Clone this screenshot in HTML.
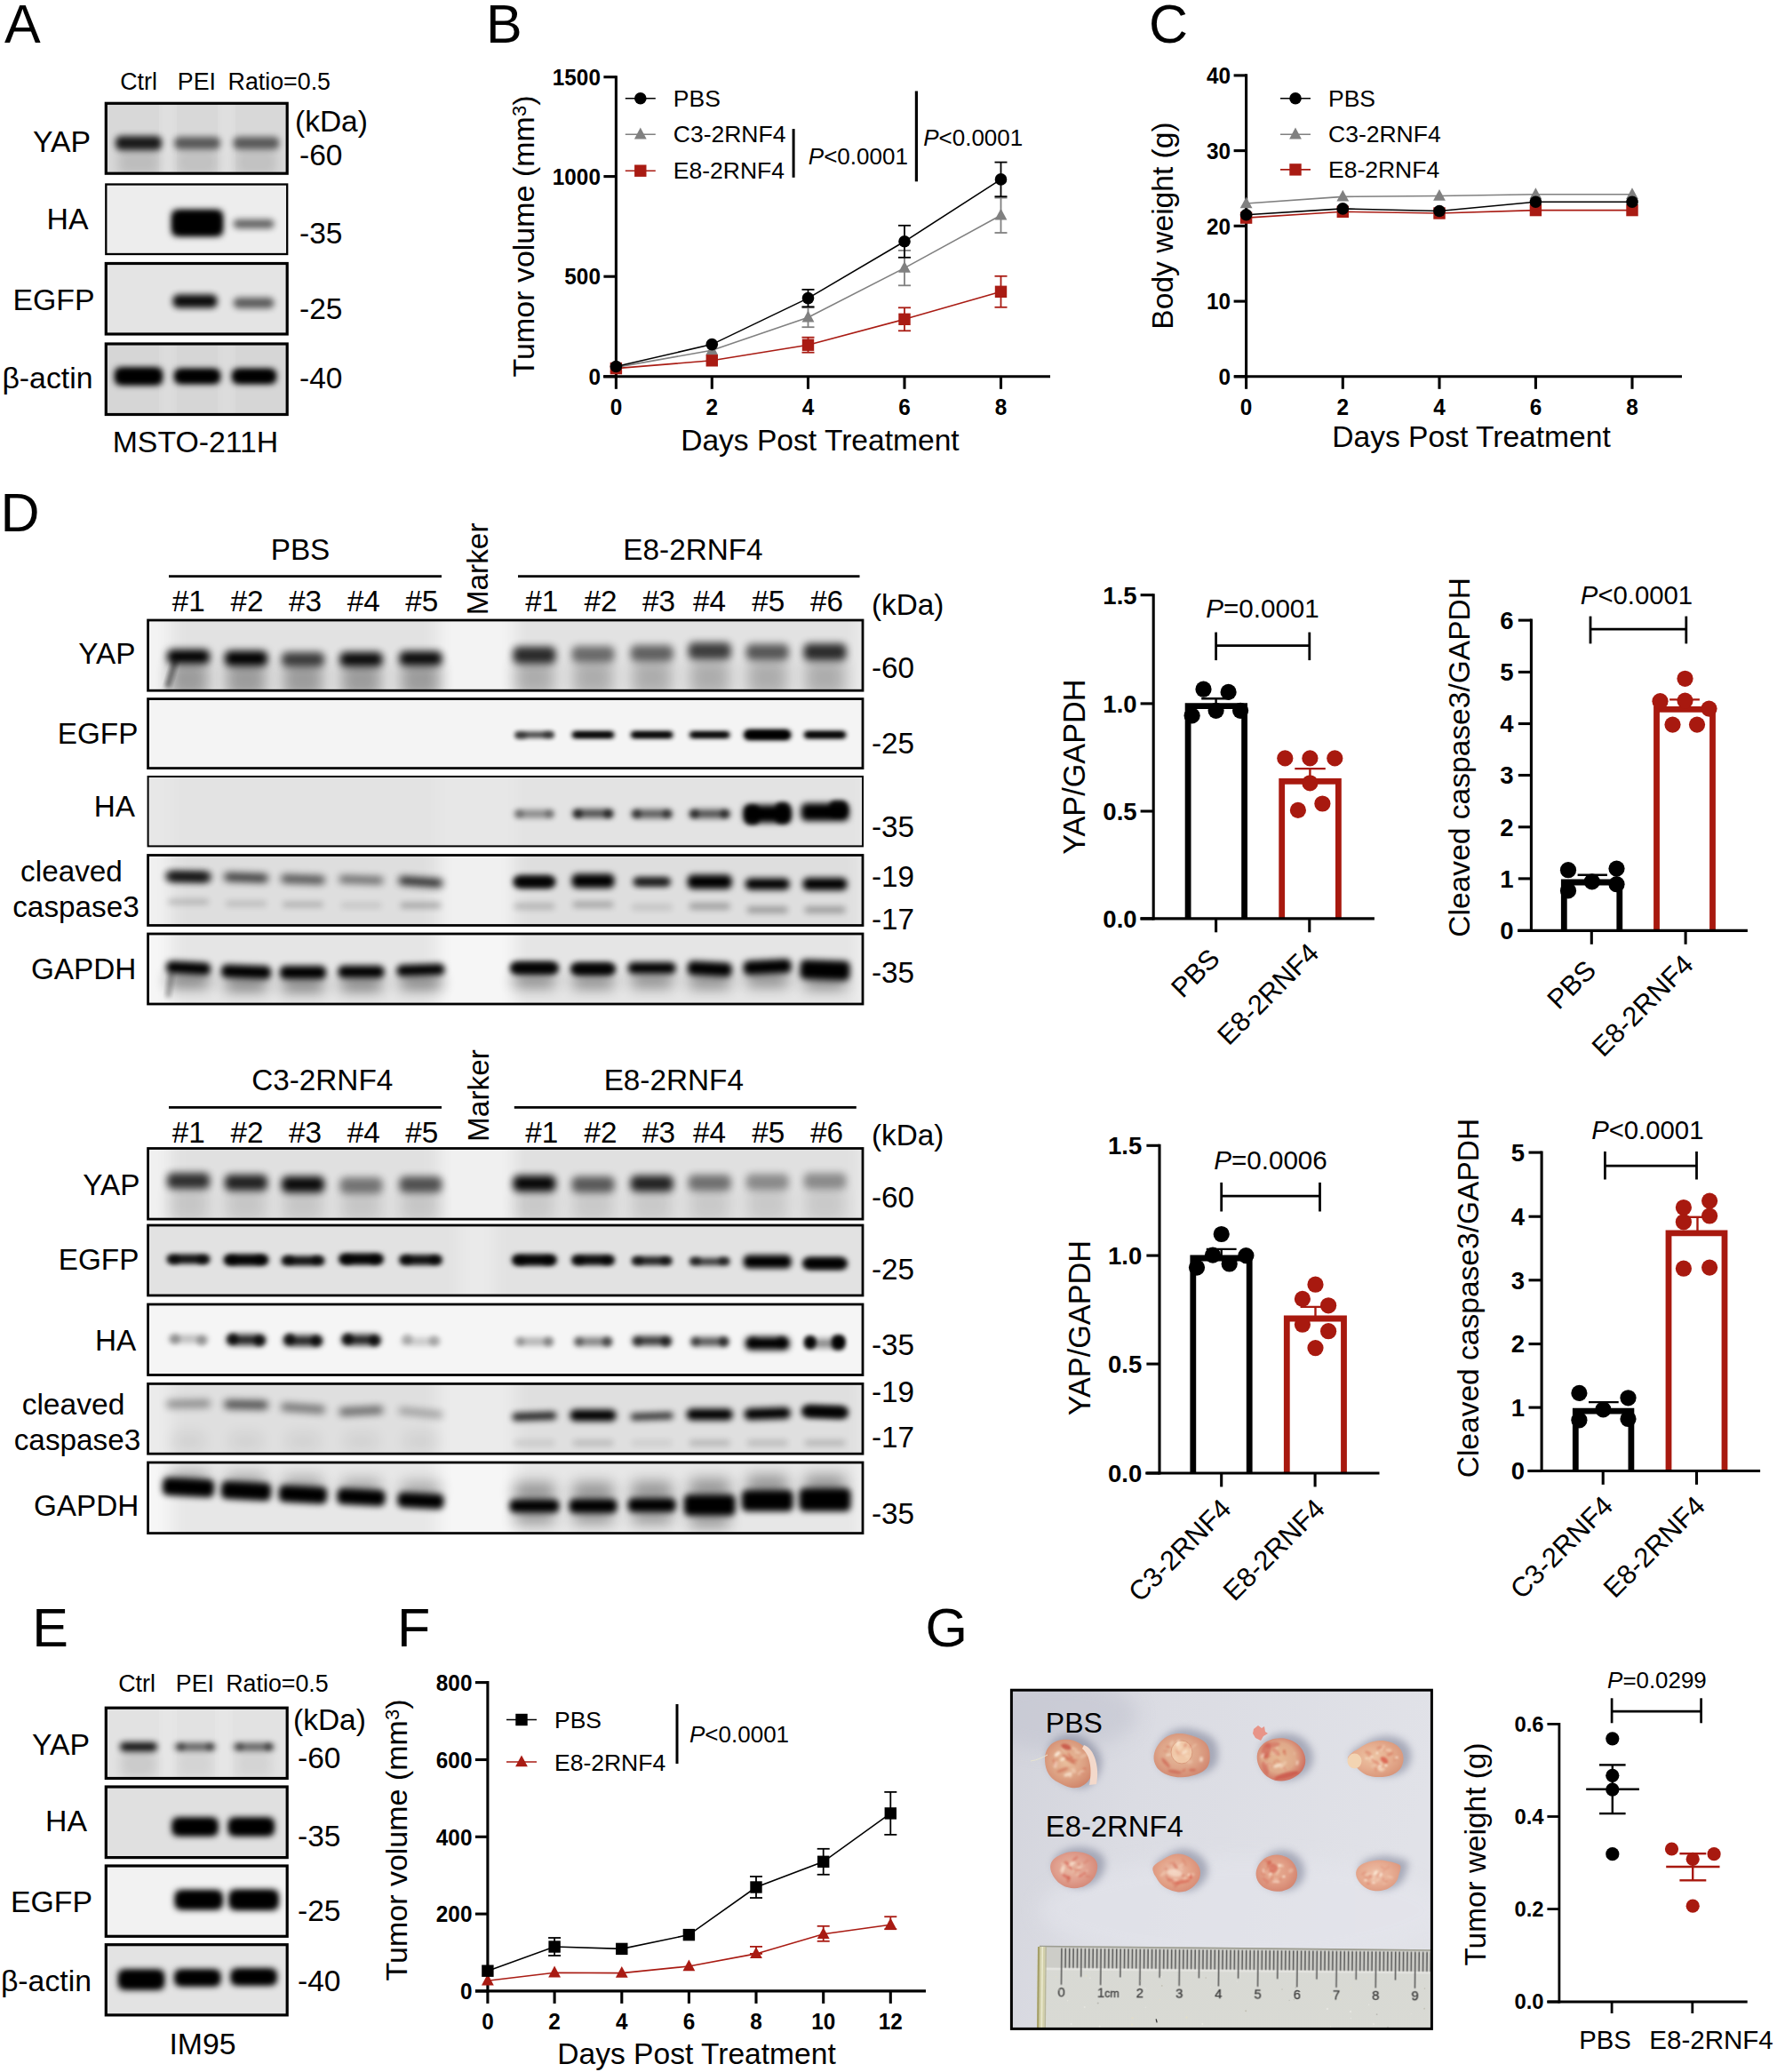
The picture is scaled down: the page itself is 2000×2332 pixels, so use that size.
<!DOCTYPE html>
<html><head><meta charset="utf-8"><title>Figure</title>
<style>
html,body{margin:0;padding:0;background:#fff;}
body{width:2000px;height:2332px;overflow:hidden;}
svg{display:block;font-family:"Liberation Sans", sans-serif;}
</style></head><body>
<svg width="2000" height="2332" viewBox="0 0 2000 2332">
<defs>
<filter id="b1" x="-50%" y="-300%" width="200%" height="700%"><feGaussianBlur stdDeviation="1"/></filter>
<filter id="b2" x="-50%" y="-300%" width="200%" height="700%"><feGaussianBlur stdDeviation="2"/></filter>
<filter id="b3" x="-50%" y="-300%" width="200%" height="700%"><feGaussianBlur stdDeviation="3"/></filter>
<filter id="b35" x="-50%" y="-300%" width="200%" height="700%"><feGaussianBlur stdDeviation="3.5"/></filter>
<filter id="b25" x="-50%" y="-300%" width="200%" height="700%"><feGaussianBlur stdDeviation="2.5"/></filter>
<filter id="b4" x="-50%" y="-300%" width="200%" height="700%"><feGaussianBlur stdDeviation="4"/></filter>
<filter id="b6" x="-50%" y="-300%" width="200%" height="700%"><feGaussianBlur stdDeviation="6"/></filter>
<filter id="b8" x="-50%" y="-300%" width="200%" height="700%"><feGaussianBlur stdDeviation="8"/></filter>
<filter id="b10" x="-50%" y="-300%" width="200%" height="700%"><feGaussianBlur stdDeviation="10"/></filter>
<clipPath id="c1"><rect x="119.3" y="116.3" width="203.9" height="78.9"/></clipPath>
<clipPath id="c2"><rect x="119.3" y="207.5" width="203.9" height="78.5"/></clipPath>
<clipPath id="c3"><rect x="119.3" y="296.5" width="203.9" height="79.5"/></clipPath>
<clipPath id="c4"><rect x="119.3" y="387.0" width="203.9" height="79.5"/></clipPath>
<clipPath id="c5"><rect x="119.3" y="1922.2" width="203.9" height="79.3"/></clipPath>
<clipPath id="c6"><rect x="119.3" y="2011.0" width="203.9" height="79.6"/></clipPath>
<clipPath id="c7"><rect x="119.3" y="2100.0" width="203.9" height="79.3"/></clipPath>
<clipPath id="c8"><rect x="119.3" y="2188.7" width="203.9" height="79.2"/></clipPath>
<clipPath id="c9"><rect x="166.6" y="698.0" width="804.4" height="79.2"/></clipPath>
<clipPath id="c10"><rect x="166.6" y="786.6" width="804.4" height="78.0"/></clipPath>
<clipPath id="c11"><rect x="166.6" y="874.0" width="804.4" height="78.4"/></clipPath>
<clipPath id="c12"><rect x="166.6" y="962.5" width="804.4" height="79.0"/></clipPath>
<clipPath id="c13"><rect x="166.6" y="1051.0" width="804.4" height="79.0"/></clipPath>
<clipPath id="c14"><rect x="166.6" y="1292.5" width="804.4" height="79.6"/></clipPath>
<clipPath id="c15"><rect x="166.6" y="1379.0" width="804.4" height="79.0"/></clipPath>
<clipPath id="c16"><rect x="166.6" y="1468.0" width="804.4" height="79.5"/></clipPath>
<clipPath id="c17"><rect x="166.6" y="1557.4" width="804.4" height="78.8"/></clipPath>
<clipPath id="c18"><rect x="166.6" y="1646.0" width="804.4" height="79.6"/></clipPath>
<filter id="b05" x="-10%" y="-10%" width="120%" height="120%"><feGaussianBlur stdDeviation="0.5"/></filter>
<clipPath id="pc"><rect x="1138.4" y="1902.2" width="473.0" height="381.20000000000005"/></clipPath>
<linearGradient id="pbg" x1="0" y1="0" x2="1" y2="0.25"><stop offset="0" stop-color="#d2d3db"/><stop offset="0.35" stop-color="#dbdce3"/><stop offset="1" stop-color="#e1e2e8"/></linearGradient>
<filter id="b07" x="-10%" y="-10%" width="120%" height="120%"><feGaussianBlur stdDeviation="0.7"/></filter>
<linearGradient id="rul" x1="0" y1="0" x2="0" y2="1"><stop offset="0" stop-color="#d8d9d4"/><stop offset="1" stop-color="#d9dad4"/></linearGradient>
<radialGradient id="tg1" cx="45%" cy="45%" r="62%"><stop offset="0" stop-color="#eac19f"/><stop offset="0.55" stop-color="#dda284"/><stop offset="1" stop-color="#ce8268"/></radialGradient>
<radialGradient id="tg2" cx="45%" cy="45%" r="62%"><stop offset="0" stop-color="#e7be9f"/><stop offset="0.55" stop-color="#dea589"/><stop offset="1" stop-color="#d0846d"/></radialGradient>
<radialGradient id="tg3" cx="45%" cy="45%" r="62%"><stop offset="0" stop-color="#e6ba95"/><stop offset="0.55" stop-color="#dfa98a"/><stop offset="1" stop-color="#cb6055"/></radialGradient>
<radialGradient id="tg4" cx="45%" cy="45%" r="62%"><stop offset="0" stop-color="#edc5a4"/><stop offset="0.55" stop-color="#e5ac8e"/><stop offset="1" stop-color="#d79377"/></radialGradient>
<radialGradient id="tg5" cx="45%" cy="45%" r="62%"><stop offset="0" stop-color="#e9baa4"/><stop offset="0.55" stop-color="#e09f8e"/><stop offset="1" stop-color="#d38473"/></radialGradient>
<radialGradient id="tg6" cx="45%" cy="45%" r="62%"><stop offset="0" stop-color="#ecc0ac"/><stop offset="0.55" stop-color="#e3a288"/><stop offset="1" stop-color="#d78973"/></radialGradient>
<radialGradient id="tg7" cx="45%" cy="45%" r="62%"><stop offset="0" stop-color="#e6ad92"/><stop offset="0.55" stop-color="#e09b83"/><stop offset="1" stop-color="#d2826d"/></radialGradient>
<radialGradient id="tg8" cx="45%" cy="45%" r="62%"><stop offset="0" stop-color="#eec2aa"/><stop offset="0.55" stop-color="#e7ac92"/><stop offset="1" stop-color="#dc977e"/></radialGradient>
</defs>
<text x="5.0" y="47.5" font-size="61" text-anchor="start" fill="#000">A</text>
<text x="156.0" y="100.7" font-size="26.8" text-anchor="middle" fill="#000">Ctrl</text>
<text x="221.4" y="100.7" font-size="26.8" text-anchor="middle" fill="#000">PEI</text>
<text x="314.3" y="100.7" font-size="26.8" text-anchor="middle" fill="#000">Ratio=0.5</text>
<rect x="119.3" y="116.3" width="203.9" height="78.9" fill="#d8d8d8" stroke="none" stroke-width="0" rx="0"/>
<g clip-path="url(#c1)">
<rect x="184.0" y="96.3" width="10.0" height="118.9" fill="#fff" opacity="0.5" filter="url(#b10)"/>
<rect x="250.0" y="96.3" width="10.0" height="118.9" fill="#fff" opacity="0.5" filter="url(#b10)"/>
<rect x="133.0" y="167.0" width="46.0" height="30.0" rx="6.0" fill="#000" opacity="0.12" filter="url(#b6)"/>
<rect x="199.0" y="167.0" width="46.0" height="30.0" rx="6.0" fill="#000" opacity="0.1" filter="url(#b6)"/>
<rect x="265.4" y="167.0" width="46.0" height="30.0" rx="6.0" fill="#000" opacity="0.1" filter="url(#b6)"/>
<rect x="130.0" y="153.0" width="52.0" height="16.0" rx="6.0" fill="#000" opacity="0.88" filter="url(#b35)"/>
<rect x="196.0" y="154.0" width="52.0" height="14.0" rx="6.0" fill="#000" opacity="0.58" filter="url(#b35)"/>
<rect x="262.4" y="154.0" width="52.0" height="14.0" rx="6.0" fill="#000" opacity="0.58" filter="url(#b35)"/>
</g>
<rect x="119.3" y="116.3" width="203.9" height="78.9" fill="none" stroke="#000" stroke-width="3.2" rx="0"/>
<rect x="119.3" y="207.5" width="203.9" height="78.5" fill="#ededed" stroke="none" stroke-width="0" rx="0"/>
<g clip-path="url(#c2)">
<rect x="193.0" y="236.0" width="58.0" height="30.0" rx="6.0" fill="#000" opacity="1.0" filter="url(#b35)"/>
<rect x="197.0" y="240.0" width="50.0" height="22.0" rx="6.0" fill="#000" opacity="1.0" filter="url(#b35)"/>
<rect x="262.6" y="247.0" width="46.0" height="10.0" rx="5.0" fill="#000" opacity="0.6" filter="url(#b35)"/>
</g>
<rect x="119.3" y="207.5" width="203.9" height="78.5" fill="none" stroke="#000" stroke-width="2.3" rx="0"/>
<rect x="119.3" y="296.5" width="203.9" height="79.5" fill="#e4e4e4" stroke="none" stroke-width="0" rx="0"/>
<g clip-path="url(#c3)">
<rect x="194.5" y="331.5" width="50.0" height="15.0" rx="6.0" fill="#000" opacity="0.95" filter="url(#b35)"/>
<rect x="262.6" y="335.0" width="46.0" height="12.0" rx="6.0" fill="#000" opacity="0.6" filter="url(#b35)"/>
</g>
<rect x="119.3" y="296.5" width="203.9" height="79.5" fill="none" stroke="#000" stroke-width="3.2" rx="0"/>
<rect x="119.3" y="387.0" width="203.9" height="79.5" fill="#d6d6d6" stroke="none" stroke-width="0" rx="0"/>
<g clip-path="url(#c4)">
<rect x="184.0" y="367.0" width="10.0" height="119.5" fill="#fff" opacity="0.4" filter="url(#b10)"/>
<rect x="250.0" y="367.0" width="10.0" height="119.5" fill="#fff" opacity="0.4" filter="url(#b10)"/>
<rect x="129.0" y="413.5" width="54.0" height="20.0" rx="6.0" fill="#000" opacity="1.0" filter="url(#b35)"/>
<rect x="133.0" y="417.5" width="46.0" height="12.0" rx="6.0" fill="#000" opacity="1.0" filter="url(#b35)"/>
<rect x="196.0" y="415.0" width="52.0" height="17.0" rx="6.0" fill="#000" opacity="1.0" filter="url(#b35)"/>
<rect x="200.0" y="418.5" width="44.0" height="10.0" rx="5.0" fill="#000" opacity="1.0" filter="url(#b35)"/>
<rect x="261.0" y="415.0" width="50.0" height="17.0" rx="6.0" fill="#000" opacity="1.0" filter="url(#b35)"/>
<rect x="265.0" y="418.5" width="42.0" height="10.0" rx="5.0" fill="#000" opacity="1.0" filter="url(#b35)"/>
</g>
<rect x="119.3" y="387.0" width="203.9" height="79.5" fill="none" stroke="#000" stroke-width="3.2" rx="0"/>
<text x="102.0" y="170.8" font-size="33.8" text-anchor="end" fill="#000">YAP</text>
<text x="99.5" y="257.6" font-size="33.8" text-anchor="end" fill="#000">HA</text>
<text x="106.5" y="348.8" font-size="33.8" text-anchor="end" fill="#000">EGFP</text>
<text x="104.5" y="437.4" font-size="33.8" text-anchor="end" fill="#000">β-actin</text>
<text x="332.0" y="147.5" font-size="33.5" text-anchor="start" fill="#000">(kDa)</text>
<text x="337.0" y="185.7" font-size="33.5" text-anchor="start" fill="#000">-60</text>
<text x="337.0" y="274.2" font-size="33.5" text-anchor="start" fill="#000">-35</text>
<text x="337.0" y="358.5" font-size="33.5" text-anchor="start" fill="#000">-25</text>
<text x="337.0" y="436.8" font-size="33.5" text-anchor="start" fill="#000">-40</text>
<text x="220.0" y="509.0" font-size="33.8" text-anchor="middle" fill="#000">MSTO-211H</text>
<text x="36.3" y="1853.0" font-size="61" text-anchor="start" fill="#000">E</text>
<text x="154.0" y="1903.5" font-size="26.8" text-anchor="middle" fill="#000">Ctrl</text>
<text x="219.4" y="1903.5" font-size="26.8" text-anchor="middle" fill="#000">PEI</text>
<text x="312.0" y="1903.5" font-size="26.8" text-anchor="middle" fill="#000">Ratio=0.5</text>
<rect x="119.3" y="1922.2" width="203.9" height="79.3" fill="#e2e2e2" stroke="none" stroke-width="0" rx="0"/>
<g clip-path="url(#c5)">
<rect x="184.0" y="1902.2" width="10.0" height="119.3" fill="#fff" opacity="0.4" filter="url(#b10)"/>
<rect x="247.0" y="1902.2" width="10.0" height="119.3" fill="#fff" opacity="0.4" filter="url(#b10)"/>
<rect x="136.0" y="1970.0" width="40.0" height="30.0" rx="6.0" fill="#000" opacity="0.1" filter="url(#b6)"/>
<rect x="199.5" y="1970.0" width="40.0" height="30.0" rx="6.0" fill="#000" opacity="0.06" filter="url(#b6)"/>
<rect x="265.6" y="1970.0" width="40.0" height="30.0" rx="6.0" fill="#000" opacity="0.06" filter="url(#b6)"/>
<rect x="135.0" y="1960.9" width="42.0" height="10.0" rx="5.0" fill="#000" opacity="0.95" filter="url(#b35)"/>
<rect x="196.5" y="1961.9" width="46.0" height="8.0" rx="4.0" fill="#000" opacity="0.62" filter="url(#b35)"/>
<rect x="262.6" y="1961.9" width="46.0" height="8.0" rx="4.0" fill="#000" opacity="0.62" filter="url(#b35)"/>
<rect x="200.0" y="1961.9" width="8.0" height="8.0" rx="4.0" fill="#000" opacity="0.35" filter="url(#b25)"/>
<rect x="232.0" y="1961.9" width="8.0" height="8.0" rx="4.0" fill="#000" opacity="0.35" filter="url(#b25)"/>
<rect x="266.0" y="1961.9" width="8.0" height="8.0" rx="4.0" fill="#000" opacity="0.3" filter="url(#b25)"/>
<rect x="298.0" y="1961.9" width="8.0" height="8.0" rx="4.0" fill="#000" opacity="0.4" filter="url(#b25)"/>
</g>
<rect x="119.3" y="1922.2" width="203.9" height="79.3" fill="none" stroke="#000" stroke-width="3.2" rx="0"/>
<rect x="119.3" y="2011.0" width="203.9" height="79.6" fill="#e0e0e0" stroke="none" stroke-width="0" rx="0"/>
<g clip-path="url(#c6)">
<rect x="193.5" y="2045.4" width="52.0" height="21.0" rx="6.0" fill="#000" opacity="1.0" filter="url(#b35)"/>
<rect x="197.5" y="2049.9" width="44.0" height="12.0" rx="6.0" fill="#000" opacity="1.0" filter="url(#b35)"/>
<rect x="256.8" y="2045.4" width="52.0" height="21.0" rx="6.0" fill="#000" opacity="1.0" filter="url(#b35)"/>
<rect x="260.8" y="2049.9" width="44.0" height="12.0" rx="6.0" fill="#000" opacity="1.0" filter="url(#b35)"/>
</g>
<rect x="119.3" y="2011.0" width="203.9" height="79.6" fill="none" stroke="#000" stroke-width="3.2" rx="0"/>
<rect x="119.3" y="2100.0" width="203.9" height="79.3" fill="#f2f2f2" stroke="none" stroke-width="0" rx="0"/>
<g clip-path="url(#c7)">
<rect x="196.7" y="2127.3" width="54.0" height="22.0" rx="6.0" fill="#000" opacity="1.0" filter="url(#b35)"/>
<rect x="200.7" y="2131.3" width="46.0" height="14.0" rx="6.0" fill="#000" opacity="1.0" filter="url(#b35)"/>
<rect x="257.6" y="2126.8" width="56.0" height="23.0" rx="6.0" fill="#000" opacity="1.0" filter="url(#b35)"/>
<rect x="261.6" y="2130.8" width="48.0" height="15.0" rx="6.0" fill="#000" opacity="1.0" filter="url(#b35)"/>
</g>
<rect x="119.3" y="2100.0" width="203.9" height="79.3" fill="none" stroke="#000" stroke-width="3.2" rx="0"/>
<rect x="119.3" y="2188.7" width="203.9" height="79.2" fill="#e3e3e3" stroke="none" stroke-width="0" rx="0"/>
<g clip-path="url(#c8)">
<rect x="133.0" y="2216.5" width="52.0" height="23.0" rx="6.0" fill="#000" opacity="1.0" filter="url(#b35)"/>
<rect x="137.0" y="2221.0" width="44.0" height="14.0" rx="6.0" fill="#000" opacity="1.0" filter="url(#b35)"/>
<rect x="196.3" y="2216.5" width="52.0" height="19.0" rx="6.0" fill="#000" opacity="1.0" filter="url(#b35)"/>
<rect x="200.3" y="2220.5" width="44.0" height="11.0" rx="5.5" fill="#000" opacity="1.0" filter="url(#b35)"/>
<rect x="259.6" y="2215.5" width="52.0" height="19.0" rx="6.0" fill="#000" opacity="1.0" filter="url(#b35)"/>
<rect x="263.6" y="2219.5" width="44.0" height="11.0" rx="5.5" fill="#000" opacity="1.0" filter="url(#b35)"/>
</g>
<rect x="119.3" y="2188.7" width="203.9" height="79.2" fill="none" stroke="#000" stroke-width="3.2" rx="0"/>
<text x="101.0" y="1974.6" font-size="33.8" text-anchor="end" fill="#000">YAP</text>
<text x="98.0" y="2061.0" font-size="33.8" text-anchor="end" fill="#000">HA</text>
<text x="104.0" y="2151.6" font-size="33.8" text-anchor="end" fill="#000">EGFP</text>
<text x="103.0" y="2240.7" font-size="33.8" text-anchor="end" fill="#000">β-actin</text>
<text x="330.0" y="1947.0" font-size="33.5" text-anchor="start" fill="#000">(kDa)</text>
<text x="335.0" y="1990.2" font-size="33.5" text-anchor="start" fill="#000">-60</text>
<text x="335.0" y="2078.0" font-size="33.5" text-anchor="start" fill="#000">-35</text>
<text x="335.0" y="2161.5" font-size="33.5" text-anchor="start" fill="#000">-25</text>
<text x="335.0" y="2241.0" font-size="33.5" text-anchor="start" fill="#000">-40</text>
<text x="228.0" y="2312.0" font-size="33.8" text-anchor="middle" fill="#000">IM95</text>
<text x="547.0" y="47.5" font-size="61" text-anchor="start" fill="#000">B</text>
<line x1="693.4" y1="85.2" x2="693.4" y2="425.4" stroke="#000" stroke-width="3.1" stroke-linecap="butt"/>
<line x1="679.0" y1="423.8" x2="1182.0" y2="423.8" stroke="#000" stroke-width="3.1" stroke-linecap="butt"/>
<line x1="679.4" y1="423.8" x2="693.4" y2="423.8" stroke="#000" stroke-width="3.1" stroke-linecap="butt"/>
<text transform="translate(675.9,433.0) scale(1,1.08)" font-size="24.3" font-weight="bold" text-anchor="end">0</text>
<line x1="679.4" y1="311.2" x2="693.4" y2="311.2" stroke="#000" stroke-width="3.1" stroke-linecap="butt"/>
<text transform="translate(675.9,320.4) scale(1,1.08)" font-size="24.3" font-weight="bold" text-anchor="end">500</text>
<line x1="679.4" y1="198.6" x2="693.4" y2="198.6" stroke="#000" stroke-width="3.1" stroke-linecap="butt"/>
<text transform="translate(675.9,207.8) scale(1,1.08)" font-size="24.3" font-weight="bold" text-anchor="end">1000</text>
<line x1="679.4" y1="86.7" x2="693.4" y2="86.7" stroke="#000" stroke-width="3.1" stroke-linecap="butt"/>
<text transform="translate(675.9,95.9) scale(1,1.08)" font-size="24.3" font-weight="bold" text-anchor="end">1500</text>
<line x1="693.4" y1="423.8" x2="693.4" y2="437.8" stroke="#000" stroke-width="3.1" stroke-linecap="butt"/>
<text transform="translate(693.4,466.8) scale(1,1.08)" font-size="24.3" font-weight="bold" text-anchor="middle">0</text>
<line x1="801.3" y1="423.8" x2="801.3" y2="437.8" stroke="#000" stroke-width="3.1" stroke-linecap="butt"/>
<text transform="translate(801.3,466.8) scale(1,1.08)" font-size="24.3" font-weight="bold" text-anchor="middle">2</text>
<line x1="909.5" y1="423.8" x2="909.5" y2="437.8" stroke="#000" stroke-width="3.1" stroke-linecap="butt"/>
<text transform="translate(909.5,466.8) scale(1,1.08)" font-size="24.3" font-weight="bold" text-anchor="middle">4</text>
<line x1="1018.0" y1="423.8" x2="1018.0" y2="437.8" stroke="#000" stroke-width="3.1" stroke-linecap="butt"/>
<text transform="translate(1018.0,466.8) scale(1,1.08)" font-size="24.3" font-weight="bold" text-anchor="middle">6</text>
<line x1="1126.5" y1="423.8" x2="1126.5" y2="437.8" stroke="#000" stroke-width="3.1" stroke-linecap="butt"/>
<text transform="translate(1126.5,466.8) scale(1,1.08)" font-size="24.3" font-weight="bold" text-anchor="middle">8</text>
<text x="922.9" y="507.4" font-size="33.6" text-anchor="middle" fill="#000">Days Post Treatment</text>
<text x="601.2" y="266" font-size="34" text-anchor="middle" transform="rotate(-90 601.2 266)">Tumor volume (mm<tspan font-size="22" dy="-9.5">3</tspan><tspan dy="9.5">)</tspan></text>
<polyline points="693.4,413.4 801.3,394.3 909.5,357.2 1018.0,301.6 1126.5,242.3" fill="none" stroke="#808080" stroke-width="1.6"/>
<line x1="909.5" y1="346.2" x2="909.5" y2="368.2" stroke="#808080" stroke-width="1.8" stroke-linecap="butt"/>
<line x1="902.5" y1="346.2" x2="916.5" y2="346.2" stroke="#808080" stroke-width="1.8" stroke-linecap="butt"/>
<line x1="902.5" y1="368.2" x2="916.5" y2="368.2" stroke="#808080" stroke-width="1.8" stroke-linecap="butt"/>
<line x1="1018.0" y1="281.9" x2="1018.0" y2="321.3" stroke="#808080" stroke-width="1.8" stroke-linecap="butt"/>
<line x1="1011.0" y1="281.9" x2="1025.0" y2="281.9" stroke="#808080" stroke-width="1.8" stroke-linecap="butt"/>
<line x1="1011.0" y1="321.3" x2="1025.0" y2="321.3" stroke="#808080" stroke-width="1.8" stroke-linecap="butt"/>
<line x1="1126.5" y1="222.6" x2="1126.5" y2="262.0" stroke="#808080" stroke-width="1.8" stroke-linecap="butt"/>
<line x1="1119.5" y1="222.6" x2="1133.5" y2="222.6" stroke="#808080" stroke-width="1.8" stroke-linecap="butt"/>
<line x1="1119.5" y1="262.0" x2="1133.5" y2="262.0" stroke="#808080" stroke-width="1.8" stroke-linecap="butt"/>
<polygon points="686.5,418.6 700.3,418.6 693.4,405.8" fill="#808080"/>
<polygon points="794.4,399.5 808.2,399.5 801.3,386.7" fill="#808080"/>
<polygon points="902.6,362.4 916.4,362.4 909.5,349.6" fill="#808080"/>
<polygon points="1011.1,306.8 1024.9,306.8 1018.0,294.0" fill="#808080"/>
<polygon points="1119.6,247.5 1133.4,247.5 1126.5,234.7" fill="#808080"/>
<polyline points="693.4,414.6 801.3,405.8 909.5,388.2 1018.0,359.3 1126.5,328.3" fill="none" stroke="#a91b13" stroke-width="1.6"/>
<line x1="909.5" y1="379.7" x2="909.5" y2="396.7" stroke="#a91b13" stroke-width="1.8" stroke-linecap="butt"/>
<line x1="902.5" y1="379.7" x2="916.5" y2="379.7" stroke="#a91b13" stroke-width="1.8" stroke-linecap="butt"/>
<line x1="902.5" y1="396.7" x2="916.5" y2="396.7" stroke="#a91b13" stroke-width="1.8" stroke-linecap="butt"/>
<line x1="1018.0" y1="346.3" x2="1018.0" y2="372.3" stroke="#a91b13" stroke-width="1.8" stroke-linecap="butt"/>
<line x1="1011.0" y1="346.3" x2="1025.0" y2="346.3" stroke="#a91b13" stroke-width="1.8" stroke-linecap="butt"/>
<line x1="1011.0" y1="372.3" x2="1025.0" y2="372.3" stroke="#a91b13" stroke-width="1.8" stroke-linecap="butt"/>
<line x1="1126.5" y1="310.8" x2="1126.5" y2="345.8" stroke="#a91b13" stroke-width="1.8" stroke-linecap="butt"/>
<line x1="1119.5" y1="310.8" x2="1133.5" y2="310.8" stroke="#a91b13" stroke-width="1.8" stroke-linecap="butt"/>
<line x1="1119.5" y1="345.8" x2="1133.5" y2="345.8" stroke="#a91b13" stroke-width="1.8" stroke-linecap="butt"/>
<rect x="686.7" y="407.9" width="13.4" height="13.4" fill="#a91b13" stroke="none" stroke-width="0" rx="0"/>
<rect x="794.6" y="399.1" width="13.4" height="13.4" fill="#a91b13" stroke="none" stroke-width="0" rx="0"/>
<rect x="902.8" y="381.5" width="13.4" height="13.4" fill="#a91b13" stroke="none" stroke-width="0" rx="0"/>
<rect x="1011.3" y="352.6" width="13.4" height="13.4" fill="#a91b13" stroke="none" stroke-width="0" rx="0"/>
<rect x="1119.8" y="321.6" width="13.4" height="13.4" fill="#a91b13" stroke="none" stroke-width="0" rx="0"/>
<polyline points="693.4,412.5 801.3,387.6 909.5,335.6 1018.0,271.8 1126.5,201.9" fill="none" stroke="#000" stroke-width="1.6"/>
<line x1="909.5" y1="325.9" x2="909.5" y2="345.3" stroke="#000" stroke-width="1.8" stroke-linecap="butt"/>
<line x1="902.5" y1="325.9" x2="916.5" y2="325.9" stroke="#000" stroke-width="1.8" stroke-linecap="butt"/>
<line x1="902.5" y1="345.3" x2="916.5" y2="345.3" stroke="#000" stroke-width="1.8" stroke-linecap="butt"/>
<line x1="1018.0" y1="253.8" x2="1018.0" y2="289.8" stroke="#000" stroke-width="1.8" stroke-linecap="butt"/>
<line x1="1011.0" y1="253.8" x2="1025.0" y2="253.8" stroke="#000" stroke-width="1.8" stroke-linecap="butt"/>
<line x1="1011.0" y1="289.8" x2="1025.0" y2="289.8" stroke="#000" stroke-width="1.8" stroke-linecap="butt"/>
<line x1="1126.5" y1="182.6" x2="1126.5" y2="221.2" stroke="#000" stroke-width="1.8" stroke-linecap="butt"/>
<line x1="1119.5" y1="182.6" x2="1133.5" y2="182.6" stroke="#000" stroke-width="1.8" stroke-linecap="butt"/>
<line x1="1119.5" y1="221.2" x2="1133.5" y2="221.2" stroke="#000" stroke-width="1.8" stroke-linecap="butt"/>
<circle cx="693.4" cy="412.5" r="6.8" fill="#000" stroke="none" stroke-width="0"/>
<circle cx="801.3" cy="387.6" r="6.8" fill="#000" stroke="none" stroke-width="0"/>
<circle cx="909.5" cy="335.6" r="6.8" fill="#000" stroke="none" stroke-width="0"/>
<circle cx="1018.0" cy="271.8" r="6.8" fill="#000" stroke="none" stroke-width="0"/>
<circle cx="1126.5" cy="201.9" r="6.8" fill="#000" stroke="none" stroke-width="0"/>
<line x1="703.8" y1="110.7" x2="737.8" y2="110.7" stroke="#000" stroke-width="1.6" stroke-linecap="butt"/>
<circle cx="720.8" cy="110.7" r="6.8" fill="#000" stroke="none" stroke-width="0"/>
<text x="757.8" y="119.9" font-size="26.5" text-anchor="start" fill="#000">PBS</text>
<line x1="703.8" y1="151.2" x2="737.8" y2="151.2" stroke="#808080" stroke-width="1.6" stroke-linecap="butt"/>
<polygon points="713.9,156.4 727.7,156.4 720.8,143.6" fill="#808080"/>
<text x="757.8" y="160.3" font-size="26.5" text-anchor="start" fill="#000">C3-2RNF4</text>
<line x1="703.8" y1="192.2" x2="737.8" y2="192.2" stroke="#a91b13" stroke-width="1.6" stroke-linecap="butt"/>
<rect x="714.1" y="185.5" width="13.4" height="13.4" fill="#a91b13" stroke="none" stroke-width="0" rx="0"/>
<text x="757.8" y="201.3" font-size="26.5" text-anchor="start" fill="#000">E8-2RNF4</text>
<line x1="893.1" y1="145.1" x2="893.1" y2="199.8" stroke="#000" stroke-width="3.0" stroke-linecap="butt"/>
<text x="909.8" y="184.6" font-size="26"><tspan font-style="italic">P</tspan>&lt;0.0001</text>
<line x1="1031.4" y1="102.5" x2="1031.4" y2="204.3" stroke="#000" stroke-width="3.2" stroke-linecap="butt"/>
<text x="1039.2" y="163.9" font-size="26"><tspan font-style="italic">P</tspan>&lt;0.0001</text>
<text x="1293.0" y="47.5" font-size="61" text-anchor="start" fill="#000">C</text>
<line x1="1402.6" y1="83.2" x2="1402.6" y2="425.4" stroke="#000" stroke-width="3.1" stroke-linecap="butt"/>
<line x1="1389.0" y1="423.8" x2="1893.0" y2="423.8" stroke="#000" stroke-width="3.1" stroke-linecap="butt"/>
<line x1="1388.6" y1="423.8" x2="1402.6" y2="423.8" stroke="#000" stroke-width="3.1" stroke-linecap="butt"/>
<text transform="translate(1385.1,433.0) scale(1,1.08)" font-size="24.3" font-weight="bold" text-anchor="end">0</text>
<line x1="1388.6" y1="339.1" x2="1402.6" y2="339.1" stroke="#000" stroke-width="3.1" stroke-linecap="butt"/>
<text transform="translate(1385.1,348.3) scale(1,1.08)" font-size="24.3" font-weight="bold" text-anchor="end">10</text>
<line x1="1388.6" y1="254.3" x2="1402.6" y2="254.3" stroke="#000" stroke-width="3.1" stroke-linecap="butt"/>
<text transform="translate(1385.1,263.5) scale(1,1.08)" font-size="24.3" font-weight="bold" text-anchor="end">20</text>
<line x1="1388.6" y1="169.6" x2="1402.6" y2="169.6" stroke="#000" stroke-width="3.1" stroke-linecap="butt"/>
<text transform="translate(1385.1,178.8) scale(1,1.08)" font-size="24.3" font-weight="bold" text-anchor="end">30</text>
<line x1="1388.6" y1="84.9" x2="1402.6" y2="84.9" stroke="#000" stroke-width="3.1" stroke-linecap="butt"/>
<text transform="translate(1385.1,94.1) scale(1,1.08)" font-size="24.3" font-weight="bold" text-anchor="end">40</text>
<line x1="1402.6" y1="423.8" x2="1402.6" y2="437.8" stroke="#000" stroke-width="3.1" stroke-linecap="butt"/>
<text transform="translate(1402.6,466.8) scale(1,1.08)" font-size="24.3" font-weight="bold" text-anchor="middle">0</text>
<line x1="1511.3" y1="423.8" x2="1511.3" y2="437.8" stroke="#000" stroke-width="3.1" stroke-linecap="butt"/>
<text transform="translate(1511.3,466.8) scale(1,1.08)" font-size="24.3" font-weight="bold" text-anchor="middle">2</text>
<line x1="1620.0" y1="423.8" x2="1620.0" y2="437.8" stroke="#000" stroke-width="3.1" stroke-linecap="butt"/>
<text transform="translate(1620.0,466.8) scale(1,1.08)" font-size="24.3" font-weight="bold" text-anchor="middle">4</text>
<line x1="1728.4" y1="423.8" x2="1728.4" y2="437.8" stroke="#000" stroke-width="3.1" stroke-linecap="butt"/>
<text transform="translate(1728.4,466.8) scale(1,1.08)" font-size="24.3" font-weight="bold" text-anchor="middle">6</text>
<line x1="1837.0" y1="423.8" x2="1837.0" y2="437.8" stroke="#000" stroke-width="3.1" stroke-linecap="butt"/>
<text transform="translate(1837.0,466.8) scale(1,1.08)" font-size="24.3" font-weight="bold" text-anchor="middle">8</text>
<text x="1656.0" y="503.0" font-size="33.6" text-anchor="middle" fill="#000">Days Post Treatment</text>
<text x="1320.0" y="254.0" font-size="33.6" text-anchor="middle" fill="#000" transform="rotate(-90 1320.0 254.0)">Body weight (g)</text>
<polyline points="1402.6,229.0 1511.3,221.4 1620.0,220.5 1728.4,218.8 1837.0,218.8" fill="none" stroke="#808080" stroke-width="1.6"/>
<polygon points="1395.7,234.2 1409.5,234.2 1402.6,221.4" fill="#808080"/>
<polygon points="1504.4,226.6 1518.2,226.6 1511.3,213.8" fill="#808080"/>
<polygon points="1613.1,225.7 1626.9,225.7 1620.0,212.9" fill="#808080"/>
<polygon points="1721.5,224.0 1735.3,224.0 1728.4,211.2" fill="#808080"/>
<polygon points="1830.1,224.0 1843.9,224.0 1837.0,211.2" fill="#808080"/>
<polyline points="1402.6,245.1 1511.3,238.3 1620.0,240.0 1728.4,236.6 1837.0,236.6" fill="none" stroke="#a91b13" stroke-width="1.6"/>
<rect x="1395.9" y="238.4" width="13.4" height="13.4" fill="#a91b13" stroke="none" stroke-width="0" rx="0"/>
<rect x="1504.6" y="231.6" width="13.4" height="13.4" fill="#a91b13" stroke="none" stroke-width="0" rx="0"/>
<rect x="1613.3" y="233.3" width="13.4" height="13.4" fill="#a91b13" stroke="none" stroke-width="0" rx="0"/>
<rect x="1721.7" y="229.9" width="13.4" height="13.4" fill="#a91b13" stroke="none" stroke-width="0" rx="0"/>
<rect x="1830.3" y="229.9" width="13.4" height="13.4" fill="#a91b13" stroke="none" stroke-width="0" rx="0"/>
<polyline points="1402.6,241.7 1511.3,234.9 1620.0,237.5 1728.4,227.3 1837.0,227.3" fill="none" stroke="#000" stroke-width="1.6"/>
<circle cx="1402.6" cy="241.7" r="6.8" fill="#000" stroke="none" stroke-width="0"/>
<circle cx="1511.3" cy="234.9" r="6.8" fill="#000" stroke="none" stroke-width="0"/>
<circle cx="1620.0" cy="237.5" r="6.8" fill="#000" stroke="none" stroke-width="0"/>
<circle cx="1728.4" cy="227.3" r="6.8" fill="#000" stroke="none" stroke-width="0"/>
<circle cx="1837.0" cy="227.3" r="6.8" fill="#000" stroke="none" stroke-width="0"/>
<line x1="1441.0" y1="110.7" x2="1475.0" y2="110.7" stroke="#000" stroke-width="1.6" stroke-linecap="butt"/>
<circle cx="1458.0" cy="110.7" r="6.8" fill="#000" stroke="none" stroke-width="0"/>
<text x="1495.0" y="119.9" font-size="26.5" text-anchor="start" fill="#000">PBS</text>
<line x1="1441.0" y1="151.2" x2="1475.0" y2="151.2" stroke="#808080" stroke-width="1.6" stroke-linecap="butt"/>
<polygon points="1451.1,156.4 1464.9,156.4 1458.0,143.6" fill="#808080"/>
<text x="1495.0" y="160.3" font-size="26.5" text-anchor="start" fill="#000">C3-2RNF4</text>
<line x1="1441.0" y1="190.9" x2="1475.0" y2="190.9" stroke="#a91b13" stroke-width="1.6" stroke-linecap="butt"/>
<rect x="1451.3" y="184.2" width="13.4" height="13.4" fill="#a91b13" stroke="none" stroke-width="0" rx="0"/>
<text x="1495.0" y="199.8" font-size="26.5" text-anchor="start" fill="#000">E8-2RNF4</text>
<text x="447.0" y="1853.0" font-size="61" text-anchor="start" fill="#000">F</text>
<line x1="548.9" y1="1892.0" x2="548.9" y2="2242.5" stroke="#000" stroke-width="3.1" stroke-linecap="butt"/>
<line x1="535.0" y1="2240.9" x2="1042.0" y2="2240.9" stroke="#000" stroke-width="3.1" stroke-linecap="butt"/>
<line x1="534.9" y1="2240.9" x2="548.9" y2="2240.9" stroke="#000" stroke-width="3.1" stroke-linecap="butt"/>
<text transform="translate(531.4,2250.1) scale(1,1.08)" font-size="24.3" font-weight="bold" text-anchor="end">0</text>
<line x1="534.9" y1="2154.1" x2="548.9" y2="2154.1" stroke="#000" stroke-width="3.1" stroke-linecap="butt"/>
<text transform="translate(531.4,2163.3) scale(1,1.08)" font-size="24.3" font-weight="bold" text-anchor="end">200</text>
<line x1="534.9" y1="2067.3" x2="548.9" y2="2067.3" stroke="#000" stroke-width="3.1" stroke-linecap="butt"/>
<text transform="translate(531.4,2076.5) scale(1,1.08)" font-size="24.3" font-weight="bold" text-anchor="end">400</text>
<line x1="534.9" y1="1980.5" x2="548.9" y2="1980.5" stroke="#000" stroke-width="3.1" stroke-linecap="butt"/>
<text transform="translate(531.4,1989.7) scale(1,1.08)" font-size="24.3" font-weight="bold" text-anchor="end">600</text>
<line x1="534.9" y1="1893.6" x2="548.9" y2="1893.6" stroke="#000" stroke-width="3.1" stroke-linecap="butt"/>
<text transform="translate(531.4,1902.8) scale(1,1.08)" font-size="24.3" font-weight="bold" text-anchor="end">800</text>
<line x1="548.9" y1="2240.9" x2="548.9" y2="2254.9" stroke="#000" stroke-width="3.1" stroke-linecap="butt"/>
<text transform="translate(548.9,2283.9) scale(1,1.08)" font-size="24.3" font-weight="bold" text-anchor="middle">0</text>
<line x1="624.1" y1="2240.9" x2="624.1" y2="2254.9" stroke="#000" stroke-width="3.1" stroke-linecap="butt"/>
<text transform="translate(624.1,2283.9) scale(1,1.08)" font-size="24.3" font-weight="bold" text-anchor="middle">2</text>
<line x1="699.8" y1="2240.9" x2="699.8" y2="2254.9" stroke="#000" stroke-width="3.1" stroke-linecap="butt"/>
<text transform="translate(699.8,2283.9) scale(1,1.08)" font-size="24.3" font-weight="bold" text-anchor="middle">4</text>
<line x1="775.4" y1="2240.9" x2="775.4" y2="2254.9" stroke="#000" stroke-width="3.1" stroke-linecap="butt"/>
<text transform="translate(775.4,2283.9) scale(1,1.08)" font-size="24.3" font-weight="bold" text-anchor="middle">6</text>
<line x1="851.0" y1="2240.9" x2="851.0" y2="2254.9" stroke="#000" stroke-width="3.1" stroke-linecap="butt"/>
<text transform="translate(851.0,2283.9) scale(1,1.08)" font-size="24.3" font-weight="bold" text-anchor="middle">8</text>
<line x1="926.7" y1="2240.9" x2="926.7" y2="2254.9" stroke="#000" stroke-width="3.1" stroke-linecap="butt"/>
<text transform="translate(926.7,2283.9) scale(1,1.08)" font-size="24.3" font-weight="bold" text-anchor="middle">10</text>
<line x1="1002.3" y1="2240.9" x2="1002.3" y2="2254.9" stroke="#000" stroke-width="3.1" stroke-linecap="butt"/>
<text transform="translate(1002.3,2283.9) scale(1,1.08)" font-size="24.3" font-weight="bold" text-anchor="middle">12</text>
<text x="784.0" y="2323.0" font-size="33.6" text-anchor="middle" fill="#000">Days Post Treatment</text>
<text x="458" y="2071" font-size="34" text-anchor="middle" transform="rotate(-90 458 2071)">Tumor volume (mm<tspan font-size="22" dy="-9.5">3</tspan><tspan dy="9.5">)</tspan></text>
<polyline points="548.9,2229.2 624.1,2220.2 699.8,2220.6 775.4,2213.0 851.0,2198.9 926.7,2176.8 1002.3,2166.2" fill="none" stroke="#a91b13" stroke-width="1.6"/>
<line x1="851.0" y1="2190.9" x2="851.0" y2="2198.9" stroke="#a91b13" stroke-width="1.8" stroke-linecap="butt"/>
<line x1="844.0" y1="2190.9" x2="858.0" y2="2190.9" stroke="#a91b13" stroke-width="1.8" stroke-linecap="butt"/>
<line x1="844.0" y1="2198.9" x2="858.0" y2="2198.9" stroke="#a91b13" stroke-width="1.8" stroke-linecap="butt"/>
<line x1="926.7" y1="2167.8" x2="926.7" y2="2184.8" stroke="#a91b13" stroke-width="1.8" stroke-linecap="butt"/>
<line x1="919.7" y1="2167.8" x2="933.7" y2="2167.8" stroke="#a91b13" stroke-width="1.8" stroke-linecap="butt"/>
<line x1="919.7" y1="2184.8" x2="933.7" y2="2184.8" stroke="#a91b13" stroke-width="1.8" stroke-linecap="butt"/>
<line x1="1002.3" y1="2157.2" x2="1002.3" y2="2171.2" stroke="#a91b13" stroke-width="1.8" stroke-linecap="butt"/>
<line x1="995.3" y1="2157.2" x2="1009.3" y2="2157.2" stroke="#a91b13" stroke-width="1.8" stroke-linecap="butt"/>
<line x1="995.3" y1="2171.2" x2="1009.3" y2="2171.2" stroke="#a91b13" stroke-width="1.8" stroke-linecap="butt"/>
<polygon points="542.0,2234.4 555.8,2234.4 548.9,2221.6" fill="#a91b13"/>
<polygon points="617.2,2225.4 631.0,2225.4 624.1,2212.6" fill="#a91b13"/>
<polygon points="692.9,2225.8 706.7,2225.8 699.8,2213.0" fill="#a91b13"/>
<polygon points="768.5,2218.2 782.3,2218.2 775.4,2205.4" fill="#a91b13"/>
<polygon points="844.1,2204.1 857.9,2204.1 851.0,2191.3" fill="#a91b13"/>
<polygon points="919.8,2182.0 933.6,2182.0 926.7,2169.2" fill="#a91b13"/>
<polygon points="995.4,2171.4 1009.2,2171.4 1002.3,2158.6" fill="#a91b13"/>
<polyline points="548.9,2218.2 624.1,2191.0 699.8,2193.4 775.4,2177.6 851.0,2124.0 926.7,2095.3 1002.3,2040.9" fill="none" stroke="#000" stroke-width="1.6"/>
<line x1="624.1" y1="2181.0" x2="624.1" y2="2201.0" stroke="#000" stroke-width="1.8" stroke-linecap="butt"/>
<line x1="617.1" y1="2181.0" x2="631.1" y2="2181.0" stroke="#000" stroke-width="1.8" stroke-linecap="butt"/>
<line x1="617.1" y1="2201.0" x2="631.1" y2="2201.0" stroke="#000" stroke-width="1.8" stroke-linecap="butt"/>
<line x1="851.0" y1="2112.0" x2="851.0" y2="2136.0" stroke="#000" stroke-width="1.8" stroke-linecap="butt"/>
<line x1="844.0" y1="2112.0" x2="858.0" y2="2112.0" stroke="#000" stroke-width="1.8" stroke-linecap="butt"/>
<line x1="844.0" y1="2136.0" x2="858.0" y2="2136.0" stroke="#000" stroke-width="1.8" stroke-linecap="butt"/>
<line x1="926.7" y1="2080.8" x2="926.7" y2="2109.8" stroke="#000" stroke-width="1.8" stroke-linecap="butt"/>
<line x1="919.7" y1="2080.8" x2="933.7" y2="2080.8" stroke="#000" stroke-width="1.8" stroke-linecap="butt"/>
<line x1="919.7" y1="2109.8" x2="933.7" y2="2109.8" stroke="#000" stroke-width="1.8" stroke-linecap="butt"/>
<line x1="1002.3" y1="2016.9" x2="1002.3" y2="2064.9" stroke="#000" stroke-width="1.8" stroke-linecap="butt"/>
<line x1="995.3" y1="2016.9" x2="1009.3" y2="2016.9" stroke="#000" stroke-width="1.8" stroke-linecap="butt"/>
<line x1="995.3" y1="2064.9" x2="1009.3" y2="2064.9" stroke="#000" stroke-width="1.8" stroke-linecap="butt"/>
<rect x="542.2" y="2211.5" width="13.4" height="13.4" fill="#000" stroke="none" stroke-width="0" rx="0"/>
<rect x="617.4" y="2184.3" width="13.4" height="13.4" fill="#000" stroke="none" stroke-width="0" rx="0"/>
<rect x="693.1" y="2186.7" width="13.4" height="13.4" fill="#000" stroke="none" stroke-width="0" rx="0"/>
<rect x="768.7" y="2170.9" width="13.4" height="13.4" fill="#000" stroke="none" stroke-width="0" rx="0"/>
<rect x="844.3" y="2117.3" width="13.4" height="13.4" fill="#000" stroke="none" stroke-width="0" rx="0"/>
<rect x="920.0" y="2088.6" width="13.4" height="13.4" fill="#000" stroke="none" stroke-width="0" rx="0"/>
<rect x="995.6" y="2034.2" width="13.4" height="13.4" fill="#000" stroke="none" stroke-width="0" rx="0"/>
<line x1="570.0" y1="1935.5" x2="604.0" y2="1935.5" stroke="#000" stroke-width="1.6" stroke-linecap="butt"/>
<rect x="580.3" y="1928.8" width="13.4" height="13.4" fill="#000" stroke="none" stroke-width="0" rx="0"/>
<text x="624.0" y="1945.0" font-size="26.5" text-anchor="start" fill="#000">PBS</text>
<line x1="570.0" y1="1983.0" x2="604.0" y2="1983.0" stroke="#a91b13" stroke-width="1.6" stroke-linecap="butt"/>
<polygon points="580.1,1988.2 593.9,1988.2 587.0,1975.4" fill="#a91b13"/>
<text x="624.0" y="1993.0" font-size="26.5" text-anchor="start" fill="#000">E8-2RNF4</text>
<line x1="762.0" y1="1918.0" x2="762.0" y2="1985.0" stroke="#000" stroke-width="3.0" stroke-linecap="butt"/>
<text x="776.0" y="1961.0" font-size="26"><tspan font-style="italic">P</tspan>&lt;0.0001</text>
<text x="0.5" y="598.0" font-size="61" text-anchor="start" fill="#000">D</text>
<text x="338.0" y="629.6" font-size="33.3" text-anchor="middle" fill="#000">PBS</text>
<line x1="190.0" y1="648.6" x2="497.0" y2="648.6" stroke="#000" stroke-width="2.8" stroke-linecap="butt"/>
<text x="780.0" y="629.6" font-size="33.3" text-anchor="middle" fill="#000">E8-2RNF4</text>
<line x1="583.0" y1="648.6" x2="967.5" y2="648.6" stroke="#000" stroke-width="2.8" stroke-linecap="butt"/>
<text x="212.3" y="688.2" font-size="33.3" text-anchor="middle" fill="#000">#1</text>
<text x="278.0" y="688.2" font-size="33.3" text-anchor="middle" fill="#000">#2</text>
<text x="343.5" y="688.2" font-size="33.3" text-anchor="middle" fill="#000">#3</text>
<text x="409.2" y="688.2" font-size="33.3" text-anchor="middle" fill="#000">#4</text>
<text x="474.8" y="688.2" font-size="33.3" text-anchor="middle" fill="#000">#5</text>
<text x="609.7" y="688.2" font-size="33.3" text-anchor="middle" fill="#000">#1</text>
<text x="676.0" y="688.2" font-size="33.3" text-anchor="middle" fill="#000">#2</text>
<text x="741.6" y="688.2" font-size="33.3" text-anchor="middle" fill="#000">#3</text>
<text x="798.5" y="688.2" font-size="33.3" text-anchor="middle" fill="#000">#4</text>
<text x="864.7" y="688.2" font-size="33.3" text-anchor="middle" fill="#000">#5</text>
<text x="930.4" y="688.2" font-size="33.3" text-anchor="middle" fill="#000">#6</text>
<text x="549.5" y="640.4" font-size="33.4" text-anchor="middle" fill="#000" transform="rotate(-90 549.5 640.4)">Marker</text>
<text x="981.0" y="691.8" font-size="33.3" text-anchor="start" fill="#000">(kDa)</text>
<rect x="166.6" y="698.0" width="804.4" height="79.2" fill="#f3f3f3" stroke="none" stroke-width="0" rx="0"/>
<g clip-path="url(#c9)">
<rect x="193.0" y="678.0" width="300.0" height="119.2" fill="#000" opacity="0.0675" filter="url(#b10)"/>
<rect x="580.0" y="678.0" width="390.0" height="119.2" fill="#000" opacity="0.0675" filter="url(#b10)"/>
<rect x="190.0" y="744.0" width="44.0" height="40.0" rx="6.0" fill="#000" opacity="0.3105" filter="url(#b8)"/>
<rect x="255.0" y="744.0" width="44.0" height="40.0" rx="6.0" fill="#000" opacity="0.3105" filter="url(#b8)"/>
<rect x="319.0" y="744.0" width="44.0" height="40.0" rx="6.0" fill="#000" opacity="0.3105" filter="url(#b8)"/>
<rect x="384.5" y="744.0" width="44.0" height="40.0" rx="6.0" fill="#000" opacity="0.3105" filter="url(#b8)"/>
<rect x="451.5" y="744.0" width="44.0" height="40.0" rx="6.0" fill="#000" opacity="0.3105" filter="url(#b8)"/>
<rect x="579.4" y="742.0" width="44.0" height="40.0" rx="6.0" fill="#000" opacity="0.22999999999999998" filter="url(#b8)"/>
<rect x="645.5" y="742.0" width="44.0" height="40.0" rx="6.0" fill="#000" opacity="0.22999999999999998" filter="url(#b8)"/>
<rect x="711.7" y="742.0" width="44.0" height="40.0" rx="6.0" fill="#000" opacity="0.22999999999999998" filter="url(#b8)"/>
<rect x="776.7" y="742.0" width="44.0" height="40.0" rx="6.0" fill="#000" opacity="0.22999999999999998" filter="url(#b8)"/>
<rect x="841.7" y="742.0" width="44.0" height="40.0" rx="6.0" fill="#000" opacity="0.22999999999999998" filter="url(#b8)"/>
<rect x="906.5" y="742.0" width="44.0" height="40.0" rx="6.0" fill="#000" opacity="0.22999999999999998" filter="url(#b8)"/>
<rect x="188.0" y="731.0" width="48.0" height="16.0" rx="6.0" fill="#000" opacity="1.0" filter="url(#b4)"/>
<rect x="253.0" y="732.5" width="48.0" height="17.0" rx="6.0" fill="#000" opacity="1.0" filter="url(#b4)"/>
<rect x="317.0" y="734.0" width="48.0" height="16.0" rx="6.0" fill="#000" opacity="0.7" filter="url(#b4)"/>
<rect x="382.5" y="734.0" width="48.0" height="16.0" rx="6.0" fill="#000" opacity="0.95" filter="url(#b4)"/>
<rect x="449.5" y="733.0" width="48.0" height="16.0" rx="6.0" fill="#000" opacity="0.95" filter="url(#b4)"/>
<rect x="577.4" y="727.8" width="48.0" height="19.0" rx="6.0" fill="#000" opacity="0.8" filter="url(#b4)"/>
<rect x="643.5" y="727.0" width="48.0" height="18.0" rx="6.0" fill="#000" opacity="0.5" filter="url(#b4)"/>
<rect x="709.7" y="726.0" width="48.0" height="18.0" rx="6.0" fill="#000" opacity="0.55" filter="url(#b4)"/>
<rect x="774.7" y="723.0" width="48.0" height="19.0" rx="6.0" fill="#000" opacity="0.72" filter="url(#b4)"/>
<rect x="839.7" y="724.7" width="48.0" height="18.0" rx="6.0" fill="#000" opacity="0.6" filter="url(#b4)"/>
<rect x="904.5" y="724.2" width="48.0" height="19.0" rx="6.0" fill="#000" opacity="0.8" filter="url(#b4)"/>
<rect x="190.0" y="741.0" width="6.0" height="34.0" rx="3.0" fill="#000" opacity="0.5" filter="url(#b25)" transform="rotate(17 193.0 758.0)"/>
</g>
<rect x="166.6" y="698.0" width="804.4" height="79.2" fill="none" stroke="#000" stroke-width="2.8" rx="0"/>
<rect x="166.6" y="786.6" width="804.4" height="78.0" fill="#f4f4f4" stroke="none" stroke-width="0" rx="0"/>
<g clip-path="url(#c10)">
<rect x="579.4" y="823.5" width="44.0" height="7.0" rx="3.5" fill="#000" opacity="0.72" filter="url(#b25)"/>
<rect x="643.5" y="823.0" width="48.0" height="8.0" rx="4.0" fill="#000" opacity="0.95" filter="url(#b25)"/>
<rect x="709.7" y="823.0" width="48.0" height="8.0" rx="4.0" fill="#000" opacity="0.95" filter="url(#b25)"/>
<rect x="775.7" y="823.2" width="46.0" height="7.5" rx="3.8" fill="#000" opacity="0.95" filter="url(#b25)"/>
<rect x="836.7" y="821.0" width="54.0" height="12.0" rx="6.0" fill="#000" opacity="1.0" filter="url(#b25)"/>
<rect x="904.5" y="822.8" width="48.0" height="8.5" rx="4.2" fill="#000" opacity="0.97" filter="url(#b25)"/>
<rect x="580.4" y="824.5" width="12.0" height="7.0" rx="3.5" fill="#000" opacity="0.45" filter="url(#b25)"/>
<rect x="611.4" y="823.5" width="12.0" height="7.0" rx="3.5" fill="#000" opacity="0.45" filter="url(#b25)"/>
<rect x="647.5" y="825.0" width="40.0" height="4.0" rx="2.0" fill="#000" opacity="0.9" filter="url(#b2)"/>
<rect x="713.7" y="825.0" width="40.0" height="4.0" rx="2.0" fill="#000" opacity="0.9" filter="url(#b2)"/>
<rect x="779.7" y="825.0" width="38.0" height="4.0" rx="2.0" fill="#000" opacity="0.9" filter="url(#b2)"/>
<rect x="840.7" y="823.5" width="46.0" height="7.0" rx="3.5" fill="#000" opacity="1.0" filter="url(#b2)"/>
<rect x="908.5" y="825.0" width="40.0" height="4.0" rx="2.0" fill="#000" opacity="0.9" filter="url(#b2)"/>
</g>
<rect x="166.6" y="786.6" width="804.4" height="78.0" fill="none" stroke="#000" stroke-width="2.8" rx="0"/>
<rect x="166.6" y="874.0" width="804.4" height="78.4" fill="#e7e7e7" stroke="none" stroke-width="0" rx="0"/>
<g clip-path="url(#c11)">
<rect x="193.0" y="854.0" width="300.0" height="118.4" fill="#000" opacity="0.016200000000000003" filter="url(#b10)"/>
<rect x="580.0" y="854.0" width="390.0" height="118.4" fill="#000" opacity="0.016200000000000003" filter="url(#b10)"/>
<rect x="579.4" y="912.0" width="44.0" height="8.0" rx="4.0" fill="#000" opacity="0.45" filter="url(#b35)"/>
<rect x="644.5" y="911.0" width="46.0" height="9.0" rx="4.5" fill="#000" opacity="0.7" filter="url(#b35)"/>
<rect x="710.7" y="911.5" width="46.0" height="9.0" rx="4.5" fill="#000" opacity="0.65" filter="url(#b35)"/>
<rect x="775.7" y="911.5" width="46.0" height="9.0" rx="4.5" fill="#000" opacity="0.7" filter="url(#b35)"/>
<rect x="836.7" y="906.0" width="54.0" height="20.0" rx="6.0" fill="#000" opacity="1.0" filter="url(#b35)"/>
<rect x="901.5" y="904.0" width="54.0" height="20.0" rx="6.0" fill="#000" opacity="1.0" filter="url(#b35)"/>
<rect x="579.4" y="911.5" width="10.0" height="9.0" rx="4.5" fill="#000" opacity="0.25" filter="url(#b25)"/>
<rect x="613.4" y="911.5" width="10.0" height="9.0" rx="4.5" fill="#000" opacity="0.25" filter="url(#b25)"/>
<rect x="645.5" y="911.5" width="10.0" height="9.0" rx="4.5" fill="#000" opacity="0.6" filter="url(#b25)"/>
<rect x="679.5" y="911.5" width="10.0" height="9.0" rx="4.5" fill="#000" opacity="0.6" filter="url(#b25)"/>
<rect x="711.7" y="911.5" width="10.0" height="9.0" rx="4.5" fill="#000" opacity="0.5" filter="url(#b25)"/>
<rect x="745.7" y="911.5" width="10.0" height="9.0" rx="4.5" fill="#000" opacity="0.5" filter="url(#b25)"/>
<rect x="776.7" y="911.5" width="10.0" height="9.0" rx="4.5" fill="#000" opacity="0.55" filter="url(#b25)"/>
<rect x="810.7" y="911.5" width="10.0" height="9.0" rx="4.5" fill="#000" opacity="0.55" filter="url(#b25)"/>
<rect x="838.7" y="906.0" width="16.0" height="22.0" rx="6.0" fill="#000" opacity="0.9" filter="url(#b25)"/>
<rect x="872.7" y="903.0" width="16.0" height="24.0" rx="6.0" fill="#000" opacity="0.9" filter="url(#b25)"/>
<rect x="933.5" y="901.0" width="20.0" height="18.0" rx="6.0" fill="#000" opacity="0.9" filter="url(#b25)"/>
</g>
<rect x="166.6" y="874.0" width="804.4" height="78.4" fill="none" stroke="#000" stroke-width="2.0" rx="0"/>
<rect x="166.6" y="962.5" width="804.4" height="79.0" fill="#f0f0f0" stroke="none" stroke-width="0" rx="0"/>
<g clip-path="url(#c12)">
<rect x="193.0" y="942.5" width="300.0" height="119.0" fill="#000" opacity="0.07425000000000001" filter="url(#b10)"/>
<rect x="580.0" y="942.5" width="390.0" height="119.0" fill="#000" opacity="0.07425000000000001" filter="url(#b10)"/>
<rect x="189.0" y="1012.0" width="46.0" height="6.0" rx="3.0" fill="#000" opacity="0.2" filter="url(#b35)"/>
<rect x="254.0" y="1014.0" width="46.0" height="6.0" rx="3.0" fill="#000" opacity="0.17" filter="url(#b35)"/>
<rect x="318.0" y="1015.0" width="46.0" height="6.0" rx="3.0" fill="#000" opacity="0.22" filter="url(#b35)"/>
<rect x="383.5" y="1016.0" width="46.0" height="6.0" rx="3.0" fill="#000" opacity="0.12" filter="url(#b35)"/>
<rect x="450.5" y="1016.0" width="46.0" height="6.0" rx="3.0" fill="#000" opacity="0.28" filter="url(#b35)"/>
<rect x="578.4" y="1016.5" width="46.0" height="7.0" rx="3.5" fill="#000" opacity="0.2" filter="url(#b35)"/>
<rect x="644.5" y="1014.5" width="46.0" height="7.0" rx="3.5" fill="#000" opacity="0.26" filter="url(#b35)"/>
<rect x="710.7" y="1017.5" width="46.0" height="7.0" rx="3.5" fill="#000" opacity="0.12" filter="url(#b35)"/>
<rect x="775.7" y="1016.5" width="46.0" height="7.0" rx="3.5" fill="#000" opacity="0.3" filter="url(#b35)"/>
<rect x="840.7" y="1020.5" width="46.0" height="7.0" rx="3.5" fill="#000" opacity="0.32" filter="url(#b35)"/>
<rect x="905.5" y="1020.5" width="46.0" height="7.0" rx="3.5" fill="#000" opacity="0.32" filter="url(#b35)"/>
<rect x="187.0" y="981.9" width="50.0" height="9.5" rx="4.8" fill="#000" opacity="0.97" filter="url(#b4)" transform="rotate(1 212.0 986.6)"/>
<rect x="189.0" y="981.9" width="46.0" height="9.5" rx="4.8" fill="#000" opacity="0.6799999999999997" filter="url(#b4)" transform="rotate(1 212.0 986.6)"/>
<rect x="252.0" y="983.0" width="50.0" height="9.5" rx="4.8" fill="#000" opacity="0.78" filter="url(#b4)" transform="rotate(2 277.0 987.8)"/>
<rect x="316.0" y="985.0" width="50.0" height="9.5" rx="4.8" fill="#000" opacity="0.66" filter="url(#b4)" transform="rotate(2 341.0 989.7)"/>
<rect x="381.5" y="986.0" width="50.0" height="8.5" rx="4.2" fill="#000" opacity="0.55" filter="url(#b4)" transform="rotate(2 406.5 990.2)"/>
<rect x="448.5" y="987.8" width="50.0" height="9.5" rx="4.8" fill="#000" opacity="0.85" filter="url(#b4)" transform="rotate(4 473.5 992.5)"/>
<rect x="577.9" y="986.5" width="47.0" height="12.0" rx="6.0" fill="#000" opacity="1.0" filter="url(#b35)"/>
<rect x="579.9" y="986.5" width="43.0" height="12.0" rx="6.0" fill="#000" opacity="0.7999999999999998" filter="url(#b35)"/>
<rect x="643.5" y="983.4" width="48.0" height="16.0" rx="6.0" fill="#000" opacity="1.0" filter="url(#b35)"/>
<rect x="712.7" y="988.0" width="42.0" height="9.0" rx="4.5" fill="#000" opacity="0.9" filter="url(#b35)"/>
<rect x="714.7" y="988.0" width="38.0" height="9.0" rx="4.5" fill="#000" opacity="0.3999999999999999" filter="url(#b35)"/>
<rect x="773.7" y="984.5" width="50.0" height="16.0" rx="6.0" fill="#000" opacity="1.0" filter="url(#b35)"/>
<rect x="838.7" y="988.5" width="50.0" height="13.0" rx="6.0" fill="#000" opacity="1.0" filter="url(#b35)"/>
<rect x="903.5" y="988.0" width="50.0" height="14.0" rx="6.0" fill="#000" opacity="1.0" filter="url(#b35)"/>
</g>
<rect x="166.6" y="962.5" width="804.4" height="79.0" fill="none" stroke="#000" stroke-width="2.8" rx="0"/>
<rect x="166.6" y="1051.0" width="804.4" height="79.0" fill="#f6f6f6" stroke="none" stroke-width="0" rx="0"/>
<g clip-path="url(#c13)">
<rect x="193.0" y="1031.0" width="300.0" height="119.0" fill="#000" opacity="0.0675" filter="url(#b10)"/>
<rect x="580.0" y="1031.0" width="390.0" height="119.0" fill="#000" opacity="0.0675" filter="url(#b10)"/>
<rect x="188.0" y="1096.0" width="48.0" height="15.0" rx="6.0" fill="#000" opacity="0.48299999999999993" filter="url(#b8)"/>
<rect x="253.0" y="1100.0" width="48.0" height="15.0" rx="6.0" fill="#000" opacity="0.48299999999999993" filter="url(#b8)"/>
<rect x="317.0" y="1101.0" width="48.0" height="15.0" rx="6.0" fill="#000" opacity="0.48299999999999993" filter="url(#b8)"/>
<rect x="382.5" y="1100.0" width="48.0" height="15.0" rx="6.0" fill="#000" opacity="0.48299999999999993" filter="url(#b8)"/>
<rect x="449.5" y="1098.0" width="48.0" height="15.0" rx="6.0" fill="#000" opacity="0.48299999999999993" filter="url(#b8)"/>
<rect x="577.4" y="1096.0" width="48.0" height="15.0" rx="6.0" fill="#000" opacity="0.43699999999999994" filter="url(#b8)"/>
<rect x="643.5" y="1097.0" width="48.0" height="15.0" rx="6.0" fill="#000" opacity="0.43699999999999994" filter="url(#b8)"/>
<rect x="709.7" y="1096.0" width="48.0" height="15.0" rx="6.0" fill="#000" opacity="0.43699999999999994" filter="url(#b8)"/>
<rect x="774.7" y="1097.0" width="48.0" height="15.0" rx="6.0" fill="#000" opacity="0.43699999999999994" filter="url(#b8)"/>
<rect x="839.7" y="1095.0" width="48.0" height="15.0" rx="6.0" fill="#000" opacity="0.43699999999999994" filter="url(#b8)"/>
<rect x="904.5" y="1098.0" width="48.0" height="15.0" rx="6.0" fill="#000" opacity="0.43699999999999994" filter="url(#b8)"/>
<rect x="187.0" y="1082.4" width="50.0" height="14.0" rx="6.0" fill="#000" opacity="1.0" filter="url(#b35)" transform="rotate(3 212.0 1089.4)"/>
<rect x="249.0" y="1086.2" width="56.0" height="15.0" rx="6.0" fill="#000" opacity="1.0" filter="url(#b35)" transform="rotate(2 277.0 1093.7)"/>
<rect x="315.0" y="1087.1" width="52.0" height="15.0" rx="6.0" fill="#000" opacity="1.0" filter="url(#b35)"/>
<rect x="380.5" y="1086.7" width="52.0" height="14.0" rx="6.0" fill="#000" opacity="1.0" filter="url(#b35)"/>
<rect x="446.5" y="1085.3" width="54.0" height="13.0" rx="6.0" fill="#000" opacity="1.0" filter="url(#b35)" transform="rotate(-2 473.5 1091.8)"/>
<rect x="574.4" y="1083.4" width="54.0" height="12.0" rx="6.0" fill="#000" opacity="1.0" filter="url(#b35)"/>
<rect x="576.4" y="1083.4" width="50.0" height="12.0" rx="6.0" fill="#000" opacity="0.7999999999999998" filter="url(#b35)"/>
<rect x="642.5" y="1084.6" width="50.0" height="12.0" rx="6.0" fill="#000" opacity="1.0" filter="url(#b35)"/>
<rect x="644.5" y="1084.6" width="46.0" height="12.0" rx="6.0" fill="#000" opacity="0.7999999999999998" filter="url(#b35)"/>
<rect x="706.7" y="1082.9" width="54.0" height="13.0" rx="6.0" fill="#000" opacity="1.0" filter="url(#b35)"/>
<rect x="773.7" y="1082.6" width="50.0" height="16.0" rx="6.0" fill="#000" opacity="1.0" filter="url(#b35)" transform="rotate(3 798.7 1090.6)"/>
<rect x="836.7" y="1080.3" width="54.0" height="16.0" rx="6.0" fill="#000" opacity="1.0" filter="url(#b35)" transform="rotate(-3 863.7 1088.3)"/>
<rect x="900.5" y="1080.8" width="56.0" height="22.0" rx="6.0" fill="#000" opacity="1.0" filter="url(#b35)" transform="rotate(2 928.5 1091.8)"/>
<rect x="188.0" y="1093.0" width="6.0" height="30.0" rx="3.0" fill="#000" opacity="0.3" filter="url(#b25)" transform="rotate(8 191.0 1108.0)"/>
</g>
<rect x="166.6" y="1051.0" width="804.4" height="79.0" fill="none" stroke="#000" stroke-width="2.8" rx="0"/>
<text x="152.5" y="747.4" font-size="33.3" text-anchor="end" fill="#000">YAP</text>
<text x="155.4" y="837.0" font-size="33.3" text-anchor="end" fill="#000">EGFP</text>
<text x="152.0" y="918.8" font-size="33.3" text-anchor="end" fill="#000">HA</text>
<text x="153.4" y="1102.0" font-size="33.3" text-anchor="end" fill="#000">GAPDH</text>
<text x="80.5" y="991.9" font-size="33.3" text-anchor="middle" fill="#000">cleaved</text>
<text x="85.5" y="1032.0" font-size="33.3" text-anchor="middle" fill="#000">caspase3</text>
<text x="981.0" y="763.2" font-size="33.3" text-anchor="start" fill="#000">-60</text>
<text x="981.0" y="848.2" font-size="33.3" text-anchor="start" fill="#000">-25</text>
<text x="981.0" y="942.0" font-size="33.3" text-anchor="start" fill="#000">-35</text>
<text x="981.0" y="998.4" font-size="33.3" text-anchor="start" fill="#000">-19</text>
<text x="981.0" y="1045.7" font-size="33.3" text-anchor="start" fill="#000">-17</text>
<text x="981.0" y="1105.5" font-size="33.3" text-anchor="start" fill="#000">-35</text>
<text x="362.7" y="1226.6" font-size="33.3" text-anchor="middle" fill="#000">C3-2RNF4</text>
<line x1="190.0" y1="1246.4" x2="497.0" y2="1246.4" stroke="#000" stroke-width="2.8" stroke-linecap="butt"/>
<text x="758.3" y="1226.6" font-size="33.3" text-anchor="middle" fill="#000">E8-2RNF4</text>
<line x1="578.8" y1="1246.4" x2="963.8" y2="1246.4" stroke="#000" stroke-width="2.8" stroke-linecap="butt"/>
<text x="212.3" y="1286.2" font-size="33.3" text-anchor="middle" fill="#000">#1</text>
<text x="278.0" y="1286.2" font-size="33.3" text-anchor="middle" fill="#000">#2</text>
<text x="343.5" y="1286.2" font-size="33.3" text-anchor="middle" fill="#000">#3</text>
<text x="409.2" y="1286.2" font-size="33.3" text-anchor="middle" fill="#000">#4</text>
<text x="474.8" y="1286.2" font-size="33.3" text-anchor="middle" fill="#000">#5</text>
<text x="609.7" y="1286.2" font-size="33.3" text-anchor="middle" fill="#000">#1</text>
<text x="676.0" y="1286.2" font-size="33.3" text-anchor="middle" fill="#000">#2</text>
<text x="741.6" y="1286.2" font-size="33.3" text-anchor="middle" fill="#000">#3</text>
<text x="798.5" y="1286.2" font-size="33.3" text-anchor="middle" fill="#000">#4</text>
<text x="864.7" y="1286.2" font-size="33.3" text-anchor="middle" fill="#000">#5</text>
<text x="930.4" y="1286.2" font-size="33.3" text-anchor="middle" fill="#000">#6</text>
<text x="549.5" y="1233.0" font-size="33.4" text-anchor="middle" fill="#000" transform="rotate(-90 549.5 1233.0)">Marker</text>
<text x="981.0" y="1288.8" font-size="33.3" text-anchor="start" fill="#000">(kDa)</text>
<rect x="166.6" y="1292.5" width="804.4" height="79.6" fill="#f0f0f0" stroke="none" stroke-width="0" rx="0"/>
<g clip-path="url(#c14)">
<rect x="193.0" y="1272.5" width="300.0" height="119.6" fill="#000" opacity="0.0675" filter="url(#b10)"/>
<rect x="580.0" y="1272.5" width="390.0" height="119.6" fill="#000" opacity="0.0675" filter="url(#b10)"/>
<rect x="190.0" y="1334.0" width="44.0" height="40.0" rx="6.0" fill="#000" opacity="0.11499999999999999" filter="url(#b8)"/>
<rect x="255.0" y="1334.0" width="44.0" height="40.0" rx="6.0" fill="#000" opacity="0.11499999999999999" filter="url(#b8)"/>
<rect x="319.0" y="1334.0" width="44.0" height="40.0" rx="6.0" fill="#000" opacity="0.11499999999999999" filter="url(#b8)"/>
<rect x="384.5" y="1334.0" width="44.0" height="40.0" rx="6.0" fill="#000" opacity="0.11499999999999999" filter="url(#b8)"/>
<rect x="451.5" y="1334.0" width="44.0" height="40.0" rx="6.0" fill="#000" opacity="0.11499999999999999" filter="url(#b8)"/>
<rect x="579.4" y="1334.0" width="44.0" height="40.0" rx="6.0" fill="#000" opacity="0.1035" filter="url(#b8)"/>
<rect x="645.5" y="1334.0" width="44.0" height="40.0" rx="6.0" fill="#000" opacity="0.1035" filter="url(#b8)"/>
<rect x="711.7" y="1334.0" width="44.0" height="40.0" rx="6.0" fill="#000" opacity="0.1035" filter="url(#b8)"/>
<rect x="776.7" y="1334.0" width="44.0" height="40.0" rx="6.0" fill="#000" opacity="0.1035" filter="url(#b8)"/>
<rect x="841.7" y="1334.0" width="44.0" height="40.0" rx="6.0" fill="#000" opacity="0.1035" filter="url(#b8)"/>
<rect x="906.5" y="1334.0" width="44.0" height="40.0" rx="6.0" fill="#000" opacity="0.1035" filter="url(#b8)"/>
<rect x="188.0" y="1320.0" width="48.0" height="18.0" rx="6.0" fill="#000" opacity="0.78" filter="url(#b4)"/>
<rect x="253.0" y="1322.0" width="48.0" height="18.0" rx="6.0" fill="#000" opacity="0.84" filter="url(#b4)"/>
<rect x="317.0" y="1324.0" width="48.0" height="18.0" rx="6.0" fill="#000" opacity="0.95" filter="url(#b4)"/>
<rect x="382.5" y="1325.0" width="48.0" height="18.0" rx="6.0" fill="#000" opacity="0.45" filter="url(#b4)"/>
<rect x="449.5" y="1324.0" width="48.0" height="18.0" rx="6.0" fill="#000" opacity="0.62" filter="url(#b4)"/>
<rect x="577.4" y="1323.0" width="48.0" height="18.0" rx="6.0" fill="#000" opacity="0.97" filter="url(#b4)"/>
<rect x="643.5" y="1324.0" width="48.0" height="18.0" rx="6.0" fill="#000" opacity="0.58" filter="url(#b4)"/>
<rect x="709.7" y="1323.0" width="48.0" height="18.0" rx="6.0" fill="#000" opacity="0.84" filter="url(#b4)"/>
<rect x="774.7" y="1322.0" width="48.0" height="18.0" rx="6.0" fill="#000" opacity="0.48" filter="url(#b4)"/>
<rect x="839.7" y="1321.0" width="48.0" height="18.0" rx="6.0" fill="#000" opacity="0.36" filter="url(#b4)"/>
<rect x="904.5" y="1320.0" width="48.0" height="18.0" rx="6.0" fill="#000" opacity="0.36" filter="url(#b4)"/>
</g>
<rect x="166.6" y="1292.5" width="804.4" height="79.6" fill="none" stroke="#000" stroke-width="2.8" rx="0"/>
<rect x="166.6" y="1379.0" width="804.4" height="79.0" fill="#e2e2e2" stroke="none" stroke-width="0" rx="0"/>
<g clip-path="url(#c15)">
<rect x="517.0" y="1359.0" width="40.0" height="119.0" fill="#fff" opacity="0.3" filter="url(#b10)"/>
<rect x="188.0" y="1413.0" width="48.0" height="8.0" rx="4.0" fill="#000" opacity="0.95" filter="url(#b3)"/>
<rect x="190.0" y="1413.0" width="44.0" height="8.0" rx="4.0" fill="#000" opacity="0.5999999999999996" filter="url(#b3)"/>
<rect x="252.0" y="1413.0" width="50.0" height="10.0" rx="5.0" fill="#000" opacity="1.0" filter="url(#b3)"/>
<rect x="254.0" y="1413.0" width="46.0" height="10.0" rx="5.0" fill="#000" opacity="0.7999999999999998" filter="url(#b3)"/>
<rect x="317.0" y="1415.0" width="48.0" height="8.0" rx="4.0" fill="#000" opacity="0.95" filter="url(#b3)"/>
<rect x="319.0" y="1415.0" width="44.0" height="8.0" rx="4.0" fill="#000" opacity="0.5999999999999996" filter="url(#b3)"/>
<rect x="381.5" y="1412.0" width="50.0" height="10.0" rx="5.0" fill="#000" opacity="1.0" filter="url(#b3)"/>
<rect x="383.5" y="1412.0" width="46.0" height="10.0" rx="5.0" fill="#000" opacity="0.7999999999999998" filter="url(#b3)"/>
<rect x="449.5" y="1413.5" width="48.0" height="9.0" rx="4.5" fill="#000" opacity="0.95" filter="url(#b3)"/>
<rect x="451.5" y="1413.5" width="44.0" height="9.0" rx="4.5" fill="#000" opacity="0.5999999999999996" filter="url(#b3)"/>
<rect x="576.4" y="1413.0" width="50.0" height="10.0" rx="5.0" fill="#000" opacity="1.0" filter="url(#b3)"/>
<rect x="578.4" y="1413.0" width="46.0" height="10.0" rx="5.0" fill="#000" opacity="0.7999999999999998" filter="url(#b3)"/>
<rect x="643.5" y="1413.5" width="48.0" height="9.0" rx="4.5" fill="#000" opacity="0.97" filter="url(#b3)"/>
<rect x="645.5" y="1413.5" width="44.0" height="9.0" rx="4.5" fill="#000" opacity="0.6799999999999997" filter="url(#b3)"/>
<rect x="711.7" y="1415.5" width="44.0" height="7.0" rx="3.5" fill="#000" opacity="0.92" filter="url(#b3)"/>
<rect x="713.7" y="1415.5" width="40.0" height="7.0" rx="3.5" fill="#000" opacity="0.48" filter="url(#b3)"/>
<rect x="776.7" y="1416.5" width="44.0" height="7.0" rx="3.5" fill="#000" opacity="0.88" filter="url(#b3)"/>
<rect x="836.7" y="1412.5" width="54.0" height="15.0" rx="6.0" fill="#000" opacity="1.0" filter="url(#b3)"/>
<rect x="903.5" y="1416.0" width="50.0" height="12.0" rx="6.0" fill="#000" opacity="1.0" filter="url(#b3)"/>
<rect x="905.5" y="1416.0" width="46.0" height="12.0" rx="6.0" fill="#000" opacity="0.7999999999999998" filter="url(#b3)"/>
<rect x="190.0" y="1413.5" width="12.0" height="9.0" rx="4.5" fill="#000" opacity="0.6" filter="url(#b25)"/>
<rect x="222.0" y="1413.5" width="12.0" height="9.0" rx="4.5" fill="#000" opacity="0.6" filter="url(#b25)"/>
<rect x="255.0" y="1413.5" width="12.0" height="9.0" rx="4.5" fill="#000" opacity="0.6" filter="url(#b25)"/>
<rect x="287.0" y="1413.5" width="12.0" height="9.0" rx="4.5" fill="#000" opacity="0.6" filter="url(#b25)"/>
<rect x="319.0" y="1413.5" width="12.0" height="9.0" rx="4.5" fill="#000" opacity="0.6" filter="url(#b25)"/>
<rect x="351.0" y="1413.5" width="12.0" height="9.0" rx="4.5" fill="#000" opacity="0.6" filter="url(#b25)"/>
<rect x="384.5" y="1413.5" width="12.0" height="9.0" rx="4.5" fill="#000" opacity="0.6" filter="url(#b25)"/>
<rect x="416.5" y="1413.5" width="12.0" height="9.0" rx="4.5" fill="#000" opacity="0.6" filter="url(#b25)"/>
<rect x="451.5" y="1413.5" width="12.0" height="9.0" rx="4.5" fill="#000" opacity="0.6" filter="url(#b25)"/>
<rect x="483.5" y="1413.5" width="12.0" height="9.0" rx="4.5" fill="#000" opacity="0.6" filter="url(#b25)"/>
<rect x="579.4" y="1415.0" width="12.0" height="8.0" rx="4.0" fill="#000" opacity="0.6" filter="url(#b25)"/>
<rect x="611.4" y="1415.0" width="12.0" height="8.0" rx="4.0" fill="#000" opacity="0.6" filter="url(#b25)"/>
<rect x="645.5" y="1415.0" width="12.0" height="8.0" rx="4.0" fill="#000" opacity="0.6" filter="url(#b25)"/>
<rect x="677.5" y="1415.0" width="12.0" height="8.0" rx="4.0" fill="#000" opacity="0.6" filter="url(#b25)"/>
<rect x="711.7" y="1415.0" width="12.0" height="8.0" rx="4.0" fill="#000" opacity="0.6" filter="url(#b25)"/>
<rect x="743.7" y="1415.0" width="12.0" height="8.0" rx="4.0" fill="#000" opacity="0.6" filter="url(#b25)"/>
<rect x="776.7" y="1415.0" width="12.0" height="8.0" rx="4.0" fill="#000" opacity="0.6" filter="url(#b25)"/>
<rect x="808.7" y="1415.0" width="12.0" height="8.0" rx="4.0" fill="#000" opacity="0.6" filter="url(#b25)"/>
</g>
<rect x="166.6" y="1379.0" width="804.4" height="79.0" fill="none" stroke="#000" stroke-width="2.8" rx="0"/>
<rect x="166.6" y="1468.0" width="804.4" height="79.5" fill="#f5f5f5" stroke="none" stroke-width="0" rx="0"/>
<g clip-path="url(#c16)">
<rect x="190.0" y="1503.0" width="44.0" height="8.0" rx="4.0" fill="#000" opacity="0.25" filter="url(#b35)"/>
<rect x="255.0" y="1502.0" width="44.0" height="12.0" rx="6.0" fill="#000" opacity="0.85" filter="url(#b35)"/>
<rect x="319.0" y="1503.0" width="44.0" height="12.0" rx="6.0" fill="#000" opacity="0.85" filter="url(#b35)"/>
<rect x="384.5" y="1502.0" width="44.0" height="12.0" rx="6.0" fill="#000" opacity="0.85" filter="url(#b35)"/>
<rect x="451.5" y="1506.0" width="44.0" height="8.0" rx="4.0" fill="#000" opacity="0.2" filter="url(#b35)"/>
<rect x="580.4" y="1506.0" width="42.0" height="8.0" rx="4.0" fill="#000" opacity="0.3" filter="url(#b35)"/>
<rect x="646.5" y="1505.5" width="42.0" height="9.0" rx="4.5" fill="#000" opacity="0.5" filter="url(#b35)"/>
<rect x="711.7" y="1504.0" width="44.0" height="10.0" rx="5.0" fill="#000" opacity="0.8" filter="url(#b35)"/>
<rect x="777.7" y="1505.5" width="42.0" height="9.0" rx="4.5" fill="#000" opacity="0.7" filter="url(#b35)"/>
<rect x="838.7" y="1504.5" width="50.0" height="15.0" rx="6.0" fill="#000" opacity="1.0" filter="url(#b35)"/>
<rect x="908.5" y="1507.0" width="40.0" height="10.0" rx="5.0" fill="#000" opacity="0.45" filter="url(#b35)"/>
<rect x="905.0" y="1503.5" width="13.0" height="15.0" rx="6.0" fill="#000" opacity="0.95" filter="url(#b25)"/>
<rect x="936.0" y="1502.5" width="15.0" height="17.0" rx="6.0" fill="#000" opacity="0.95" filter="url(#b25)"/>
<rect x="191.0" y="1501.0" width="12.0" height="12.0" rx="6.0" fill="#000" opacity="0.25" filter="url(#b25)"/>
<rect x="221.0" y="1503.0" width="12.0" height="12.0" rx="6.0" fill="#000" opacity="0.25" filter="url(#b25)"/>
<rect x="256.0" y="1501.0" width="12.0" height="12.0" rx="6.0" fill="#000" opacity="0.75" filter="url(#b25)"/>
<rect x="286.0" y="1503.0" width="12.0" height="12.0" rx="6.0" fill="#000" opacity="0.75" filter="url(#b25)"/>
<rect x="320.0" y="1501.0" width="12.0" height="12.0" rx="6.0" fill="#000" opacity="0.75" filter="url(#b25)"/>
<rect x="350.0" y="1503.0" width="12.0" height="12.0" rx="6.0" fill="#000" opacity="0.75" filter="url(#b25)"/>
<rect x="385.5" y="1501.0" width="12.0" height="12.0" rx="6.0" fill="#000" opacity="0.75" filter="url(#b25)"/>
<rect x="415.5" y="1503.0" width="12.0" height="12.0" rx="6.0" fill="#000" opacity="0.75" filter="url(#b25)"/>
<rect x="452.5" y="1501.0" width="12.0" height="12.0" rx="6.0" fill="#000" opacity="0.2" filter="url(#b25)"/>
<rect x="482.5" y="1503.0" width="12.0" height="12.0" rx="6.0" fill="#000" opacity="0.2" filter="url(#b25)"/>
<rect x="580.4" y="1505.0" width="10.0" height="10.0" rx="5.0" fill="#000" opacity="0.21" filter="url(#b25)"/>
<rect x="611.9" y="1504.5" width="11.0" height="11.0" rx="5.5" fill="#000" opacity="0.3" filter="url(#b25)"/>
<rect x="646.5" y="1505.0" width="10.0" height="10.0" rx="5.0" fill="#000" opacity="0.35" filter="url(#b25)"/>
<rect x="678.0" y="1504.5" width="11.0" height="11.0" rx="5.5" fill="#000" opacity="0.5" filter="url(#b25)"/>
<rect x="712.7" y="1505.0" width="10.0" height="10.0" rx="5.0" fill="#000" opacity="0.42" filter="url(#b25)"/>
<rect x="744.2" y="1504.5" width="11.0" height="11.0" rx="5.5" fill="#000" opacity="0.6" filter="url(#b25)"/>
<rect x="777.7" y="1505.0" width="10.0" height="10.0" rx="5.0" fill="#000" opacity="0.42" filter="url(#b25)"/>
<rect x="809.2" y="1504.5" width="11.0" height="11.0" rx="5.5" fill="#000" opacity="0.6" filter="url(#b25)"/>
<rect x="842.7" y="1505.0" width="10.0" height="10.0" rx="5.0" fill="#000" opacity="0.42" filter="url(#b25)"/>
<rect x="874.2" y="1504.5" width="11.0" height="11.0" rx="5.5" fill="#000" opacity="0.6" filter="url(#b25)"/>
<rect x="907.5" y="1505.0" width="10.0" height="10.0" rx="5.0" fill="#000" opacity="0.63" filter="url(#b25)"/>
<rect x="939.0" y="1504.5" width="11.0" height="11.0" rx="5.5" fill="#000" opacity="0.9" filter="url(#b25)"/>
</g>
<rect x="166.6" y="1468.0" width="804.4" height="79.5" fill="none" stroke="#000" stroke-width="2.8" rx="0"/>
<rect x="166.6" y="1557.4" width="804.4" height="78.8" fill="#ebebeb" stroke="none" stroke-width="0" rx="0"/>
<g clip-path="url(#c17)">
<rect x="193.0" y="1537.4" width="300.0" height="118.8" fill="#000" opacity="0.04725000000000001" filter="url(#b10)"/>
<rect x="580.0" y="1537.4" width="390.0" height="118.8" fill="#000" opacity="0.04725000000000001" filter="url(#b10)"/>
<rect x="193.0" y="1612.0" width="38.0" height="20.0" rx="6.0" fill="#000" opacity="0.057499999999999996" filter="url(#b8)"/>
<rect x="258.0" y="1612.0" width="38.0" height="20.0" rx="6.0" fill="#000" opacity="0.057499999999999996" filter="url(#b8)"/>
<rect x="322.0" y="1612.0" width="38.0" height="20.0" rx="6.0" fill="#000" opacity="0.057499999999999996" filter="url(#b8)"/>
<rect x="387.5" y="1612.0" width="38.0" height="20.0" rx="6.0" fill="#000" opacity="0.057499999999999996" filter="url(#b8)"/>
<rect x="454.5" y="1612.0" width="38.0" height="20.0" rx="6.0" fill="#000" opacity="0.057499999999999996" filter="url(#b8)"/>
<rect x="578.4" y="1620.5" width="46.0" height="7.0" rx="3.5" fill="#000" opacity="0.1" filter="url(#b35)"/>
<rect x="644.5" y="1620.5" width="46.0" height="7.0" rx="3.5" fill="#000" opacity="0.16" filter="url(#b35)"/>
<rect x="710.7" y="1620.5" width="46.0" height="7.0" rx="3.5" fill="#000" opacity="0.08" filter="url(#b35)"/>
<rect x="775.7" y="1620.5" width="46.0" height="7.0" rx="3.5" fill="#000" opacity="0.18" filter="url(#b35)"/>
<rect x="840.7" y="1620.5" width="46.0" height="7.0" rx="3.5" fill="#000" opacity="0.16" filter="url(#b35)"/>
<rect x="905.5" y="1620.5" width="46.0" height="7.0" rx="3.5" fill="#000" opacity="0.18" filter="url(#b35)"/>
<rect x="187.0" y="1575.5" width="50.0" height="9.0" rx="4.5" fill="#000" opacity="0.38" filter="url(#b4)" transform="rotate(-1 212.0 1580.0)"/>
<rect x="252.0" y="1576.0" width="50.0" height="10.0" rx="5.0" fill="#000" opacity="0.66" filter="url(#b4)" transform="rotate(1 277.0 1581.0)"/>
<rect x="316.0" y="1580.5" width="50.0" height="9.0" rx="4.5" fill="#000" opacity="0.5" filter="url(#b4)" transform="rotate(4 341.0 1585.0)"/>
<rect x="381.5" y="1583.5" width="50.0" height="9.0" rx="4.5" fill="#000" opacity="0.55" filter="url(#b4)" transform="rotate(-3 406.5 1588.0)"/>
<rect x="448.5" y="1586.0" width="50.0" height="8.0" rx="4.0" fill="#000" opacity="0.3" filter="url(#b4)" transform="rotate(6 473.5 1590.0)"/>
<rect x="576.4" y="1589.5" width="50.0" height="9.0" rx="4.5" fill="#000" opacity="0.85" filter="url(#b35)" transform="rotate(-2 601.4 1594.0)"/>
<rect x="641.5" y="1586.5" width="52.0" height="13.0" rx="6.0" fill="#000" opacity="1.0" filter="url(#b35)"/>
<rect x="709.7" y="1590.0" width="48.0" height="8.0" rx="4.0" fill="#000" opacity="0.78" filter="url(#b35)" transform="rotate(-2 733.7 1594.0)"/>
<rect x="772.7" y="1585.5" width="52.0" height="13.0" rx="6.0" fill="#000" opacity="1.0" filter="url(#b35)"/>
<rect x="837.7" y="1584.5" width="52.0" height="13.0" rx="6.0" fill="#000" opacity="1.0" filter="url(#b35)" transform="rotate(-2 863.7 1591.0)"/>
<rect x="902.5" y="1583.0" width="52.0" height="12.0" rx="6.0" fill="#000" opacity="1.0" filter="url(#b35)" transform="rotate(2 928.5 1589.0)"/>
<rect x="904.5" y="1583.0" width="48.0" height="12.0" rx="6.0" fill="#000" opacity="0.7999999999999998" filter="url(#b35)" transform="rotate(2 928.5 1589.0)"/>
</g>
<rect x="166.6" y="1557.4" width="804.4" height="78.8" fill="none" stroke="#000" stroke-width="2.8" rx="0"/>
<rect x="166.6" y="1646.0" width="804.4" height="79.6" fill="#f6f6f6" stroke="none" stroke-width="0" rx="0"/>
<g clip-path="url(#c18)">
<rect x="193.0" y="1626.0" width="300.0" height="119.6" fill="#000" opacity="0.06075" filter="url(#b10)"/>
<rect x="580.0" y="1626.0" width="390.0" height="119.6" fill="#000" opacity="0.06075" filter="url(#b10)"/>
<rect x="190.0" y="1655.0" width="44.0" height="22.0" rx="6.0" fill="#000" opacity="0.253" filter="url(#b8)"/>
<rect x="255.0" y="1658.0" width="44.0" height="22.0" rx="6.0" fill="#000" opacity="0.253" filter="url(#b8)"/>
<rect x="319.0" y="1661.0" width="44.0" height="22.0" rx="6.0" fill="#000" opacity="0.253" filter="url(#b8)"/>
<rect x="384.5" y="1664.0" width="44.0" height="22.0" rx="6.0" fill="#000" opacity="0.253" filter="url(#b8)"/>
<rect x="451.5" y="1667.0" width="44.0" height="22.0" rx="6.0" fill="#000" opacity="0.253" filter="url(#b8)"/>
<rect x="578.4" y="1668.0" width="46.0" height="24.0" rx="6.0" fill="#000" opacity="0.345" filter="url(#b8)"/>
<rect x="644.5" y="1668.0" width="46.0" height="24.0" rx="6.0" fill="#000" opacity="0.345" filter="url(#b8)"/>
<rect x="710.7" y="1667.0" width="46.0" height="24.0" rx="6.0" fill="#000" opacity="0.345" filter="url(#b8)"/>
<rect x="775.7" y="1664.0" width="46.0" height="24.0" rx="6.0" fill="#000" opacity="0.345" filter="url(#b8)"/>
<rect x="840.7" y="1660.0" width="46.0" height="24.0" rx="6.0" fill="#000" opacity="0.345" filter="url(#b8)"/>
<rect x="905.5" y="1660.0" width="46.0" height="24.0" rx="6.0" fill="#000" opacity="0.345" filter="url(#b8)"/>
<rect x="578.4" y="1700.0" width="46.0" height="14.0" rx="6.0" fill="#000" opacity="0.40249999999999997" filter="url(#b8)"/>
<rect x="644.5" y="1700.0" width="46.0" height="14.0" rx="6.0" fill="#000" opacity="0.40249999999999997" filter="url(#b8)"/>
<rect x="710.7" y="1700.0" width="46.0" height="14.0" rx="6.0" fill="#000" opacity="0.40249999999999997" filter="url(#b8)"/>
<rect x="775.7" y="1704.0" width="46.0" height="14.0" rx="6.0" fill="#000" opacity="0.40249999999999997" filter="url(#b8)"/>
<rect x="183.0" y="1664.0" width="58.0" height="20.0" rx="6.0" fill="#000" opacity="1.0" filter="url(#b35)" transform="rotate(3 212.0 1674.0)"/>
<rect x="249.0" y="1668.0" width="56.0" height="20.0" rx="6.0" fill="#000" opacity="1.0" filter="url(#b35)" transform="rotate(3 277.0 1678.0)"/>
<rect x="314.0" y="1672.5" width="54.0" height="19.0" rx="6.0" fill="#000" opacity="1.0" filter="url(#b35)" transform="rotate(3 341.0 1682.0)"/>
<rect x="379.5" y="1676.0" width="54.0" height="18.0" rx="6.0" fill="#000" opacity="1.0" filter="url(#b35)" transform="rotate(3 406.5 1685.0)"/>
<rect x="447.5" y="1680.5" width="52.0" height="17.0" rx="6.0" fill="#000" opacity="1.0" filter="url(#b35)" transform="rotate(3 473.5 1689.0)"/>
<rect x="573.4" y="1687.5" width="56.0" height="15.0" rx="6.0" fill="#000" opacity="1.0" filter="url(#b35)"/>
<rect x="640.5" y="1687.0" width="54.0" height="16.0" rx="6.0" fill="#000" opacity="1.0" filter="url(#b35)"/>
<rect x="706.7" y="1686.0" width="54.0" height="16.0" rx="6.0" fill="#000" opacity="1.0" filter="url(#b35)"/>
<rect x="769.7" y="1682.0" width="58.0" height="24.0" rx="6.0" fill="#000" opacity="1.0" filter="url(#b35)"/>
<rect x="834.7" y="1677.0" width="58.0" height="24.0" rx="6.0" fill="#000" opacity="1.0" filter="url(#b35)"/>
<rect x="899.5" y="1675.0" width="58.0" height="26.0" rx="6.0" fill="#000" opacity="1.0" filter="url(#b35)"/>
</g>
<rect x="166.6" y="1646.0" width="804.4" height="79.6" fill="none" stroke="#000" stroke-width="2.8" rx="0"/>
<text x="157.4" y="1345.0" font-size="33.3" text-anchor="end" fill="#000">YAP</text>
<text x="156.4" y="1428.6" font-size="33.3" text-anchor="end" fill="#000">EGFP</text>
<text x="153.2" y="1519.5" font-size="33.3" text-anchor="end" fill="#000">HA</text>
<text x="156.3" y="1705.6" font-size="33.3" text-anchor="end" fill="#000">GAPDH</text>
<text x="82.5" y="1592.2" font-size="33.6" text-anchor="middle" fill="#000">cleaved</text>
<text x="87.0" y="1631.6" font-size="33.3" text-anchor="middle" fill="#000">caspase3</text>
<text x="981.0" y="1358.6" font-size="33.3" text-anchor="start" fill="#000">-60</text>
<text x="981.0" y="1440.2" font-size="33.3" text-anchor="start" fill="#000">-25</text>
<text x="981.0" y="1525.0" font-size="33.3" text-anchor="start" fill="#000">-35</text>
<text x="981.0" y="1578.2" font-size="33.3" text-anchor="start" fill="#000">-19</text>
<text x="981.0" y="1628.5" font-size="33.3" text-anchor="start" fill="#000">-17</text>
<text x="981.0" y="1715.0" font-size="33.3" text-anchor="start" fill="#000">-35</text>
<path d="M1337.1,1033.9 V794.7 H1400.6 V1033.9" fill="none" stroke="#000" stroke-width="6.8"/>
<path d="M1442.7,1033.9 V879.3 H1506.4 V1033.9" fill="none" stroke="#a8190f" stroke-width="6.8"/>
<line x1="1368.6" y1="786.3" x2="1368.6" y2="794.0" stroke="#000" stroke-width="2.4" stroke-linecap="butt"/>
<line x1="1352.2" y1="786.3" x2="1384.8" y2="786.3" stroke="#000" stroke-width="2.4" stroke-linecap="butt"/>
<line x1="1474.4" y1="865.1" x2="1474.4" y2="879.0" stroke="#a8190f" stroke-width="2.4" stroke-linecap="butt"/>
<line x1="1457.3" y1="865.1" x2="1491.8" y2="865.1" stroke="#a8190f" stroke-width="2.4" stroke-linecap="butt"/>
<line x1="1298.2" y1="668.2" x2="1298.2" y2="1035.5" stroke="#000" stroke-width="3.1" stroke-linecap="butt"/>
<line x1="1283.5" y1="1033.9" x2="1546.9" y2="1033.9" stroke="#000" stroke-width="3.1" stroke-linecap="butt"/>
<line x1="1283.6" y1="1033.9" x2="1298.2" y2="1033.9" stroke="#000" stroke-width="3.1" stroke-linecap="butt"/>
<text x="1279.6" y="1043.7" font-size="27.5" font-weight="bold" text-anchor="end" fill="#000">0.0</text>
<line x1="1283.6" y1="913.0" x2="1298.2" y2="913.0" stroke="#000" stroke-width="3.1" stroke-linecap="butt"/>
<text x="1279.6" y="922.8" font-size="27.5" font-weight="bold" text-anchor="end" fill="#000">0.5</text>
<line x1="1283.6" y1="791.9" x2="1298.2" y2="791.9" stroke="#000" stroke-width="3.1" stroke-linecap="butt"/>
<text x="1279.6" y="801.7" font-size="27.5" font-weight="bold" text-anchor="end" fill="#000">1.0</text>
<line x1="1283.6" y1="669.7" x2="1298.2" y2="669.7" stroke="#000" stroke-width="3.1" stroke-linecap="butt"/>
<text x="1279.6" y="679.5" font-size="27.5" font-weight="bold" text-anchor="end" fill="#000">1.5</text>
<line x1="1368.6" y1="1033.9" x2="1368.6" y2="1049.3" stroke="#000" stroke-width="3.1" stroke-linecap="butt"/>
<line x1="1473.8" y1="1033.9" x2="1473.8" y2="1049.3" stroke="#000" stroke-width="3.1" stroke-linecap="butt"/>
<circle cx="1354.5" cy="775.7" r="9.1" fill="#000" stroke="none" stroke-width="0"/>
<circle cx="1382.6" cy="778.9" r="9.1" fill="#000" stroke="none" stroke-width="0"/>
<circle cx="1341.6" cy="805.4" r="9.1" fill="#000" stroke="none" stroke-width="0"/>
<circle cx="1368.6" cy="799.8" r="9.1" fill="#000" stroke="none" stroke-width="0"/>
<circle cx="1396.1" cy="799.8" r="9.1" fill="#000" stroke="none" stroke-width="0"/>
<circle cx="1446.3" cy="853.4" r="9.1" fill="#a8190f" stroke="none" stroke-width="0"/>
<circle cx="1474.4" cy="853.4" r="9.1" fill="#a8190f" stroke="none" stroke-width="0"/>
<circle cx="1502.3" cy="853.4" r="9.1" fill="#a8190f" stroke="none" stroke-width="0"/>
<circle cx="1474.4" cy="881.3" r="9.1" fill="#a8190f" stroke="none" stroke-width="0"/>
<circle cx="1488.4" cy="904.5" r="9.1" fill="#a8190f" stroke="none" stroke-width="0"/>
<circle cx="1460.9" cy="911.9" r="9.1" fill="#a8190f" stroke="none" stroke-width="0"/>
<line x1="1368.6" y1="726.7" x2="1473.8" y2="726.7" stroke="#000" stroke-width="2.8" stroke-linecap="butt"/>
<line x1="1368.6" y1="711.6" x2="1368.6" y2="743.1" stroke="#000" stroke-width="2.8" stroke-linecap="butt"/>
<line x1="1473.8" y1="711.6" x2="1473.8" y2="743.1" stroke="#000" stroke-width="2.8" stroke-linecap="butt"/>
<text x="1421.0" y="695.1" font-size="29.6" text-anchor="middle"><tspan font-style="italic">P</tspan>=0.0001</text>
<text x="1220.6" y="863.2" font-size="34.25" text-anchor="middle" fill="#000" transform="rotate(-90 1220.6 863.2)">YAP/GAPDH</text>
<text x="1374.6" y="1080.9" font-size="30.9" text-anchor="end" fill="#000" transform="rotate(-45 1374.6 1080.9)">PBS</text>
<text x="1486.1" y="1074.6" font-size="30.9" text-anchor="end" fill="#000" transform="rotate(-45 1486.1 1074.6)">E8-2RNF4</text>
<path d="M1760.3,1047.4 V993.0 H1822.8 V1047.4" fill="none" stroke="#000" stroke-width="6.8"/>
<path d="M1864.5,1047.4 V798.3 H1927.5 V1047.4" fill="none" stroke="#a8190f" stroke-width="6.8"/>
<line x1="1791.5" y1="984.8" x2="1791.5" y2="993.0" stroke="#000" stroke-width="2.4" stroke-linecap="butt"/>
<line x1="1775.6" y1="984.8" x2="1808.9" y2="984.8" stroke="#000" stroke-width="2.4" stroke-linecap="butt"/>
<line x1="1896.5" y1="787.4" x2="1896.5" y2="798.0" stroke="#a8190f" stroke-width="2.4" stroke-linecap="butt"/>
<line x1="1879.1" y1="787.4" x2="1912.9" y2="787.4" stroke="#a8190f" stroke-width="2.4" stroke-linecap="butt"/>
<line x1="1723.4" y1="696.6" x2="1723.4" y2="1049.0" stroke="#000" stroke-width="3.1" stroke-linecap="butt"/>
<line x1="1708.0" y1="1047.4" x2="1966.9" y2="1047.4" stroke="#000" stroke-width="3.1" stroke-linecap="butt"/>
<line x1="1708.8" y1="1047.4" x2="1723.4" y2="1047.4" stroke="#000" stroke-width="3.1" stroke-linecap="butt"/>
<text x="1703.6" y="1057.2" font-size="27.5" font-weight="bold" text-anchor="end" fill="#000">0</text>
<line x1="1708.8" y1="988.9" x2="1723.4" y2="988.9" stroke="#000" stroke-width="3.1" stroke-linecap="butt"/>
<text x="1703.6" y="998.7" font-size="27.5" font-weight="bold" text-anchor="end" fill="#000">1</text>
<line x1="1708.8" y1="930.8" x2="1723.4" y2="930.8" stroke="#000" stroke-width="3.1" stroke-linecap="butt"/>
<text x="1703.6" y="940.6" font-size="27.5" font-weight="bold" text-anchor="end" fill="#000">2</text>
<line x1="1708.8" y1="872.5" x2="1723.4" y2="872.5" stroke="#000" stroke-width="3.1" stroke-linecap="butt"/>
<text x="1703.6" y="882.3" font-size="27.5" font-weight="bold" text-anchor="end" fill="#000">3</text>
<line x1="1708.8" y1="814.5" x2="1723.4" y2="814.5" stroke="#000" stroke-width="3.1" stroke-linecap="butt"/>
<text x="1703.6" y="824.3" font-size="27.5" font-weight="bold" text-anchor="end" fill="#000">4</text>
<line x1="1708.8" y1="756.4" x2="1723.4" y2="756.4" stroke="#000" stroke-width="3.1" stroke-linecap="butt"/>
<text x="1703.6" y="766.2" font-size="27.5" font-weight="bold" text-anchor="end" fill="#000">5</text>
<line x1="1708.8" y1="698.1" x2="1723.4" y2="698.1" stroke="#000" stroke-width="3.1" stroke-linecap="butt"/>
<text x="1703.6" y="707.9" font-size="27.5" font-weight="bold" text-anchor="end" fill="#000">6</text>
<line x1="1791.3" y1="1047.4" x2="1791.3" y2="1062.8" stroke="#000" stroke-width="3.1" stroke-linecap="butt"/>
<line x1="1897.1" y1="1047.4" x2="1897.1" y2="1062.8" stroke="#000" stroke-width="3.1" stroke-linecap="butt"/>
<circle cx="1765.0" cy="979.2" r="9.1" fill="#000" stroke="none" stroke-width="0"/>
<circle cx="1819.5" cy="977.6" r="9.1" fill="#000" stroke="none" stroke-width="0"/>
<circle cx="1791.8" cy="992.3" r="9.1" fill="#000" stroke="none" stroke-width="0"/>
<circle cx="1819.5" cy="995.2" r="9.1" fill="#000" stroke="none" stroke-width="0"/>
<circle cx="1765.0" cy="1002.4" r="9.1" fill="#000" stroke="none" stroke-width="0"/>
<circle cx="1896.5" cy="763.8" r="9.1" fill="#a8190f" stroke="none" stroke-width="0"/>
<circle cx="1868.5" cy="789.2" r="9.1" fill="#a8190f" stroke="none" stroke-width="0"/>
<circle cx="1896.5" cy="788.6" r="9.1" fill="#a8190f" stroke="none" stroke-width="0"/>
<circle cx="1923.5" cy="797.6" r="9.1" fill="#a8190f" stroke="none" stroke-width="0"/>
<circle cx="1882.5" cy="815.6" r="9.1" fill="#a8190f" stroke="none" stroke-width="0"/>
<circle cx="1910.0" cy="815.6" r="9.1" fill="#a8190f" stroke="none" stroke-width="0"/>
<line x1="1790.0" y1="708.2" x2="1897.8" y2="708.2" stroke="#000" stroke-width="2.8" stroke-linecap="butt"/>
<line x1="1790.0" y1="693.6" x2="1790.0" y2="724.4" stroke="#000" stroke-width="2.8" stroke-linecap="butt"/>
<line x1="1897.8" y1="693.6" x2="1897.8" y2="724.4" stroke="#000" stroke-width="2.8" stroke-linecap="butt"/>
<text x="1842.0" y="680.1" font-size="29.3" text-anchor="middle"><tspan font-style="italic">P</tspan>&lt;0.0001</text>
<text x="1654.0" y="852.3" font-size="33.55" text-anchor="middle" fill="#000" transform="rotate(-90 1654.0 852.3)">Cleaved caspase3/GAPDH</text>
<text x="1798.0" y="1093.9" font-size="30.9" text-anchor="end" fill="#000" transform="rotate(-45 1798.0 1093.9)">PBS</text>
<text x="1907.7" y="1087.7" font-size="30.9" text-anchor="end" fill="#000" transform="rotate(-45 1907.7 1087.7)">E8-2RNF4</text>
<path d="M1342.8,1658.0 V1416.0 H1406.2 V1658.0" fill="none" stroke="#000" stroke-width="6.8"/>
<path d="M1448.3,1658.0 V1484.0 H1512.5 V1658.0" fill="none" stroke="#a8190f" stroke-width="6.8"/>
<line x1="1374.7" y1="1405.9" x2="1374.7" y2="1416.0" stroke="#000" stroke-width="2.4" stroke-linecap="butt"/>
<line x1="1357.8" y1="1405.9" x2="1391.6" y2="1405.9" stroke="#000" stroke-width="2.4" stroke-linecap="butt"/>
<line x1="1480.5" y1="1470.9" x2="1480.5" y2="1484.0" stroke="#a8190f" stroke-width="2.4" stroke-linecap="butt"/>
<line x1="1463.6" y1="1470.9" x2="1497.4" y2="1470.9" stroke="#a8190f" stroke-width="2.4" stroke-linecap="butt"/>
<line x1="1305.0" y1="1287.8" x2="1305.0" y2="1659.5" stroke="#000" stroke-width="3.1" stroke-linecap="butt"/>
<line x1="1289.2" y1="1658.0" x2="1552.5" y2="1658.0" stroke="#000" stroke-width="3.1" stroke-linecap="butt"/>
<line x1="1290.4" y1="1658.0" x2="1305.0" y2="1658.0" stroke="#000" stroke-width="3.1" stroke-linecap="butt"/>
<text x="1285.2" y="1667.8" font-size="27.5" font-weight="bold" text-anchor="end" fill="#000">0.0</text>
<line x1="1290.4" y1="1535.1" x2="1305.0" y2="1535.1" stroke="#000" stroke-width="3.1" stroke-linecap="butt"/>
<text x="1285.2" y="1544.9" font-size="27.5" font-weight="bold" text-anchor="end" fill="#000">0.5</text>
<line x1="1290.4" y1="1413.1" x2="1305.0" y2="1413.1" stroke="#000" stroke-width="3.1" stroke-linecap="butt"/>
<text x="1285.2" y="1422.9" font-size="27.5" font-weight="bold" text-anchor="end" fill="#000">1.0</text>
<line x1="1290.4" y1="1289.3" x2="1305.0" y2="1289.3" stroke="#000" stroke-width="3.1" stroke-linecap="butt"/>
<text x="1285.2" y="1299.1" font-size="27.5" font-weight="bold" text-anchor="end" fill="#000">1.5</text>
<line x1="1374.7" y1="1658.0" x2="1374.7" y2="1673.4" stroke="#000" stroke-width="3.1" stroke-linecap="butt"/>
<line x1="1480.1" y1="1658.0" x2="1480.1" y2="1673.4" stroke="#000" stroke-width="3.1" stroke-linecap="butt"/>
<circle cx="1374.7" cy="1389.0" r="9.1" fill="#000" stroke="none" stroke-width="0"/>
<circle cx="1365.0" cy="1412.6" r="9.1" fill="#000" stroke="none" stroke-width="0"/>
<circle cx="1402.4" cy="1413.1" r="9.1" fill="#000" stroke="none" stroke-width="0"/>
<circle cx="1347.0" cy="1426.6" r="9.1" fill="#000" stroke="none" stroke-width="0"/>
<circle cx="1383.7" cy="1422.5" r="9.1" fill="#000" stroke="none" stroke-width="0"/>
<circle cx="1480.5" cy="1445.7" r="9.1" fill="#a8190f" stroke="none" stroke-width="0"/>
<circle cx="1465.9" cy="1461.9" r="9.1" fill="#a8190f" stroke="none" stroke-width="0"/>
<circle cx="1495.1" cy="1469.3" r="9.1" fill="#a8190f" stroke="none" stroke-width="0"/>
<circle cx="1465.9" cy="1490.7" r="9.1" fill="#a8190f" stroke="none" stroke-width="0"/>
<circle cx="1495.1" cy="1498.2" r="9.1" fill="#a8190f" stroke="none" stroke-width="0"/>
<circle cx="1480.5" cy="1517.1" r="9.1" fill="#a8190f" stroke="none" stroke-width="0"/>
<line x1="1374.7" y1="1346.2" x2="1485.5" y2="1346.2" stroke="#000" stroke-width="2.8" stroke-linecap="butt"/>
<line x1="1374.7" y1="1330.9" x2="1374.7" y2="1363.5" stroke="#000" stroke-width="2.8" stroke-linecap="butt"/>
<line x1="1485.5" y1="1330.9" x2="1485.5" y2="1363.5" stroke="#000" stroke-width="2.8" stroke-linecap="butt"/>
<text x="1430.0" y="1315.8" font-size="29.6" text-anchor="middle"><tspan font-style="italic">P</tspan>=0.0006</text>
<text x="1226.9" y="1494.7" font-size="34.25" text-anchor="middle" fill="#000" transform="rotate(-90 1226.9 1494.7)">YAP/GAPDH</text>
<text x="1387.5" y="1700.1" font-size="30.9" text-anchor="end" fill="#000" transform="rotate(-45 1387.5 1700.1)">C3-2RNF4</text>
<text x="1492.8" y="1700.1" font-size="30.9" text-anchor="end" fill="#000" transform="rotate(-45 1492.8 1700.1)">E8-2RNF4</text>
<path d="M1773.3,1655.5 V1588.2 H1835.9 V1655.5" fill="none" stroke="#000" stroke-width="6.8"/>
<path d="M1878.0,1655.5 V1387.9 H1941.0 V1655.5" fill="none" stroke="#a8190f" stroke-width="6.8"/>
<line x1="1804.5" y1="1578.1" x2="1804.5" y2="1588.0" stroke="#000" stroke-width="2.4" stroke-linecap="butt"/>
<line x1="1788.0" y1="1578.1" x2="1821.7" y2="1578.1" stroke="#000" stroke-width="2.4" stroke-linecap="butt"/>
<line x1="1910.5" y1="1369.8" x2="1910.5" y2="1388.0" stroke="#a8190f" stroke-width="2.4" stroke-linecap="butt"/>
<line x1="1897.1" y1="1369.8" x2="1924.1" y2="1369.8" stroke="#a8190f" stroke-width="2.4" stroke-linecap="butt"/>
<line x1="1735.1" y1="1295.5" x2="1735.1" y2="1657.0" stroke="#000" stroke-width="3.1" stroke-linecap="butt"/>
<line x1="1719.3" y1="1655.5" x2="1981.1" y2="1655.5" stroke="#000" stroke-width="3.1" stroke-linecap="butt"/>
<line x1="1720.5" y1="1655.5" x2="1735.1" y2="1655.5" stroke="#000" stroke-width="3.1" stroke-linecap="butt"/>
<text x="1716.0" y="1665.3" font-size="27.5" font-weight="bold" text-anchor="end" fill="#000">0</text>
<line x1="1720.5" y1="1584.1" x2="1735.1" y2="1584.1" stroke="#000" stroke-width="3.1" stroke-linecap="butt"/>
<text x="1716.0" y="1593.9" font-size="27.5" font-weight="bold" text-anchor="end" fill="#000">1</text>
<line x1="1720.5" y1="1512.6" x2="1735.1" y2="1512.6" stroke="#000" stroke-width="3.1" stroke-linecap="butt"/>
<text x="1716.0" y="1522.4" font-size="27.5" font-weight="bold" text-anchor="end" fill="#000">2</text>
<line x1="1720.5" y1="1440.8" x2="1735.1" y2="1440.8" stroke="#000" stroke-width="3.1" stroke-linecap="butt"/>
<text x="1716.0" y="1450.6" font-size="27.5" font-weight="bold" text-anchor="end" fill="#000">3</text>
<line x1="1720.5" y1="1369.2" x2="1735.1" y2="1369.2" stroke="#000" stroke-width="3.1" stroke-linecap="butt"/>
<text x="1716.0" y="1379.0" font-size="27.5" font-weight="bold" text-anchor="end" fill="#000">4</text>
<line x1="1720.5" y1="1297.1" x2="1735.1" y2="1297.1" stroke="#000" stroke-width="3.1" stroke-linecap="butt"/>
<text x="1716.0" y="1306.9" font-size="27.5" font-weight="bold" text-anchor="end" fill="#000">5</text>
<line x1="1804.2" y1="1655.5" x2="1804.2" y2="1670.9" stroke="#000" stroke-width="3.1" stroke-linecap="butt"/>
<line x1="1909.5" y1="1655.5" x2="1909.5" y2="1670.9" stroke="#000" stroke-width="3.1" stroke-linecap="butt"/>
<circle cx="1777.4" cy="1567.9" r="9.1" fill="#000" stroke="none" stroke-width="0"/>
<circle cx="1832.5" cy="1573.3" r="9.1" fill="#000" stroke="none" stroke-width="0"/>
<circle cx="1804.4" cy="1586.4" r="9.1" fill="#000" stroke="none" stroke-width="0"/>
<circle cx="1777.4" cy="1598.3" r="9.1" fill="#000" stroke="none" stroke-width="0"/>
<circle cx="1832.5" cy="1597.0" r="9.1" fill="#000" stroke="none" stroke-width="0"/>
<circle cx="1924.1" cy="1351.6" r="9.1" fill="#a8190f" stroke="none" stroke-width="0"/>
<circle cx="1894.9" cy="1359.0" r="9.1" fill="#a8190f" stroke="none" stroke-width="0"/>
<circle cx="1924.1" cy="1368.5" r="9.1" fill="#a8190f" stroke="none" stroke-width="0"/>
<circle cx="1894.9" cy="1375.3" r="9.1" fill="#a8190f" stroke="none" stroke-width="0"/>
<circle cx="1894.9" cy="1427.7" r="9.1" fill="#a8190f" stroke="none" stroke-width="0"/>
<circle cx="1924.1" cy="1426.6" r="9.1" fill="#a8190f" stroke="none" stroke-width="0"/>
<line x1="1806.4" y1="1312.2" x2="1909.5" y2="1312.2" stroke="#000" stroke-width="2.8" stroke-linecap="butt"/>
<line x1="1806.4" y1="1296.0" x2="1806.4" y2="1327.5" stroke="#000" stroke-width="2.8" stroke-linecap="butt"/>
<line x1="1909.5" y1="1296.0" x2="1909.5" y2="1327.5" stroke="#000" stroke-width="2.8" stroke-linecap="butt"/>
<text x="1854.3" y="1281.8" font-size="29.3" text-anchor="middle"><tspan font-style="italic">P</tspan>&lt;0.0001</text>
<text x="1664.2" y="1461.0" font-size="33.55" text-anchor="middle" fill="#000" transform="rotate(-90 1664.2 1461.0)">Cleaved caspase3/GAPDH</text>
<text x="1817.2" y="1696.8" font-size="30.9" text-anchor="end" fill="#000" transform="rotate(-45 1817.2 1696.8)">C3-2RNF4</text>
<text x="1920.8" y="1696.8" font-size="30.9" text-anchor="end" fill="#000" transform="rotate(-45 1920.8 1696.8)">E8-2RNF4</text>
<text x="1041.5" y="1853.0" font-size="61" text-anchor="start" fill="#000">G</text>
<g clip-path="url(#pc)">
<rect x="1138.4" y="1902.2" width="473.0" height="381.2" fill="url(#pbg)" stroke="none" stroke-width="0" rx="0"/>
<ellipse cx="1400" cy="2150" rx="230" ry="60" fill="#e4e5ec" opacity="0.6" filter="url(#b10)"/>
<ellipse cx="1190" cy="1930" rx="90" ry="40" fill="#c3c5d0" opacity="0.6" filter="url(#b10)"/>
<g transform="rotate(0.58 1168 2190)">
<path d="M1171,2189.7 H1640 V2300 H1168 V2192.7 Q1168,2189.7 1171,2189.7Z" fill="url(#rul)"/>
<rect x="1176.0" y="2190.5" width="470.0" height="24.5" fill="#cdcdc8" stroke="none" stroke-width="0" rx="0"/>
<rect x="1176.0" y="2214.5" width="470.0" height="2.6" fill="#e3e3df" stroke="none" stroke-width="0" rx="0"/>
<rect x="1170.0" y="2189.7" width="470.0" height="1.6" fill="#8a8a7c" stroke="none" stroke-width="0" rx="0" opacity="0.75"/>
<rect x="1168.0" y="2191.0" width="8.5" height="110.0" fill="#d2d0aa" stroke="none" stroke-width="0" rx="0"/>
<rect x="1168.0" y="2191.0" width="2.2" height="110.0" fill="#a59f68" stroke="none" stroke-width="0" rx="0"/>
<rect x="1172.5" y="2191.0" width="1.6" height="110.0" fill="#ebe9cf" stroke="none" stroke-width="0" rx="0"/>
<rect x="1176.5" y="2191.0" width="1.4" height="110.0" fill="#b9b79a" stroke="none" stroke-width="0" rx="0"/>
<path d="M1194.90,2192.4v41 M1199.32,2192.4v22 M1203.74,2192.4v22 M1208.17,2192.4v22 M1212.59,2192.4v22 M1217.01,2192.4v32 M1221.43,2192.4v22 M1225.85,2192.4v22 M1230.28,2192.4v22 M1234.70,2192.4v22 M1239.12,2192.4v41 M1243.54,2192.4v22 M1247.96,2192.4v22 M1252.39,2192.4v22 M1256.81,2192.4v22 M1261.23,2192.4v32 M1265.65,2192.4v22 M1270.07,2192.4v22 M1274.50,2192.4v22 M1278.92,2192.4v22 M1283.34,2192.4v41 M1287.76,2192.4v22 M1292.18,2192.4v22 M1296.61,2192.4v22 M1301.03,2192.4v22 M1305.45,2192.4v32 M1309.87,2192.4v22 M1314.29,2192.4v22 M1318.72,2192.4v22 M1323.14,2192.4v22 M1327.56,2192.4v41 M1331.98,2192.4v22 M1336.40,2192.4v22 M1340.83,2192.4v22 M1345.25,2192.4v22 M1349.67,2192.4v32 M1354.09,2192.4v22 M1358.51,2192.4v22 M1362.94,2192.4v22 M1367.36,2192.4v22 M1371.78,2192.4v41 M1376.20,2192.4v22 M1380.62,2192.4v22 M1385.05,2192.4v22 M1389.47,2192.4v22 M1393.89,2192.4v32 M1398.31,2192.4v22 M1402.73,2192.4v22 M1407.16,2192.4v22 M1411.58,2192.4v22 M1416.00,2192.4v41 M1420.42,2192.4v22 M1424.84,2192.4v22 M1429.27,2192.4v22 M1433.69,2192.4v22 M1438.11,2192.4v32 M1442.53,2192.4v22 M1446.95,2192.4v22 M1451.38,2192.4v22 M1455.80,2192.4v22 M1460.22,2192.4v41 M1464.64,2192.4v22 M1469.06,2192.4v22 M1473.49,2192.4v22 M1477.91,2192.4v22 M1482.33,2192.4v32 M1486.75,2192.4v22 M1491.17,2192.4v22 M1495.60,2192.4v22 M1500.02,2192.4v22 M1504.44,2192.4v41 M1508.86,2192.4v22 M1513.28,2192.4v22 M1517.71,2192.4v22 M1522.13,2192.4v22 M1526.55,2192.4v32 M1530.97,2192.4v22 M1535.39,2192.4v22 M1539.82,2192.4v22 M1544.24,2192.4v22 M1548.66,2192.4v41 M1553.08,2192.4v22 M1557.50,2192.4v22 M1561.93,2192.4v22 M1566.35,2192.4v22 M1570.77,2192.4v32 M1575.19,2192.4v22 M1579.61,2192.4v22 M1584.04,2192.4v22 M1588.46,2192.4v22 M1592.88,2192.4v41 M1597.30,2192.4v22 M1601.72,2192.4v22 M1606.15,2192.4v22 M1610.57,2192.4v22 M1614.99,2192.4v32" stroke="#505050" stroke-width="1.55" fill="none" opacity="0.9" filter="url(#b05)"/>
<text x="1195.1" y="2247.3" font-size="14.8" fill="#3c3c3c" text-anchor="middle" filter="url(#b05)" stroke="#444" stroke-width="0.3">0</text>
<text x="1235.5" y="2247.3" font-size="14.8" fill="#3c3c3c" filter="url(#b05)" stroke="#444" stroke-width="0.3">1<tspan font-size="12.3">cm</tspan></text>
<text x="1283.5" y="2247.3" font-size="14.8" fill="#3c3c3c" text-anchor="middle" filter="url(#b05)" stroke="#444" stroke-width="0.3">2</text>
<text x="1327.8" y="2247.3" font-size="14.8" fill="#3c3c3c" text-anchor="middle" filter="url(#b05)" stroke="#444" stroke-width="0.3">3</text>
<text x="1372.0" y="2247.3" font-size="14.8" fill="#3c3c3c" text-anchor="middle" filter="url(#b05)" stroke="#444" stroke-width="0.3">4</text>
<text x="1416.2" y="2247.3" font-size="14.8" fill="#3c3c3c" text-anchor="middle" filter="url(#b05)" stroke="#444" stroke-width="0.3">5</text>
<text x="1460.4" y="2247.3" font-size="14.8" fill="#3c3c3c" text-anchor="middle" filter="url(#b05)" stroke="#444" stroke-width="0.3">6</text>
<text x="1504.6" y="2247.3" font-size="14.8" fill="#3c3c3c" text-anchor="middle" filter="url(#b05)" stroke="#444" stroke-width="0.3">7</text>
<text x="1548.9" y="2247.3" font-size="14.8" fill="#3c3c3c" text-anchor="middle" filter="url(#b05)" stroke="#444" stroke-width="0.3">8</text>
<text x="1593.1" y="2247.3" font-size="14.8" fill="#3c3c3c" text-anchor="middle" filter="url(#b05)" stroke="#444" stroke-width="0.3">9</text>
<circle cx="1284.1" cy="2228.2" r="0.8" fill="#b4b0a0" opacity="0.6"/>
<circle cx="1222.8" cy="2223.2" r="0.9" fill="#e8e0c0" opacity="0.6"/>
<circle cx="1521.2" cy="2267.9" r="0.7" fill="#eeeeea" opacity="0.6"/>
<circle cx="1336.3" cy="2268.8" r="1.2" fill="#e8e0c0" opacity="0.6"/>
<circle cx="1275.0" cy="2277.6" r="1.2" fill="#e8e0c0" opacity="0.6"/>
<circle cx="1521.2" cy="2233.6" r="0.7" fill="#e8e0c0" opacity="0.6"/>
<circle cx="1221.4" cy="2258.4" r="1.0" fill="#eeeeea" opacity="0.6"/>
<circle cx="1289.5" cy="2236.8" r="0.7" fill="#eeeeea" opacity="0.6"/>
<circle cx="1538.0" cy="2222.4" r="0.7" fill="#e8e0c0" opacity="0.6"/>
<circle cx="1541.2" cy="2252.5" r="0.8" fill="#eeeeea" opacity="0.6"/>
<circle cx="1306.0" cy="2249.1" r="0.7" fill="#e8e0c0" opacity="0.6"/>
<circle cx="1526.3" cy="2224.6" r="0.5" fill="#e8e0c0" opacity="0.6"/>
<circle cx="1402.9" cy="2260.9" r="1.1" fill="#b4b0a0" opacity="0.6"/>
<circle cx="1603.9" cy="2233.7" r="0.8" fill="#b4b0a0" opacity="0.6"/>
<circle cx="1451.7" cy="2248.5" r="0.6" fill="#a8a8a0" opacity="0.6"/>
<circle cx="1498.7" cy="2241.2" r="0.9" fill="#e8e0c0" opacity="0.6"/>
<circle cx="1227.4" cy="2225.7" r="0.7" fill="#eeeeea" opacity="0.6"/>
<circle cx="1443.5" cy="2236.2" r="0.8" fill="#b4b0a0" opacity="0.6"/>
<circle cx="1307.2" cy="2223.5" r="0.8" fill="#f0efe6" opacity="0.6"/>
<circle cx="1561.3" cy="2279.3" r="1.1" fill="#e8e0c0" opacity="0.6"/>
<circle cx="1192.6" cy="2239.3" r="1.3" fill="#a8a8a0" opacity="0.6"/>
<circle cx="1546.8" cy="2274.2" r="1.0" fill="#f0efe6" opacity="0.6"/>
<circle cx="1308.2" cy="2233.5" r="0.9" fill="#b4b0a0" opacity="0.6"/>
<circle cx="1290.0" cy="2257.9" r="0.6" fill="#eeeeea" opacity="0.6"/>
<circle cx="1188.9" cy="2224.7" r="0.6" fill="#e8e0c0" opacity="0.6"/>
<circle cx="1603.8" cy="2256.3" r="0.9" fill="#b4b0a0" opacity="0.6"/>
<circle cx="1363.1" cy="2234.5" r="0.5" fill="#f0efe6" opacity="0.6"/>
<circle cx="1494.6" cy="2257.7" r="1.3" fill="#eeeeea" opacity="0.6"/>
<circle cx="1202.2" cy="2251.4" r="0.7" fill="#f0efe6" opacity="0.6"/>
<circle cx="1236.4" cy="2253.8" r="1.1" fill="#a8a8a0" opacity="0.6"/>
<circle cx="1458.7" cy="2234.0" r="0.7" fill="#a8a8a0" opacity="0.6"/>
<circle cx="1357.5" cy="2224.2" r="0.8" fill="#b4b0a0" opacity="0.6"/>
<circle cx="1456.9" cy="2247.7" r="0.7" fill="#b4b0a0" opacity="0.6"/>
<circle cx="1198.3" cy="2237.3" r="0.7" fill="#b4b0a0" opacity="0.6"/>
<circle cx="1509.4" cy="2247.0" r="0.7" fill="#e8e0c0" opacity="0.6"/>
<circle cx="1206.5" cy="2277.7" r="1.0" fill="#eeeeea" opacity="0.6"/>
<circle cx="1354.2" cy="2276.1" r="1.0" fill="#f0efe6" opacity="0.6"/>
<circle cx="1392.6" cy="2227.6" r="0.7" fill="#eeeeea" opacity="0.6"/>
<circle cx="1562.9" cy="2277.5" r="0.8" fill="#a8a8a0" opacity="0.6"/>
<circle cx="1520.8" cy="2260.5" r="1.2" fill="#eeeeea" opacity="0.6"/>
<circle cx="1275.4" cy="2270.1" r="1.1" fill="#e8e0c0" opacity="0.6"/>
<circle cx="1572.6" cy="2279.4" r="0.6" fill="#e8e0c0" opacity="0.6"/>
<circle cx="1588.9" cy="2262.1" r="0.5" fill="#eeeeea" opacity="0.6"/>
<circle cx="1238.6" cy="2280.1" r="1.0" fill="#f0efe6" opacity="0.6"/>
<circle cx="1550.4" cy="2263.3" r="0.9" fill="#a8a8a0" opacity="0.6"/>
<circle cx="1498.5" cy="2277.6" r="0.7" fill="#f0efe6" opacity="0.6"/>
<path d="M1302,2271 l1,4" stroke="#333" stroke-width="1.3"/>
</g>
<path d="M1239.7,1987.7 C1239.3,1990.0 1238.6,1992.4 1237.7,1994.8 C1236.8,1997.1 1235.6,1999.5 1234.1,2001.6 C1232.6,2003.8 1230.8,2006.2 1228.5,2007.8 C1226.3,2009.5 1223.5,2011.0 1220.7,2011.7 C1217.8,2012.4 1214.5,2012.3 1211.6,2011.9 C1208.7,2011.5 1205.8,2010.3 1203.2,2009.2 C1200.5,2008.1 1198.0,2006.8 1195.6,2005.4 C1193.2,2004.0 1190.8,2002.6 1188.8,2000.8 C1186.8,1998.9 1184.8,1996.8 1183.4,1994.5 C1182.1,1992.3 1181.1,1989.7 1180.4,1987.1 C1179.7,1984.6 1179.3,1982.0 1179.2,1979.4 C1179.0,1976.8 1179.0,1974.1 1179.5,1971.6 C1180.0,1969.0 1180.8,1966.3 1182.1,1964.0 C1183.4,1961.7 1185.2,1959.5 1187.3,1957.8 C1189.4,1956.1 1192.0,1954.8 1194.6,1953.9 C1197.1,1953.0 1199.9,1952.5 1202.5,1952.3 C1205.2,1952.0 1207.9,1952.2 1210.5,1952.6 C1213.0,1953.1 1215.5,1953.8 1217.8,1954.8 C1220.0,1955.8 1222.1,1957.0 1224.1,1958.4 C1226.0,1959.7 1227.8,1961.2 1229.5,1962.8 C1231.1,1964.3 1232.7,1966.0 1234.1,1967.8 C1235.5,1969.6 1236.8,1971.6 1237.8,1973.8 C1238.7,1975.9 1239.5,1978.2 1239.8,1980.5 C1240.1,1982.9 1240.0,1985.3 1239.7,1987.7Z" fill="#80849a" opacity="0.6" filter="url(#b4)"/>
<g filter="url(#b07)">
<path d="M1231.1,1990.0 C1230.7,1992.1 1230.1,1994.3 1229.3,1996.4 C1228.4,1998.5 1227.4,2000.7 1226.0,2002.7 C1224.6,2004.7 1223.0,2006.8 1220.9,2008.3 C1218.9,2009.8 1216.3,2011.2 1213.8,2011.8 C1211.2,2012.4 1208.2,2012.3 1205.6,2012.0 C1202.9,2011.6 1200.3,2010.5 1197.9,2009.6 C1195.5,2008.6 1193.2,2007.4 1191.0,2006.1 C1188.8,2004.8 1186.6,2003.5 1184.8,2001.9 C1183.0,2000.2 1181.2,1998.3 1180.0,1996.2 C1178.7,1994.1 1177.8,1991.8 1177.2,1989.5 C1176.6,1987.2 1176.2,1984.8 1176.1,1982.5 C1175.9,1980.1 1175.9,1977.7 1176.4,1975.3 C1176.8,1973.0 1177.5,1970.5 1178.7,1968.5 C1179.9,1966.4 1181.6,1964.4 1183.5,1962.8 C1185.4,1961.3 1187.7,1960.1 1190.0,1959.3 C1192.4,1958.4 1194.9,1958.0 1197.3,1957.8 C1199.7,1957.6 1202.2,1957.7 1204.5,1958.1 C1206.8,1958.5 1209.1,1959.2 1211.1,1960.1 C1213.2,1961.0 1215.1,1962.1 1216.9,1963.3 C1218.7,1964.5 1220.3,1965.9 1221.8,1967.3 C1223.3,1968.8 1224.8,1970.3 1226.0,1971.9 C1227.3,1973.6 1228.5,1975.4 1229.4,1977.3 C1230.2,1979.2 1230.9,1981.4 1231.2,1983.5 C1231.4,1985.6 1231.4,1987.8 1231.1,1990.0Z" fill="url(#tg1)"/>
<path d="M1220,1964 C1232,1968 1238,1990 1234,2008 L1226,2009 C1230,1990 1226,1974 1218,1968Z" fill="#f3d9cb"/>
<ellipse cx="1196.4" cy="1969.0" rx="3.4" ry="1.1" fill="#fbe6cf" opacity="0.35" transform="rotate(42 1196.4 1969.0)" filter="url(#b1)"/>
<ellipse cx="1186.7" cy="1983.6" rx="4.2" ry="1.4" fill="#cf5a44" opacity="0.48" transform="rotate(68 1186.7 1983.6)" filter="url(#b1)"/>
<ellipse cx="1212.8" cy="1972.3" rx="3.8" ry="1.2" fill="#fbe6cf" opacity="0.50" transform="rotate(13 1212.8 1972.3)" filter="url(#b1)"/>
<ellipse cx="1220.5" cy="1990.4" rx="2.4" ry="1.0" fill="#cf5a44" opacity="0.45" transform="rotate(-5 1220.5 1990.4)" filter="url(#b1)"/>
<ellipse cx="1204.7" cy="1998.7" rx="1.7" ry="2.2" fill="#fbe6cf" opacity="0.48" transform="rotate(44 1204.7 1998.7)" filter="url(#b1)"/>
<ellipse cx="1204.5" cy="1976.3" rx="4.6" ry="1.2" fill="#cf5a44" opacity="0.49" transform="rotate(51 1204.5 1976.3)" filter="url(#b1)"/>
<ellipse cx="1208.8" cy="1968.2" rx="4.3" ry="1.1" fill="#fbe6cf" opacity="0.45" transform="rotate(25 1208.8 1968.2)" filter="url(#b1)"/>
<ellipse cx="1211.0" cy="1985.3" rx="2.3" ry="0.8" fill="#cf5a44" opacity="0.27" transform="rotate(-77 1211.0 1985.3)" filter="url(#b1)"/>
<ellipse cx="1216.4" cy="1994.9" rx="4.2" ry="1.6" fill="#fbe6cf" opacity="0.46" transform="rotate(-34 1216.4 1994.9)" filter="url(#b1)"/>
<ellipse cx="1217.7" cy="1995.8" rx="2.8" ry="1.1" fill="#cf5a44" opacity="0.29" transform="rotate(-11 1217.7 1995.8)" filter="url(#b1)"/>
<ellipse cx="1208.4" cy="1992.9" rx="3.2" ry="2.3" fill="#fbe6cf" opacity="0.41" transform="rotate(52 1208.4 1992.9)" filter="url(#b1)"/>
<ellipse cx="1204.0" cy="1979.0" rx="4.6" ry="0.9" fill="#cf5a44" opacity="0.28" transform="rotate(-18 1204.0 1979.0)" filter="url(#b1)"/>
<ellipse cx="1196.5" cy="1978.5" rx="3.6" ry="1.2" fill="#fbe6cf" opacity="0.32" transform="rotate(-42 1196.5 1978.5)" filter="url(#b1)"/>
<ellipse cx="1209.4" cy="1981.0" rx="3.4" ry="1.5" fill="#cf5a44" opacity="0.47" transform="rotate(3 1209.4 1981.0)" filter="url(#b1)"/>
<ellipse cx="1219.5" cy="1976.1" rx="4.4" ry="2.2" fill="#fbe6cf" opacity="0.31" transform="rotate(-28 1219.5 1976.1)" filter="url(#b1)"/>
<ellipse cx="1188.7" cy="1982.9" rx="4.8" ry="0.9" fill="#cf5a44" opacity="0.31" transform="rotate(-73 1188.7 1982.9)" filter="url(#b1)"/>
<ellipse cx="1200.0" cy="1966.0" rx="6" ry="3" fill="#c4473a" opacity="0.75" transform="rotate(20 1200.0 1966.0)" filter="url(#b1)"/>
<ellipse cx="1203.0" cy="1980.0" rx="9" ry="2.5" fill="#c8563f" opacity="0.55" transform="rotate(35 1203.0 1980.0)" filter="url(#b1)"/>
<ellipse cx="1196.0" cy="1992.0" rx="7" ry="2" fill="#c8563f" opacity="0.45" transform="rotate(-20 1196.0 1992.0)" filter="url(#b1)"/>
<ellipse cx="1190.0" cy="1974.0" rx="4" ry="2" fill="#fff4e4" opacity="0.8" transform="rotate(-40 1190.0 1974.0)" filter="url(#b1)"/>
<ellipse cx="1196.0" cy="1980.0" rx="3" ry="1.5" fill="#fff4e4" opacity="0.7" transform="rotate(-30 1196.0 1980.0)" filter="url(#b1)"/>
<ellipse cx="1202.0" cy="1997.0" rx="5" ry="2" fill="#fff4e4" opacity="0.6" transform="rotate(-20 1202.0 1997.0)" filter="url(#b1)"/>
<ellipse cx="1188.0" cy="1986.0" rx="2" ry="4" fill="#fff4e4" opacity="0.5" transform="rotate(10 1188.0 1986.0)" filter="url(#b1)"/>
</g>
<path d="M1160,1982 C1168,1981 1173,1978 1179,1975" stroke="#e8e4d0" stroke-width="1" fill="none"/>
<path d="M1370.8,1973.0 C1370.9,1975.4 1371.0,1978.0 1370.5,1980.4 C1369.9,1982.8 1369.0,1985.4 1367.4,1987.5 C1365.9,1989.6 1363.5,1991.6 1361.2,1993.1 C1358.8,1994.7 1355.9,1995.8 1353.1,1996.7 C1350.4,1997.7 1347.5,1998.3 1344.7,1998.8 C1341.8,1999.3 1338.9,1999.6 1336.0,1999.7 C1333.1,1999.7 1330.1,1999.5 1327.3,1999.1 C1324.4,1998.6 1321.5,1997.9 1318.7,1996.9 C1316.0,1995.9 1313.3,1994.6 1311.0,1993.0 C1308.8,1991.4 1306.7,1989.4 1305.1,1987.3 C1303.6,1985.1 1302.5,1982.7 1301.9,1980.3 C1301.3,1977.9 1301.2,1975.4 1301.5,1973.0 C1301.7,1970.6 1302.4,1968.2 1303.3,1966.0 C1304.2,1963.8 1305.5,1961.6 1306.9,1959.6 C1308.3,1957.5 1310.0,1955.5 1311.9,1953.7 C1313.9,1952.0 1316.1,1950.2 1318.6,1948.9 C1321.1,1947.6 1324.1,1946.6 1327.0,1946.0 C1329.9,1945.5 1333.0,1945.4 1336.0,1945.6 C1339.0,1945.7 1341.9,1946.4 1344.7,1947.0 C1347.5,1947.7 1350.2,1948.6 1352.9,1949.6 C1355.5,1950.7 1358.3,1951.8 1360.7,1953.3 C1363.0,1954.8 1365.4,1956.6 1366.9,1958.7 C1368.5,1960.8 1369.3,1963.3 1370.0,1965.7 C1370.6,1968.1 1370.8,1970.6 1370.8,1973.0Z" fill="#80849a" opacity="0.6" filter="url(#b4)"/>
<g filter="url(#b07)">
<path d="M1361.7,1976.0 C1361.7,1978.2 1361.8,1980.5 1361.3,1982.7 C1360.8,1984.9 1360.0,1987.3 1358.6,1989.2 C1357.2,1991.1 1355.0,1992.9 1352.9,1994.3 C1350.7,1995.7 1348.1,1996.7 1345.6,1997.6 C1343.1,1998.4 1340.5,1999.0 1337.9,1999.5 C1335.3,1999.9 1332.6,2000.2 1330.0,2000.2 C1327.4,2000.3 1324.7,2000.1 1322.1,1999.7 C1319.4,1999.3 1316.8,1998.7 1314.3,1997.7 C1311.9,1996.8 1309.4,1995.6 1307.3,1994.2 C1305.2,1992.7 1303.3,1990.9 1301.9,1989.0 C1300.6,1987.0 1299.6,1984.8 1299.0,1982.6 C1298.5,1980.5 1298.4,1978.2 1298.6,1976.0 C1298.8,1973.8 1299.5,1971.7 1300.3,1969.6 C1301.1,1967.6 1302.2,1965.6 1303.5,1963.8 C1304.8,1961.9 1306.3,1960.1 1308.1,1958.5 C1309.9,1956.9 1311.9,1955.3 1314.2,1954.1 C1316.5,1952.9 1319.1,1952.0 1321.8,1951.5 C1324.4,1951.0 1327.3,1950.9 1330.0,1951.1 C1332.7,1951.2 1335.4,1951.8 1337.9,1952.4 C1340.5,1953.0 1342.9,1953.8 1345.3,1954.7 C1347.8,1955.7 1350.3,1956.7 1352.4,1958.1 C1354.5,1959.4 1356.7,1961.1 1358.1,1963.0 C1359.5,1964.9 1360.3,1967.2 1360.9,1969.4 C1361.5,1971.5 1361.6,1973.8 1361.7,1976.0Z" fill="url(#tg2)"/>
<ellipse cx="1330" cy="1972" rx="12" ry="13" fill="#f0c8a8" stroke="#d99a7c" stroke-width="1"/>
<ellipse cx="1338.8" cy="1983.1" rx="3.4" ry="2.3" fill="#fbe6cf" opacity="0.26" transform="rotate(-13 1338.8 1983.1)" filter="url(#b1)"/>
<ellipse cx="1329.7" cy="1973.5" rx="2.4" ry="1.2" fill="#cf5a44" opacity="0.21" transform="rotate(45 1329.7 1973.5)" filter="url(#b1)"/>
<ellipse cx="1336.1" cy="1976.8" rx="2.1" ry="1.5" fill="#fbe6cf" opacity="0.45" transform="rotate(25 1336.1 1976.8)" filter="url(#b1)"/>
<ellipse cx="1314.7" cy="1965.9" rx="2.3" ry="1.1" fill="#cf5a44" opacity="0.49" transform="rotate(-7 1314.7 1965.9)" filter="url(#b1)"/>
<ellipse cx="1327.8" cy="1966.9" rx="3.4" ry="1.9" fill="#fbe6cf" opacity="0.40" transform="rotate(-52 1327.8 1966.9)" filter="url(#b1)"/>
<ellipse cx="1332.4" cy="1992.6" rx="2.9" ry="1.4" fill="#cf5a44" opacity="0.44" transform="rotate(-36 1332.4 1992.6)" filter="url(#b1)"/>
<ellipse cx="1318.7" cy="1962.1" rx="3.8" ry="2.1" fill="#fbe6cf" opacity="0.32" transform="rotate(-56 1318.7 1962.1)" filter="url(#b1)"/>
<ellipse cx="1312.8" cy="1985.9" rx="2.3" ry="0.8" fill="#cf5a44" opacity="0.37" transform="rotate(-35 1312.8 1985.9)" filter="url(#b1)"/>
<ellipse cx="1343.9" cy="1964.8" rx="3.9" ry="0.9" fill="#fbe6cf" opacity="0.40" transform="rotate(-33 1343.9 1964.8)" filter="url(#b1)"/>
<ellipse cx="1311.8" cy="1970.6" rx="2.8" ry="0.9" fill="#cf5a44" opacity="0.37" transform="rotate(-11 1311.8 1970.6)" filter="url(#b1)"/>
<ellipse cx="1340.0" cy="1967.1" rx="2.6" ry="2.0" fill="#fbe6cf" opacity="0.30" transform="rotate(48 1340.0 1967.1)" filter="url(#b1)"/>
<ellipse cx="1325.3" cy="1972.2" rx="3.9" ry="0.7" fill="#cf5a44" opacity="0.44" transform="rotate(61 1325.3 1972.2)" filter="url(#b1)"/>
<ellipse cx="1323.1" cy="1978.5" rx="3.3" ry="1.5" fill="#fbe6cf" opacity="0.25" transform="rotate(30 1323.1 1978.5)" filter="url(#b1)"/>
<ellipse cx="1334.2" cy="1964.2" rx="2.5" ry="1.6" fill="#cf5a44" opacity="0.38" transform="rotate(-56 1334.2 1964.2)" filter="url(#b1)"/>
<ellipse cx="1312.8" cy="1986.0" rx="1.7" ry="1.5" fill="#fbe6cf" opacity="0.45" transform="rotate(-57 1312.8 1986.0)" filter="url(#b1)"/>
<ellipse cx="1339.7" cy="1966.0" rx="2.5" ry="1.8" fill="#cf5a44" opacity="0.36" transform="rotate(69 1339.7 1966.0)" filter="url(#b1)"/>
<ellipse cx="1312.0" cy="1984.0" rx="7" ry="2" fill="#c8503f" opacity="0.55" transform="rotate(50 1312.0 1984.0)" filter="url(#b1)"/>
<ellipse cx="1322.0" cy="1994.0" rx="8" ry="2" fill="#c8503f" opacity="0.5" transform="rotate(10 1322.0 1994.0)" filter="url(#b1)"/>
<ellipse cx="1342.0" cy="1992.0" rx="4" ry="1.5" fill="#c8503f" opacity="0.5" transform="rotate(0 1342.0 1992.0)" filter="url(#b1)"/>
<ellipse cx="1326.0" cy="1962.0" rx="2" ry="4" fill="#fff4e4" opacity="0.6" transform="rotate(20 1326.0 1962.0)" filter="url(#b1)"/>
<ellipse cx="1333.0" cy="1972.0" rx="4" ry="1.5" fill="#fff4e4" opacity="0.6" transform="rotate(-30 1333.0 1972.0)" filter="url(#b1)"/>
<ellipse cx="1352.0" cy="1980.0" rx="2" ry="3" fill="#fff4e4" opacity="0.6" transform="rotate(10 1352.0 1980.0)" filter="url(#b1)"/>
<ellipse cx="1315.0" cy="1975.0" rx="3" ry="1.2" fill="#fff4e4" opacity="0.5" transform="rotate(-20 1315.0 1975.0)" filter="url(#b1)"/>
</g>
<path d="M1477.9,1977.0 C1478.1,1979.3 1477.9,1981.8 1477.3,1984.1 C1476.6,1986.4 1475.5,1988.7 1474.2,1990.7 C1472.8,1992.7 1471.0,1994.5 1469.1,1996.1 C1467.2,1997.6 1465.0,1998.9 1462.7,2000.1 C1460.5,2001.2 1458.1,2002.2 1455.7,2002.8 C1453.2,2003.5 1450.6,2004.0 1448.0,2004.1 C1445.4,2004.1 1442.7,2003.9 1440.2,2003.2 C1437.8,2002.5 1435.4,2001.4 1433.2,2000.1 C1431.1,1998.8 1429.2,1997.2 1427.5,1995.6 C1425.8,1993.9 1424.2,1992.0 1422.9,1990.1 C1421.7,1988.1 1420.5,1986.0 1419.7,1983.8 C1418.9,1981.7 1418.3,1979.3 1418.1,1977.0 C1417.9,1974.7 1417.9,1972.2 1418.5,1969.8 C1419.0,1967.5 1419.9,1965.1 1421.3,1963.0 C1422.6,1961.0 1424.4,1959.0 1426.4,1957.5 C1428.3,1955.9 1430.7,1954.6 1433.0,1953.6 C1435.4,1952.6 1437.9,1951.9 1440.4,1951.5 C1442.9,1951.0 1445.5,1950.8 1448.0,1950.9 C1450.5,1951.0 1453.0,1951.4 1455.4,1952.0 C1457.8,1952.6 1460.2,1953.5 1462.3,1954.6 C1464.5,1955.7 1466.5,1957.1 1468.3,1958.6 C1470.1,1960.2 1471.7,1962.0 1473.1,1963.9 C1474.4,1965.8 1475.6,1967.9 1476.4,1970.1 C1477.2,1972.3 1477.8,1974.7 1477.9,1977.0Z" fill="#80849a" opacity="0.6" filter="url(#b4)"/>
<g filter="url(#b07)">
<path d="M1469.2,1980.0 C1469.3,1982.1 1469.2,1984.4 1468.6,1986.4 C1468.0,1988.5 1467.0,1990.6 1465.8,1992.4 C1464.6,1994.2 1462.9,1995.9 1461.2,1997.3 C1459.4,1998.7 1457.4,1999.9 1455.4,2001.0 C1453.4,2002.0 1451.2,2002.9 1449.0,2003.5 C1446.7,2004.1 1444.3,2004.6 1442.0,2004.6 C1439.7,2004.7 1437.2,2004.4 1434.9,2003.8 C1432.7,2003.2 1430.5,2002.2 1428.6,2001.0 C1426.6,1999.9 1424.9,1998.4 1423.3,1996.9 C1421.8,1995.3 1420.4,1993.7 1419.2,1991.9 C1418.1,1990.1 1417.0,1988.2 1416.3,1986.2 C1415.6,1984.2 1415.0,1982.1 1414.8,1980.0 C1414.6,1977.9 1414.7,1975.6 1415.1,1973.5 C1415.6,1971.4 1416.5,1969.2 1417.7,1967.3 C1418.9,1965.4 1420.5,1963.7 1422.3,1962.2 C1424.1,1960.8 1426.3,1959.6 1428.4,1958.7 C1430.5,1957.8 1432.9,1957.2 1435.1,1956.8 C1437.4,1956.4 1439.7,1956.2 1442.0,1956.3 C1444.3,1956.4 1446.6,1956.7 1448.7,1957.2 C1450.9,1957.8 1453.1,1958.6 1455.0,1959.6 C1457.0,1960.6 1458.8,1961.9 1460.5,1963.3 C1462.1,1964.7 1463.6,1966.4 1464.8,1968.1 C1466.0,1969.8 1467.1,1971.8 1467.8,1973.7 C1468.6,1975.7 1469.1,1977.9 1469.2,1980.0Z" fill="url(#tg3)"/>
<ellipse cx="1442.1" cy="1988.6" rx="2.0" ry="2.0" fill="#fbe6cf" opacity="0.35" transform="rotate(57 1442.1 1988.6)" filter="url(#b1)"/>
<ellipse cx="1438.6" cy="1981.9" rx="3.5" ry="1.5" fill="#cf5a44" opacity="0.27" transform="rotate(48 1438.6 1981.9)" filter="url(#b1)"/>
<ellipse cx="1446.6" cy="1990.6" rx="2.8" ry="1.2" fill="#fbe6cf" opacity="0.40" transform="rotate(-22 1446.6 1990.6)" filter="url(#b1)"/>
<ellipse cx="1446.3" cy="1990.7" rx="2.7" ry="1.7" fill="#cf5a44" opacity="0.30" transform="rotate(42 1446.3 1990.7)" filter="url(#b1)"/>
<ellipse cx="1424.8" cy="1984.8" rx="3.1" ry="1.3" fill="#fbe6cf" opacity="0.33" transform="rotate(4 1424.8 1984.8)" filter="url(#b1)"/>
<ellipse cx="1428.5" cy="1986.5" rx="3.7" ry="1.4" fill="#cf5a44" opacity="0.42" transform="rotate(30 1428.5 1986.5)" filter="url(#b1)"/>
<ellipse cx="1444.8" cy="1985.4" rx="4.2" ry="1.9" fill="#fbe6cf" opacity="0.36" transform="rotate(-50 1444.8 1985.4)" filter="url(#b1)"/>
<ellipse cx="1426.0" cy="1976.7" rx="4.0" ry="1.5" fill="#cf5a44" opacity="0.44" transform="rotate(-11 1426.0 1976.7)" filter="url(#b1)"/>
<ellipse cx="1456.9" cy="1973.4" rx="1.6" ry="0.8" fill="#fbe6cf" opacity="0.33" transform="rotate(-58 1456.9 1973.4)" filter="url(#b1)"/>
<ellipse cx="1434.5" cy="1983.4" rx="3.0" ry="1.1" fill="#cf5a44" opacity="0.33" transform="rotate(-67 1434.5 1983.4)" filter="url(#b1)"/>
<ellipse cx="1434.5" cy="1972.6" rx="2.8" ry="2.1" fill="#fbe6cf" opacity="0.46" transform="rotate(29 1434.5 1972.6)" filter="url(#b1)"/>
<ellipse cx="1445.8" cy="1972.6" rx="3.5" ry="1.4" fill="#cf5a44" opacity="0.48" transform="rotate(73 1445.8 1972.6)" filter="url(#b1)"/>
<ellipse cx="1437.2" cy="1967.3" rx="1.8" ry="1.9" fill="#fbe6cf" opacity="0.35" transform="rotate(49 1437.2 1967.3)" filter="url(#b1)"/>
<ellipse cx="1445.2" cy="1971.0" rx="2.0" ry="1.2" fill="#cf5a44" opacity="0.35" transform="rotate(-56 1445.2 1971.0)" filter="url(#b1)"/>
<ellipse cx="1429.2" cy="1986.9" rx="2.6" ry="1.0" fill="#fbe6cf" opacity="0.53" transform="rotate(31 1429.2 1986.9)" filter="url(#b1)"/>
<ellipse cx="1425.8" cy="1976.5" rx="4.8" ry="1.7" fill="#cf5a44" opacity="0.42" transform="rotate(-76 1425.8 1976.5)" filter="url(#b1)"/>
<ellipse cx="1425.0" cy="1970.0" rx="5" ry="9" fill="#cf5a50" opacity="0.6" transform="rotate(20 1425.0 1970.0)" filter="url(#b1)"/>
<ellipse cx="1432.0" cy="1964.0" rx="9" ry="3" fill="#cf5a50" opacity="0.5" transform="rotate(-10 1432.0 1964.0)" filter="url(#b1)"/>
<ellipse cx="1448.0" cy="1998.0" rx="14" ry="3" fill="#c8463c" opacity="0.65" transform="rotate(-15 1448.0 1998.0)" filter="url(#b1)"/>
<ellipse cx="1424.0" cy="1990.0" rx="3" ry="8" fill="#cf5a50" opacity="0.55" transform="rotate(-20 1424.0 1990.0)" filter="url(#b1)"/>
<ellipse cx="1436.0" cy="1972.0" rx="6" ry="2.5" fill="#d46a5a" opacity="0.5" transform="rotate(40 1436.0 1972.0)" filter="url(#b1)"/>
<ellipse cx="1438.0" cy="1987.0" rx="5" ry="2" fill="#fff4e4" opacity="0.6" transform="rotate(-20 1438.0 1987.0)" filter="url(#b1)"/>
<ellipse cx="1421.0" cy="1976.0" rx="1.5" ry="3" fill="#fff4e4" opacity="0.6" transform="rotate(20 1421.0 1976.0)" filter="url(#b1)"/>
<ellipse cx="1460.0" cy="1984.0" rx="1.5" ry="3" fill="#fff4e4" opacity="0.5" transform="rotate(10 1460.0 1984.0)" filter="url(#b1)"/>
</g>
<path d="M1411,1946 l5,-4 4,3 3,-2 1,6 3,2 -5,3 -3,5 -6,-3 -3,-5z" fill="#e89488" filter="url(#b07)"/>
<path d="M1588.3,1976.0 C1588.4,1977.9 1588.2,1979.7 1587.7,1981.6 C1587.3,1983.5 1586.6,1985.4 1585.5,1987.2 C1584.4,1989.0 1583.0,1990.8 1581.2,1992.3 C1579.4,1993.8 1577.1,1995.3 1574.7,1996.3 C1572.2,1997.3 1569.3,1998.0 1566.6,1998.5 C1563.8,1999.0 1560.9,1999.1 1558.0,1999.1 C1555.1,1999.1 1552.2,1998.9 1549.5,1998.4 C1546.7,1998.0 1543.9,1997.2 1541.5,1996.1 C1539.1,1995.1 1537.1,1993.5 1535.2,1992.0 C1533.3,1990.6 1532.0,1988.9 1530.1,1987.3 C1528.2,1985.7 1525.4,1984.4 1523.6,1982.5 C1521.8,1980.6 1519.3,1978.2 1519.3,1976.0 C1519.4,1973.8 1521.9,1971.4 1523.9,1969.6 C1525.9,1967.7 1528.9,1966.5 1531.1,1965.1 C1533.2,1963.6 1534.9,1962.3 1536.9,1961.1 C1538.8,1959.9 1540.8,1958.7 1543.0,1957.7 C1545.2,1956.8 1547.6,1956.0 1550.1,1955.4 C1552.6,1954.8 1555.3,1954.3 1558.0,1954.1 C1560.7,1954.0 1563.5,1954.0 1566.2,1954.4 C1568.9,1954.8 1571.7,1955.5 1574.0,1956.5 C1576.4,1957.4 1578.7,1958.8 1580.5,1960.2 C1582.3,1961.6 1583.8,1963.4 1584.9,1965.1 C1586.1,1966.8 1586.9,1968.6 1587.4,1970.4 C1588.0,1972.3 1588.3,1974.1 1588.3,1976.0Z" fill="#80849a" opacity="0.6" filter="url(#b4)"/>
<g filter="url(#b07)">
<path d="M1579.6,1979.0 C1579.6,1980.7 1579.5,1982.4 1579.0,1984.1 C1578.6,1985.8 1578.0,1987.5 1577.0,1989.2 C1576.0,1990.8 1574.7,1992.5 1573.1,1993.8 C1571.4,1995.2 1569.4,1996.5 1567.1,1997.5 C1564.9,1998.4 1562.3,1999.0 1559.8,1999.5 C1557.3,1999.9 1554.6,2000.0 1552.0,2000.0 C1549.4,2000.0 1546.7,1999.9 1544.2,1999.4 C1541.7,1999.0 1539.1,1998.3 1537.0,1997.3 C1534.8,1996.3 1533.0,1994.9 1531.3,1993.6 C1529.5,1992.3 1528.4,1990.7 1526.6,1989.3 C1524.9,1987.9 1522.4,1986.6 1520.7,1984.9 C1519.1,1983.2 1516.8,1981.0 1516.8,1979.0 C1516.9,1977.0 1519.2,1974.8 1521.0,1973.2 C1522.8,1971.5 1525.5,1970.3 1527.5,1969.1 C1529.5,1967.8 1531.0,1966.6 1532.8,1965.5 C1534.6,1964.4 1536.4,1963.3 1538.4,1962.4 C1540.4,1961.5 1542.6,1960.8 1544.9,1960.2 C1547.1,1959.7 1549.6,1959.3 1552.0,1959.1 C1554.4,1959.0 1557.0,1959.0 1559.5,1959.4 C1561.9,1959.7 1564.4,1960.4 1566.6,1961.2 C1568.7,1962.1 1570.8,1963.3 1572.4,1964.6 C1574.1,1965.9 1575.4,1967.5 1576.5,1969.1 C1577.5,1970.6 1578.2,1972.3 1578.8,1974.0 C1579.3,1975.6 1579.5,1977.3 1579.6,1979.0Z" fill="url(#tg4)"/>
<ellipse cx="1524.5" cy="1982" rx="8" ry="8.5" fill="#f3d4b2"/>
<ellipse cx="1554.9" cy="1991.1" rx="4.3" ry="1.7" fill="#fbe6cf" opacity="0.54" transform="rotate(4 1554.9 1991.1)" filter="url(#b1)"/>
<ellipse cx="1560.7" cy="1971.2" rx="4.1" ry="1.2" fill="#cf5a44" opacity="0.23" transform="rotate(40 1560.7 1971.2)" filter="url(#b1)"/>
<ellipse cx="1546.3" cy="1981.6" rx="2.3" ry="1.6" fill="#fbe6cf" opacity="0.26" transform="rotate(-1 1546.3 1981.6)" filter="url(#b1)"/>
<ellipse cx="1564.4" cy="1974.3" rx="4.1" ry="1.5" fill="#cf5a44" opacity="0.42" transform="rotate(-27 1564.4 1974.3)" filter="url(#b1)"/>
<ellipse cx="1547.0" cy="1987.0" rx="4.3" ry="1.9" fill="#fbe6cf" opacity="0.26" transform="rotate(-25 1547.0 1987.0)" filter="url(#b1)"/>
<ellipse cx="1539.8" cy="1972.8" rx="3.9" ry="1.7" fill="#cf5a44" opacity="0.40" transform="rotate(21 1539.8 1972.8)" filter="url(#b1)"/>
<ellipse cx="1542.4" cy="1979.9" rx="3.0" ry="1.9" fill="#fbe6cf" opacity="0.41" transform="rotate(59 1542.4 1979.9)" filter="url(#b1)"/>
<ellipse cx="1552.2" cy="1987.3" rx="2.5" ry="1.5" fill="#cf5a44" opacity="0.46" transform="rotate(34 1552.2 1987.3)" filter="url(#b1)"/>
<ellipse cx="1555.6" cy="1967.6" rx="4.4" ry="1.2" fill="#fbe6cf" opacity="0.52" transform="rotate(-56 1555.6 1967.6)" filter="url(#b1)"/>
<ellipse cx="1542.1" cy="1976.0" rx="3.8" ry="1.7" fill="#cf5a44" opacity="0.24" transform="rotate(7 1542.1 1976.0)" filter="url(#b1)"/>
<ellipse cx="1553.3" cy="1991.0" rx="4.3" ry="1.3" fill="#fbe6cf" opacity="0.49" transform="rotate(46 1553.3 1991.0)" filter="url(#b1)"/>
<ellipse cx="1548.5" cy="1991.6" rx="3.1" ry="1.7" fill="#cf5a44" opacity="0.21" transform="rotate(79 1548.5 1991.6)" filter="url(#b1)"/>
<ellipse cx="1553.6" cy="1984.6" rx="3.3" ry="2.3" fill="#fbe6cf" opacity="0.44" transform="rotate(-36 1553.6 1984.6)" filter="url(#b1)"/>
<ellipse cx="1552.5" cy="1966.9" rx="3.4" ry="1.6" fill="#cf5a44" opacity="0.35" transform="rotate(-17 1552.5 1966.9)" filter="url(#b1)"/>
<ellipse cx="1562.6" cy="1970.0" rx="3.7" ry="1.7" fill="#fbe6cf" opacity="0.47" transform="rotate(1 1562.6 1970.0)" filter="url(#b1)"/>
<ellipse cx="1569.5" cy="1981.1" rx="2.5" ry="0.7" fill="#cf5a44" opacity="0.35" transform="rotate(-31 1569.5 1981.1)" filter="url(#b1)"/>
<ellipse cx="1558.0" cy="1981.0" rx="5" ry="3" fill="#d8503f" opacity="0.75" transform="rotate(40 1558.0 1981.0)" filter="url(#b1)"/>
<ellipse cx="1548.0" cy="1983.0" rx="6" ry="1.5" fill="#d8604c" opacity="0.5" transform="rotate(30 1548.0 1983.0)" filter="url(#b1)"/>
<ellipse cx="1550.0" cy="1973.0" rx="1.2" ry="1.2" fill="#fff4e4" opacity="0.95" transform="rotate(0 1550.0 1973.0)" filter="url(#b1)"/>
<ellipse cx="1544.0" cy="1977.0" rx="1.5" ry="1" fill="#fff4e4" opacity="0.9" transform="rotate(0 1544.0 1977.0)" filter="url(#b1)"/>
<ellipse cx="1553.0" cy="1988.0" rx="2" ry="1.2" fill="#fff4e4" opacity="0.95" transform="rotate(0 1553.0 1988.0)" filter="url(#b1)"/>
<ellipse cx="1560.0" cy="1987.0" rx="1.5" ry="1.2" fill="#fff4e4" opacity="0.9" transform="rotate(0 1560.0 1987.0)" filter="url(#b1)"/>
<ellipse cx="1572.0" cy="1978.0" rx="1.5" ry="1" fill="#fff4e4" opacity="0.9" transform="rotate(0 1572.0 1978.0)" filter="url(#b1)"/>
<ellipse cx="1538.0" cy="1979.0" rx="1.2" ry="1" fill="#fff4e4" opacity="0.8" transform="rotate(0 1538.0 1979.0)" filter="url(#b1)"/>
</g>
<path d="M1243.5,2101.0 C1243.2,2103.0 1242.6,2104.9 1241.9,2106.8 C1241.1,2108.6 1240.2,2110.4 1239.0,2112.1 C1237.8,2113.8 1236.4,2115.4 1234.8,2116.8 C1233.1,2118.3 1231.3,2119.6 1229.2,2120.7 C1227.2,2121.8 1224.9,2122.8 1222.5,2123.4 C1220.1,2124.0 1217.5,2124.3 1215.0,2124.3 C1212.5,2124.3 1209.9,2124.0 1207.5,2123.4 C1205.1,2122.8 1202.8,2121.8 1200.8,2120.7 C1198.7,2119.6 1196.9,2118.3 1195.2,2116.8 C1193.6,2115.4 1192.1,2113.8 1190.9,2112.1 C1189.6,2110.5 1188.6,2108.7 1187.7,2106.9 C1186.8,2105.0 1186.0,2103.0 1185.7,2101.0 C1185.4,2099.0 1185.3,2096.7 1185.9,2094.8 C1186.4,2092.8 1187.6,2090.7 1189.1,2089.0 C1190.5,2087.3 1192.6,2085.9 1194.6,2084.7 C1196.6,2083.4 1198.8,2082.5 1201.0,2081.6 C1203.2,2080.8 1205.5,2080.1 1207.9,2079.7 C1210.2,2079.2 1212.6,2079.0 1215.0,2079.0 C1217.4,2078.9 1219.8,2079.1 1222.2,2079.5 C1224.6,2079.9 1227.0,2080.5 1229.3,2081.2 C1231.6,2082.0 1234.0,2083.0 1236.0,2084.2 C1238.0,2085.5 1239.9,2087.1 1241.2,2088.9 C1242.5,2090.7 1243.2,2092.8 1243.6,2094.9 C1244.0,2096.9 1243.8,2099.0 1243.5,2101.0Z" fill="#80849a" opacity="0.6" filter="url(#b4)"/>
<g filter="url(#b07)">
<path d="M1234.9,2104.0 C1234.7,2105.8 1234.1,2107.6 1233.4,2109.2 C1232.8,2110.9 1231.9,2112.6 1230.8,2114.1 C1229.7,2115.6 1228.5,2117.1 1227.0,2118.4 C1225.5,2119.7 1223.8,2120.9 1221.9,2121.9 C1220.1,2122.9 1218.0,2123.8 1215.8,2124.3 C1213.7,2124.9 1211.3,2125.2 1209.0,2125.2 C1206.7,2125.2 1204.3,2124.9 1202.2,2124.3 C1200.0,2123.8 1197.9,2122.9 1196.1,2121.9 C1194.2,2120.9 1192.5,2119.7 1191.0,2118.4 C1189.5,2117.1 1188.2,2115.6 1187.1,2114.1 C1185.9,2112.6 1185.0,2111.0 1184.2,2109.3 C1183.4,2107.6 1182.7,2105.8 1182.4,2104.0 C1182.1,2102.2 1182.0,2100.1 1182.5,2098.3 C1183.0,2096.5 1184.1,2094.6 1185.4,2093.1 C1186.7,2091.6 1188.6,2090.3 1190.4,2089.2 C1192.3,2088.0 1194.3,2087.1 1196.3,2086.4 C1198.3,2085.6 1200.4,2085.0 1202.5,2084.6 C1204.6,2084.2 1206.8,2084.0 1209.0,2084.0 C1211.2,2083.9 1213.4,2084.1 1215.5,2084.5 C1217.7,2084.8 1219.9,2085.3 1222.0,2086.0 C1224.0,2086.8 1226.2,2087.6 1228.1,2088.8 C1229.9,2089.9 1231.7,2091.4 1232.8,2093.0 C1234.0,2094.6 1234.7,2096.6 1235.0,2098.4 C1235.4,2100.3 1235.2,2102.2 1234.9,2104.0Z" fill="url(#tg5)"/>
<ellipse cx="1210.6" cy="2106.6" rx="4.2" ry="0.9" fill="#fbe6cf" opacity="0.29" transform="rotate(-9 1210.6 2106.6)" filter="url(#b1)"/>
<ellipse cx="1202.0" cy="2098.5" rx="4.2" ry="1.0" fill="#cf5a44" opacity="0.21" transform="rotate(77 1202.0 2098.5)" filter="url(#b1)"/>
<ellipse cx="1212.6" cy="2109.8" rx="2.9" ry="0.9" fill="#fbe6cf" opacity="0.41" transform="rotate(7 1212.6 2109.8)" filter="url(#b1)"/>
<ellipse cx="1212.2" cy="2103.8" rx="4.7" ry="1.1" fill="#cf5a44" opacity="0.39" transform="rotate(18 1212.2 2103.8)" filter="url(#b1)"/>
<ellipse cx="1196.3" cy="2103.4" rx="4.1" ry="2.1" fill="#fbe6cf" opacity="0.33" transform="rotate(-40 1196.3 2103.4)" filter="url(#b1)"/>
<ellipse cx="1198.6" cy="2096.4" rx="2.3" ry="0.9" fill="#cf5a44" opacity="0.49" transform="rotate(-64 1198.6 2096.4)" filter="url(#b1)"/>
<ellipse cx="1219.2" cy="2110.1" rx="2.9" ry="1.1" fill="#fbe6cf" opacity="0.28" transform="rotate(6 1219.2 2110.1)" filter="url(#b1)"/>
<ellipse cx="1214.3" cy="2098.0" rx="1.8" ry="1.6" fill="#cf5a44" opacity="0.31" transform="rotate(-74 1214.3 2098.0)" filter="url(#b1)"/>
<ellipse cx="1218.1" cy="2098.8" rx="2.6" ry="1.2" fill="#fbe6cf" opacity="0.32" transform="rotate(51 1218.1 2098.8)" filter="url(#b1)"/>
<ellipse cx="1211.4" cy="2105.0" rx="4.5" ry="1.6" fill="#cf5a44" opacity="0.27" transform="rotate(-64 1211.4 2105.0)" filter="url(#b1)"/>
<ellipse cx="1197.8" cy="2098.4" rx="4.1" ry="1.1" fill="#fbe6cf" opacity="0.36" transform="rotate(16 1197.8 2098.4)" filter="url(#b1)"/>
<ellipse cx="1224.1" cy="2111.8" rx="4.0" ry="0.7" fill="#cf5a44" opacity="0.42" transform="rotate(10 1224.1 2111.8)" filter="url(#b1)"/>
<ellipse cx="1205.9" cy="2097.7" rx="4.0" ry="1.9" fill="#fbe6cf" opacity="0.32" transform="rotate(-53 1205.9 2097.7)" filter="url(#b1)"/>
<ellipse cx="1202.6" cy="2115.0" rx="3.9" ry="1.7" fill="#cf5a44" opacity="0.48" transform="rotate(-77 1202.6 2115.0)" filter="url(#b1)"/>
<ellipse cx="1223.0" cy="2105.7" rx="1.8" ry="1.2" fill="#fbe6cf" opacity="0.26" transform="rotate(-28 1223.0 2105.7)" filter="url(#b1)"/>
<ellipse cx="1222.0" cy="2095.6" rx="4.4" ry="1.4" fill="#cf5a44" opacity="0.24" transform="rotate(-37 1222.0 2095.6)" filter="url(#b1)"/>
<ellipse cx="1203.0" cy="2100.0" rx="6" ry="1.5" fill="#d2483c" opacity="0.6" transform="rotate(50 1203.0 2100.0)" filter="url(#b1)"/>
<ellipse cx="1200.0" cy="2112.0" rx="5" ry="1.5" fill="#d2483c" opacity="0.55" transform="rotate(30 1200.0 2112.0)" filter="url(#b1)"/>
<ellipse cx="1218.0" cy="2110.0" rx="5" ry="1.2" fill="#d2483c" opacity="0.5" transform="rotate(-30 1218.0 2110.0)" filter="url(#b1)"/>
<ellipse cx="1210.0" cy="2092.0" rx="4" ry="1.2" fill="#d2483c" opacity="0.45" transform="rotate(-40 1210.0 2092.0)" filter="url(#b1)"/>
<ellipse cx="1196.0" cy="2104.0" rx="1.5" ry="5" fill="#fff4e4" opacity="0.5" transform="rotate(10 1196.0 2104.0)" filter="url(#b1)"/>
<ellipse cx="1206.0" cy="2098.0" rx="5" ry="1.5" fill="#fff4e4" opacity="0.5" transform="rotate(-30 1206.0 2098.0)" filter="url(#b1)"/>
<ellipse cx="1214.0" cy="2102.0" rx="4" ry="1.2" fill="#fff4e4" opacity="0.5" transform="rotate(-20 1214.0 2102.0)" filter="url(#b1)"/>
</g>
<path d="M1359.5,2105.0 C1359.5,2106.9 1359.2,2108.9 1358.6,2110.7 C1358.0,2112.5 1357.1,2114.4 1355.9,2116.1 C1354.8,2117.8 1353.4,2119.4 1351.8,2120.9 C1350.3,2122.4 1348.5,2123.9 1346.5,2125.0 C1344.4,2126.2 1342.1,2127.3 1339.7,2127.9 C1337.3,2128.5 1334.5,2128.7 1332.0,2128.6 C1329.5,2128.4 1326.9,2127.8 1324.6,2127.1 C1322.3,2126.4 1320.1,2125.4 1318.1,2124.3 C1316.0,2123.2 1314.2,2122.0 1312.5,2120.6 C1310.8,2119.2 1309.4,2117.6 1308.1,2116.0 C1306.9,2114.4 1306.0,2112.6 1304.9,2110.8 C1303.9,2109.0 1302.4,2107.1 1301.7,2105.0 C1301.0,2102.9 1300.0,2100.3 1300.7,2098.3 C1301.3,2096.3 1303.8,2094.4 1305.7,2092.9 C1307.6,2091.3 1310.0,2090.3 1312.0,2089.0 C1314.0,2087.8 1315.8,2086.5 1317.8,2085.4 C1319.9,2084.3 1322.1,2083.1 1324.4,2082.4 C1326.8,2081.7 1329.5,2081.2 1332.0,2081.2 C1334.5,2081.2 1337.2,2081.7 1339.6,2082.4 C1341.9,2083.1 1344.1,2084.2 1346.2,2085.4 C1348.2,2086.5 1350.0,2087.9 1351.6,2089.3 C1353.2,2090.7 1354.7,2092.3 1355.9,2094.0 C1357.0,2095.6 1358.0,2097.5 1358.6,2099.3 C1359.2,2101.1 1359.5,2103.1 1359.5,2105.0Z" fill="#80849a" opacity="0.6" filter="url(#b4)"/>
<g filter="url(#b07)">
<path d="M1351.0,2108.0 C1351.0,2109.7 1350.7,2111.5 1350.2,2113.2 C1349.6,2114.9 1348.8,2116.5 1347.8,2118.0 C1346.7,2119.6 1345.5,2121.1 1344.0,2122.4 C1342.6,2123.8 1341.0,2125.1 1339.1,2126.2 C1337.3,2127.3 1335.2,2128.3 1333.0,2128.8 C1330.8,2129.4 1328.3,2129.6 1326.0,2129.4 C1323.7,2129.3 1321.4,2128.7 1319.3,2128.1 C1317.2,2127.4 1315.2,2126.5 1313.3,2125.6 C1311.5,2124.6 1309.8,2123.4 1308.3,2122.2 C1306.8,2120.9 1305.5,2119.5 1304.3,2118.0 C1303.2,2116.5 1302.4,2114.9 1301.4,2113.3 C1300.4,2111.6 1299.1,2109.9 1298.4,2108.0 C1297.8,2106.1 1296.9,2103.7 1297.5,2101.9 C1298.1,2100.1 1300.4,2098.4 1302.1,2097.0 C1303.8,2095.6 1306.0,2094.6 1307.8,2093.5 C1309.7,2092.3 1311.2,2091.1 1313.1,2090.2 C1315.0,2089.2 1317.0,2088.1 1319.1,2087.5 C1321.3,2086.9 1323.7,2086.4 1326.0,2086.4 C1328.3,2086.4 1330.7,2086.8 1332.9,2087.5 C1335.0,2088.1 1337.0,2089.1 1338.9,2090.2 C1340.7,2091.2 1342.4,2092.4 1343.8,2093.7 C1345.3,2095.0 1346.6,2096.5 1347.7,2098.0 C1348.7,2099.5 1349.6,2101.2 1350.2,2102.8 C1350.7,2104.5 1351.0,2106.3 1351.0,2108.0Z" fill="url(#tg6)"/>
<ellipse cx="1342.3" cy="2109.5" rx="2.7" ry="0.8" fill="#fbe6cf" opacity="0.41" transform="rotate(-36 1342.3 2109.5)" filter="url(#b1)"/>
<ellipse cx="1314.3" cy="2114.5" rx="4.7" ry="1.7" fill="#cf5a44" opacity="0.29" transform="rotate(60 1314.3 2114.5)" filter="url(#b1)"/>
<ellipse cx="1340.5" cy="2110.7" rx="4.3" ry="0.9" fill="#fbe6cf" opacity="0.48" transform="rotate(-12 1340.5 2110.7)" filter="url(#b1)"/>
<ellipse cx="1312.4" cy="2103.4" rx="2.2" ry="1.2" fill="#cf5a44" opacity="0.37" transform="rotate(34 1312.4 2103.4)" filter="url(#b1)"/>
<ellipse cx="1329.1" cy="2099.6" rx="4.2" ry="1.4" fill="#fbe6cf" opacity="0.32" transform="rotate(-33 1329.1 2099.6)" filter="url(#b1)"/>
<ellipse cx="1320.0" cy="2119.2" rx="2.9" ry="0.9" fill="#cf5a44" opacity="0.33" transform="rotate(53 1320.0 2119.2)" filter="url(#b1)"/>
<ellipse cx="1323.2" cy="2115.9" rx="3.4" ry="1.7" fill="#fbe6cf" opacity="0.45" transform="rotate(11 1323.2 2115.9)" filter="url(#b1)"/>
<ellipse cx="1332.9" cy="2095.8" rx="4.9" ry="1.5" fill="#cf5a44" opacity="0.23" transform="rotate(59 1332.9 2095.8)" filter="url(#b1)"/>
<ellipse cx="1339.9" cy="2109.6" rx="2.7" ry="1.2" fill="#fbe6cf" opacity="0.39" transform="rotate(-10 1339.9 2109.6)" filter="url(#b1)"/>
<ellipse cx="1322.9" cy="2100.2" rx="4.0" ry="1.7" fill="#cf5a44" opacity="0.50" transform="rotate(53 1322.9 2100.2)" filter="url(#b1)"/>
<ellipse cx="1329.6" cy="2103.2" rx="2.3" ry="1.3" fill="#fbe6cf" opacity="0.30" transform="rotate(31 1329.6 2103.2)" filter="url(#b1)"/>
<ellipse cx="1319.0" cy="2096.6" rx="3.7" ry="1.4" fill="#cf5a44" opacity="0.25" transform="rotate(-12 1319.0 2096.6)" filter="url(#b1)"/>
<ellipse cx="1308.9" cy="2109.0" rx="4.0" ry="1.3" fill="#fbe6cf" opacity="0.42" transform="rotate(-43 1308.9 2109.0)" filter="url(#b1)"/>
<ellipse cx="1324.2" cy="2121.5" rx="4.2" ry="1.6" fill="#cf5a44" opacity="0.36" transform="rotate(-47 1324.2 2121.5)" filter="url(#b1)"/>
<ellipse cx="1333.7" cy="2114.5" rx="2.3" ry="1.9" fill="#fbe6cf" opacity="0.46" transform="rotate(-6 1333.7 2114.5)" filter="url(#b1)"/>
<ellipse cx="1331.1" cy="2110.8" rx="2.0" ry="1.2" fill="#cf5a44" opacity="0.46" transform="rotate(30 1331.1 2110.8)" filter="url(#b1)"/>
<ellipse cx="1330.0" cy="2118.0" rx="10" ry="2" fill="#d8503f" opacity="0.5" transform="rotate(-10 1330.0 2118.0)" filter="url(#b1)"/>
<ellipse cx="1340.0" cy="2112.0" rx="2" ry="3" fill="#d8503f" opacity="0.55" transform="rotate(0 1340.0 2112.0)" filter="url(#b1)"/>
<ellipse cx="1318.0" cy="2116.0" rx="4" ry="1.2" fill="#d8503f" opacity="0.45" transform="rotate(20 1318.0 2116.0)" filter="url(#b1)"/>
<ellipse cx="1322.0" cy="2108.0" rx="9" ry="4" fill="#fff4e4" opacity="0.45" transform="rotate(10 1322.0 2108.0)" filter="url(#b1)"/>
<ellipse cx="1338.0" cy="2110.0" rx="1.2" ry="1.2" fill="#fff4e4" opacity="0.8" transform="rotate(0 1338.0 2110.0)" filter="url(#b1)"/>
</g>
<path d="M1468.3,2105.0 C1468.4,2107.0 1468.3,2109.1 1467.9,2111.1 C1467.4,2113.1 1466.7,2115.1 1465.6,2116.9 C1464.6,2118.7 1463.1,2120.5 1461.5,2121.9 C1459.9,2123.3 1457.9,2124.5 1456.0,2125.4 C1454.0,2126.4 1451.7,2127.0 1449.6,2127.4 C1447.4,2127.8 1445.2,2127.9 1443.0,2127.9 C1440.8,2127.8 1438.6,2127.5 1436.5,2127.0 C1434.4,2126.5 1432.3,2125.8 1430.4,2124.9 C1428.4,2124.0 1426.5,2122.8 1424.9,2121.5 C1423.3,2120.1 1421.7,2118.5 1420.6,2116.8 C1419.4,2115.1 1418.5,2113.1 1417.9,2111.1 C1417.4,2109.2 1417.2,2107.0 1417.3,2105.0 C1417.4,2103.0 1417.9,2100.9 1418.5,2099.0 C1419.2,2097.1 1420.2,2095.3 1421.3,2093.6 C1422.5,2091.9 1423.9,2090.4 1425.4,2089.0 C1427.0,2087.6 1428.8,2086.4 1430.6,2085.5 C1432.5,2084.5 1434.5,2083.7 1436.6,2083.2 C1438.7,2082.7 1440.9,2082.4 1443.0,2082.4 C1445.1,2082.4 1447.3,2082.7 1449.4,2083.2 C1451.5,2083.7 1453.5,2084.5 1455.4,2085.5 C1457.2,2086.4 1459.0,2087.7 1460.5,2089.0 C1462.0,2090.4 1463.4,2092.0 1464.5,2093.7 C1465.6,2095.4 1466.5,2097.2 1467.1,2099.1 C1467.8,2101.0 1468.2,2103.0 1468.3,2105.0Z" fill="#80849a" opacity="0.6" filter="url(#b4)"/>
<g filter="url(#b07)">
<path d="M1460.0,2108.0 C1460.1,2109.8 1460.0,2111.7 1459.6,2113.5 C1459.2,2115.3 1458.5,2117.2 1457.6,2118.8 C1456.6,2120.5 1455.3,2122.1 1453.8,2123.4 C1452.4,2124.6 1450.6,2125.7 1448.8,2126.6 C1447.0,2127.4 1445.0,2128.0 1443.0,2128.4 C1441.0,2128.7 1439.0,2128.9 1437.0,2128.8 C1435.0,2128.8 1433.0,2128.5 1431.1,2128.0 C1429.2,2127.6 1427.3,2126.9 1425.5,2126.1 C1423.8,2125.3 1422.0,2124.2 1420.5,2123.0 C1419.1,2121.8 1417.7,2120.3 1416.6,2118.7 C1415.5,2117.2 1414.7,2115.4 1414.2,2113.6 C1413.7,2111.8 1413.5,2109.8 1413.6,2108.0 C1413.7,2106.2 1414.1,2104.3 1414.8,2102.6 C1415.4,2100.8 1416.3,2099.2 1417.3,2097.6 C1418.4,2096.1 1419.6,2094.7 1421.0,2093.5 C1422.4,2092.2 1424.0,2091.1 1425.7,2090.2 C1427.4,2089.4 1429.3,2088.7 1431.2,2088.2 C1433.1,2087.7 1435.1,2087.5 1437.0,2087.5 C1438.9,2087.5 1440.9,2087.7 1442.8,2088.2 C1444.7,2088.7 1446.6,2089.4 1448.3,2090.2 C1449.9,2091.1 1451.5,2092.2 1452.9,2093.5 C1454.3,2094.7 1455.5,2096.2 1456.5,2097.7 C1457.5,2099.2 1458.4,2100.9 1458.9,2102.6 C1459.5,2104.4 1459.9,2106.2 1460.0,2108.0Z" fill="url(#tg7)"/>
<ellipse cx="1452.8" cy="2105.4" rx="3.0" ry="2.1" fill="#fbe6cf" opacity="0.36" transform="rotate(-37 1452.8 2105.4)" filter="url(#b1)"/>
<ellipse cx="1421.5" cy="2108.7" rx="2.5" ry="1.4" fill="#cf5a44" opacity="0.41" transform="rotate(43 1421.5 2108.7)" filter="url(#b1)"/>
<ellipse cx="1444.7" cy="2112.1" rx="1.7" ry="1.3" fill="#fbe6cf" opacity="0.29" transform="rotate(-19 1444.7 2112.1)" filter="url(#b1)"/>
<ellipse cx="1426.8" cy="2118.8" rx="3.1" ry="0.9" fill="#cf5a44" opacity="0.26" transform="rotate(-52 1426.8 2118.8)" filter="url(#b1)"/>
<ellipse cx="1438.1" cy="2106.5" rx="4.3" ry="1.6" fill="#fbe6cf" opacity="0.43" transform="rotate(-58 1438.1 2106.5)" filter="url(#b1)"/>
<ellipse cx="1437.9" cy="2117.0" rx="4.7" ry="1.2" fill="#cf5a44" opacity="0.40" transform="rotate(-33 1437.9 2117.0)" filter="url(#b1)"/>
<ellipse cx="1427.1" cy="2108.6" rx="3.9" ry="0.9" fill="#fbe6cf" opacity="0.48" transform="rotate(45 1427.1 2108.6)" filter="url(#b1)"/>
<ellipse cx="1430.1" cy="2106.8" rx="4.5" ry="1.7" fill="#cf5a44" opacity="0.24" transform="rotate(-12 1430.1 2106.8)" filter="url(#b1)"/>
<ellipse cx="1437.1" cy="2116.1" rx="3.4" ry="2.1" fill="#fbe6cf" opacity="0.34" transform="rotate(16 1437.1 2116.1)" filter="url(#b1)"/>
<ellipse cx="1427.9" cy="2099.1" rx="4.8" ry="1.2" fill="#cf5a44" opacity="0.49" transform="rotate(-72 1427.9 2099.1)" filter="url(#b1)"/>
<ellipse cx="1429.6" cy="2103.8" rx="3.9" ry="1.2" fill="#fbe6cf" opacity="0.54" transform="rotate(-15 1429.6 2103.8)" filter="url(#b1)"/>
<ellipse cx="1428.2" cy="2096.3" rx="3.3" ry="1.6" fill="#cf5a44" opacity="0.48" transform="rotate(-50 1428.2 2096.3)" filter="url(#b1)"/>
<ellipse cx="1429.6" cy="2112.4" rx="1.7" ry="1.6" fill="#fbe6cf" opacity="0.41" transform="rotate(17 1429.6 2112.4)" filter="url(#b1)"/>
<ellipse cx="1427.7" cy="2103.9" rx="3.8" ry="1.0" fill="#cf5a44" opacity="0.27" transform="rotate(0 1427.7 2103.9)" filter="url(#b1)"/>
<ellipse cx="1441.2" cy="2099.4" rx="3.8" ry="1.6" fill="#fbe6cf" opacity="0.53" transform="rotate(13 1441.2 2099.4)" filter="url(#b1)"/>
<ellipse cx="1431.0" cy="2113.6" rx="2.7" ry="0.9" fill="#cf5a44" opacity="0.47" transform="rotate(-64 1431.0 2113.6)" filter="url(#b1)"/>
<ellipse cx="1433.0" cy="2103.0" rx="5" ry="5" fill="#d4584a" opacity="0.55" transform="rotate(0 1433.0 2103.0)" filter="url(#b1)"/>
<ellipse cx="1428.0" cy="2096.0" rx="6" ry="1.5" fill="#d4584a" opacity="0.4" transform="rotate(30 1428.0 2096.0)" filter="url(#b1)"/>
<ellipse cx="1424.0" cy="2116.0" rx="4" ry="1.2" fill="#d4584a" opacity="0.4" transform="rotate(40 1424.0 2116.0)" filter="url(#b1)"/>
<ellipse cx="1430.0" cy="2109.0" rx="1.5" ry="1.2" fill="#fff4e4" opacity="0.9" transform="rotate(0 1430.0 2109.0)" filter="url(#b1)"/>
<ellipse cx="1440.0" cy="2100.0" rx="1.2" ry="1.2" fill="#fff4e4" opacity="0.8" transform="rotate(0 1440.0 2100.0)" filter="url(#b1)"/>
<ellipse cx="1445.0" cy="2112.0" rx="1.5" ry="1" fill="#fff4e4" opacity="0.85" transform="rotate(0 1445.0 2112.0)" filter="url(#b1)"/>
<ellipse cx="1436.0" cy="2118.0" rx="4" ry="1.2" fill="#fff4e4" opacity="0.6" transform="rotate(0 1436.0 2118.0)" filter="url(#b1)"/>
<ellipse cx="1422.0" cy="2106.0" rx="1.2" ry="3" fill="#fff4e4" opacity="0.5" transform="rotate(0 1422.0 2106.0)" filter="url(#b1)"/>
</g>
<path d="M1582.7,2107.0 C1582.2,2108.7 1582.1,2110.3 1581.5,2111.8 C1580.9,2113.4 1580.1,2115.0 1579.0,2116.4 C1577.9,2117.8 1576.6,2119.2 1575.1,2120.4 C1573.6,2121.6 1571.9,2122.7 1570.0,2123.7 C1568.2,2124.6 1566.1,2125.5 1563.9,2126.0 C1561.7,2126.6 1559.3,2127.0 1557.0,2127.1 C1554.7,2127.2 1552.2,2127.0 1549.9,2126.5 C1547.7,2126.0 1545.5,2125.2 1543.5,2124.2 C1541.6,2123.3 1539.9,2122.1 1538.3,2120.8 C1536.8,2119.6 1535.4,2118.2 1534.3,2116.7 C1533.1,2115.2 1532.0,2113.7 1531.3,2112.1 C1530.5,2110.5 1529.9,2108.7 1529.7,2107.0 C1529.5,2105.3 1529.6,2103.4 1530.2,2101.7 C1530.8,2100.0 1531.9,2098.3 1533.3,2096.9 C1534.6,2095.5 1536.6,2094.2 1538.4,2093.3 C1540.3,2092.3 1542.5,2091.7 1544.6,2091.1 C1546.6,2090.5 1548.7,2090.1 1550.7,2089.7 C1552.8,2089.4 1554.9,2089.0 1557.0,2088.9 C1559.1,2088.8 1561.3,2088.9 1563.5,2089.2 C1565.6,2089.5 1567.5,2090.1 1569.8,2090.6 C1572.1,2091.1 1574.7,2091.3 1577.1,2092.1 C1579.5,2092.9 1583.2,2093.7 1584.4,2095.3 C1585.6,2096.9 1584.8,2099.6 1584.5,2101.6 C1584.2,2103.5 1583.2,2105.3 1582.7,2107.0Z" fill="#80849a" opacity="0.6" filter="url(#b4)"/>
<g filter="url(#b07)">
<path d="M1574.4,2110.0 C1573.9,2111.6 1573.8,2113.0 1573.2,2114.4 C1572.7,2115.8 1572.0,2117.2 1571.0,2118.5 C1570.0,2119.8 1568.8,2121.1 1567.5,2122.2 C1566.1,2123.3 1564.5,2124.3 1562.8,2125.2 C1561.1,2126.0 1559.2,2126.8 1557.3,2127.3 C1555.3,2127.8 1553.1,2128.2 1551.0,2128.3 C1548.9,2128.3 1546.6,2128.2 1544.6,2127.7 C1542.5,2127.3 1540.5,2126.5 1538.8,2125.7 C1537.0,2124.8 1535.4,2123.7 1534.0,2122.6 C1532.6,2121.4 1531.4,2120.1 1530.3,2118.8 C1529.3,2117.5 1528.3,2116.1 1527.6,2114.6 C1526.9,2113.2 1526.3,2111.6 1526.2,2110.0 C1526.0,2108.4 1526.1,2106.7 1526.6,2105.2 C1527.2,2103.6 1528.2,2102.1 1529.4,2100.8 C1530.7,2099.5 1532.4,2098.4 1534.1,2097.5 C1535.8,2096.6 1537.8,2096.1 1539.7,2095.5 C1541.6,2095.0 1543.4,2094.6 1545.3,2094.3 C1547.2,2094.0 1549.1,2093.7 1551.0,2093.6 C1552.9,2093.5 1554.9,2093.6 1556.9,2093.8 C1558.8,2094.1 1560.6,2094.7 1562.6,2095.1 C1564.7,2095.5 1567.1,2095.8 1569.3,2096.5 C1571.5,2097.2 1574.8,2097.9 1575.9,2099.4 C1577.0,2100.8 1576.2,2103.3 1576.0,2105.1 C1575.7,2106.8 1574.8,2108.4 1574.4,2110.0Z" fill="url(#tg8)"/>
<ellipse cx="1550.3" cy="2116.1" rx="3.2" ry="1.8" fill="#fbe6cf" opacity="0.31" transform="rotate(-42 1550.3 2116.1)" filter="url(#b1)"/>
<ellipse cx="1556.2" cy="2107.4" rx="2.4" ry="0.7" fill="#cf5a44" opacity="0.26" transform="rotate(12 1556.2 2107.4)" filter="url(#b1)"/>
<ellipse cx="1539.6" cy="2109.2" rx="4.4" ry="1.5" fill="#fbe6cf" opacity="0.39" transform="rotate(-3 1539.6 2109.2)" filter="url(#b1)"/>
<ellipse cx="1535.2" cy="2108.5" rx="3.2" ry="1.7" fill="#cf5a44" opacity="0.27" transform="rotate(-36 1535.2 2108.5)" filter="url(#b1)"/>
<ellipse cx="1548.7" cy="2106.7" rx="4.1" ry="1.8" fill="#fbe6cf" opacity="0.27" transform="rotate(7 1548.7 2106.7)" filter="url(#b1)"/>
<ellipse cx="1537.5" cy="2113.6" rx="2.8" ry="1.3" fill="#cf5a44" opacity="0.30" transform="rotate(12 1537.5 2113.6)" filter="url(#b1)"/>
<ellipse cx="1564.5" cy="2112.5" rx="3.9" ry="1.5" fill="#fbe6cf" opacity="0.33" transform="rotate(15 1564.5 2112.5)" filter="url(#b1)"/>
<ellipse cx="1558.8" cy="2116.4" rx="3.8" ry="0.9" fill="#cf5a44" opacity="0.48" transform="rotate(40 1558.8 2116.4)" filter="url(#b1)"/>
<ellipse cx="1559.0" cy="2119.8" rx="3.8" ry="0.8" fill="#fbe6cf" opacity="0.33" transform="rotate(-18 1559.0 2119.8)" filter="url(#b1)"/>
<ellipse cx="1542.1" cy="2111.5" rx="1.7" ry="1.7" fill="#cf5a44" opacity="0.40" transform="rotate(-25 1542.1 2111.5)" filter="url(#b1)"/>
<ellipse cx="1545.8" cy="2114.2" rx="2.6" ry="1.7" fill="#fbe6cf" opacity="0.36" transform="rotate(-53 1545.8 2114.2)" filter="url(#b1)"/>
<ellipse cx="1551.4" cy="2110.5" rx="3.0" ry="1.4" fill="#cf5a44" opacity="0.23" transform="rotate(-69 1551.4 2110.5)" filter="url(#b1)"/>
<ellipse cx="1559.0" cy="2115.7" rx="1.6" ry="0.9" fill="#fbe6cf" opacity="0.49" transform="rotate(-56 1559.0 2115.7)" filter="url(#b1)"/>
<ellipse cx="1541.5" cy="2113.4" rx="3.0" ry="0.7" fill="#cf5a44" opacity="0.30" transform="rotate(-24 1541.5 2113.4)" filter="url(#b1)"/>
<ellipse cx="1545.5" cy="2116.9" rx="1.7" ry="1.2" fill="#fbe6cf" opacity="0.30" transform="rotate(-33 1545.5 2116.9)" filter="url(#b1)"/>
<ellipse cx="1560.0" cy="2103.3" rx="5.0" ry="0.9" fill="#cf5a44" opacity="0.24" transform="rotate(-39 1560.0 2103.3)" filter="url(#b1)"/>
<ellipse cx="1540.0" cy="2120.0" rx="2" ry="1" fill="#d8604c" opacity="0.5" transform="rotate(0 1540.0 2120.0)" filter="url(#b1)"/>
<ellipse cx="1556.0" cy="2102.0" rx="3" ry="0.8" fill="#d8604c" opacity="0.35" transform="rotate(30 1556.0 2102.0)" filter="url(#b1)"/>
<ellipse cx="1548.0" cy="2108.0" rx="3.5" ry="1" fill="#fff4e4" opacity="0.95" transform="rotate(-50 1548.0 2108.0)" filter="url(#b1)"/>
<ellipse cx="1554.0" cy="2110.0" rx="3" ry="1" fill="#fff4e4" opacity="0.9" transform="rotate(-60 1554.0 2110.0)" filter="url(#b1)"/>
<ellipse cx="1537.0" cy="2116.0" rx="1.5" ry="1.2" fill="#fff4e4" opacity="0.85" transform="rotate(0 1537.0 2116.0)" filter="url(#b1)"/>
<ellipse cx="1546.0" cy="2119.0" rx="2" ry="1" fill="#fff4e4" opacity="0.8" transform="rotate(0 1546.0 2119.0)" filter="url(#b1)"/>
</g>
</g>
<text x="1176.8" y="1950.3" font-size="32" text-anchor="start" fill="#000">PBS</text>
<text x="1176.8" y="2067.4" font-size="32.8" text-anchor="start" fill="#000">E8-2RNF4</text>
<rect x="1138.4" y="1902.2" width="473.0" height="381.2" fill="none" stroke="#000" stroke-width="3.0" rx="0"/>
<line x1="1754.9" y1="1939.0" x2="1754.9" y2="2254.4" stroke="#000" stroke-width="2.8" stroke-linecap="butt"/>
<line x1="1741.4" y1="2253.0" x2="1966.7" y2="2253.0" stroke="#000" stroke-width="2.8" stroke-linecap="butt"/>
<line x1="1741.4" y1="2253.0" x2="1754.9" y2="2253.0" stroke="#000" stroke-width="2.8" stroke-linecap="butt"/>
<text x="1737.6" y="2261.4" font-size="23.8" font-weight="bold" text-anchor="end" fill="#000">0.0</text>
<line x1="1741.4" y1="2148.6" x2="1754.9" y2="2148.6" stroke="#000" stroke-width="2.8" stroke-linecap="butt"/>
<text x="1737.6" y="2157.0" font-size="23.8" font-weight="bold" text-anchor="end" fill="#000">0.2</text>
<line x1="1741.4" y1="2044.5" x2="1754.9" y2="2044.5" stroke="#000" stroke-width="2.8" stroke-linecap="butt"/>
<text x="1737.6" y="2052.9" font-size="23.8" font-weight="bold" text-anchor="end" fill="#000">0.4</text>
<line x1="1741.4" y1="1940.4" x2="1754.9" y2="1940.4" stroke="#000" stroke-width="2.8" stroke-linecap="butt"/>
<text x="1737.6" y="1948.8" font-size="23.8" font-weight="bold" text-anchor="end" fill="#000">0.6</text>
<line x1="1814.1" y1="2253.0" x2="1814.1" y2="2266.0" stroke="#000" stroke-width="2.8" stroke-linecap="butt"/>
<line x1="1904.8" y1="2253.0" x2="1904.8" y2="2266.0" stroke="#000" stroke-width="2.8" stroke-linecap="butt"/>
<line x1="1814.8" y1="1986.4" x2="1814.8" y2="2041.1" stroke="#000" stroke-width="2.4" stroke-linecap="butt"/>
<line x1="1800.0" y1="1986.4" x2="1829.6" y2="1986.4" stroke="#000" stroke-width="2.4" stroke-linecap="butt"/>
<line x1="1800.0" y1="2041.1" x2="1829.6" y2="2041.1" stroke="#000" stroke-width="2.4" stroke-linecap="butt"/>
<line x1="1785.2" y1="2013.8" x2="1844.9" y2="2013.8" stroke="#000" stroke-width="2.4" stroke-linecap="butt"/>
<circle cx="1814.8" cy="1956.8" r="7.6" fill="#000" stroke="none" stroke-width="0"/>
<circle cx="1814.8" cy="1998.3" r="7.6" fill="#000" stroke="none" stroke-width="0"/>
<circle cx="1814.8" cy="2014.2" r="7.6" fill="#000" stroke="none" stroke-width="0"/>
<circle cx="1814.8" cy="2086.7" r="7.6" fill="#000" stroke="none" stroke-width="0"/>
<line x1="1905.2" y1="2086.2" x2="1905.2" y2="2116.3" stroke="#a8190f" stroke-width="2.4" stroke-linecap="butt"/>
<line x1="1890.4" y1="2086.2" x2="1920.3" y2="2086.2" stroke="#a8190f" stroke-width="2.4" stroke-linecap="butt"/>
<line x1="1890.4" y1="2116.3" x2="1920.3" y2="2116.3" stroke="#a8190f" stroke-width="2.4" stroke-linecap="butt"/>
<line x1="1875.2" y1="2101.0" x2="1935.5" y2="2101.0" stroke="#a8190f" stroke-width="2.4" stroke-linecap="butt"/>
<circle cx="1881.5" cy="2081.0" r="7.6" fill="#a8190f" stroke="none" stroke-width="0"/>
<circle cx="1929.1" cy="2086.7" r="7.6" fill="#a8190f" stroke="none" stroke-width="0"/>
<circle cx="1905.2" cy="2092.4" r="7.6" fill="#a8190f" stroke="none" stroke-width="0"/>
<circle cx="1905.2" cy="2145.2" r="7.6" fill="#a8190f" stroke="none" stroke-width="0"/>
<line x1="1814.1" y1="1926.1" x2="1914.6" y2="1926.1" stroke="#000" stroke-width="2.7" stroke-linecap="butt"/>
<line x1="1814.1" y1="1911.3" x2="1814.1" y2="1939.3" stroke="#000" stroke-width="2.7" stroke-linecap="butt"/>
<line x1="1914.6" y1="1911.3" x2="1914.6" y2="1939.3" stroke="#000" stroke-width="2.7" stroke-linecap="butt"/>
<text x="1864.9" y="1899.9" font-size="25.9" text-anchor="middle"><tspan font-style="italic">P</tspan>=0.0299</text>
<text x="1672.4" y="2087.0" font-size="33.4" text-anchor="middle" fill="#000" transform="rotate(-90 1672.4 2087.0)">Tumor weight (g)</text>
<text x="1806.5" y="2306.0" font-size="29.3" text-anchor="middle" fill="#000">PBS</text>
<text x="1926.0" y="2306.0" font-size="29.5" text-anchor="middle" fill="#000">E8-2RNF4</text>
</svg>
</body></html>
